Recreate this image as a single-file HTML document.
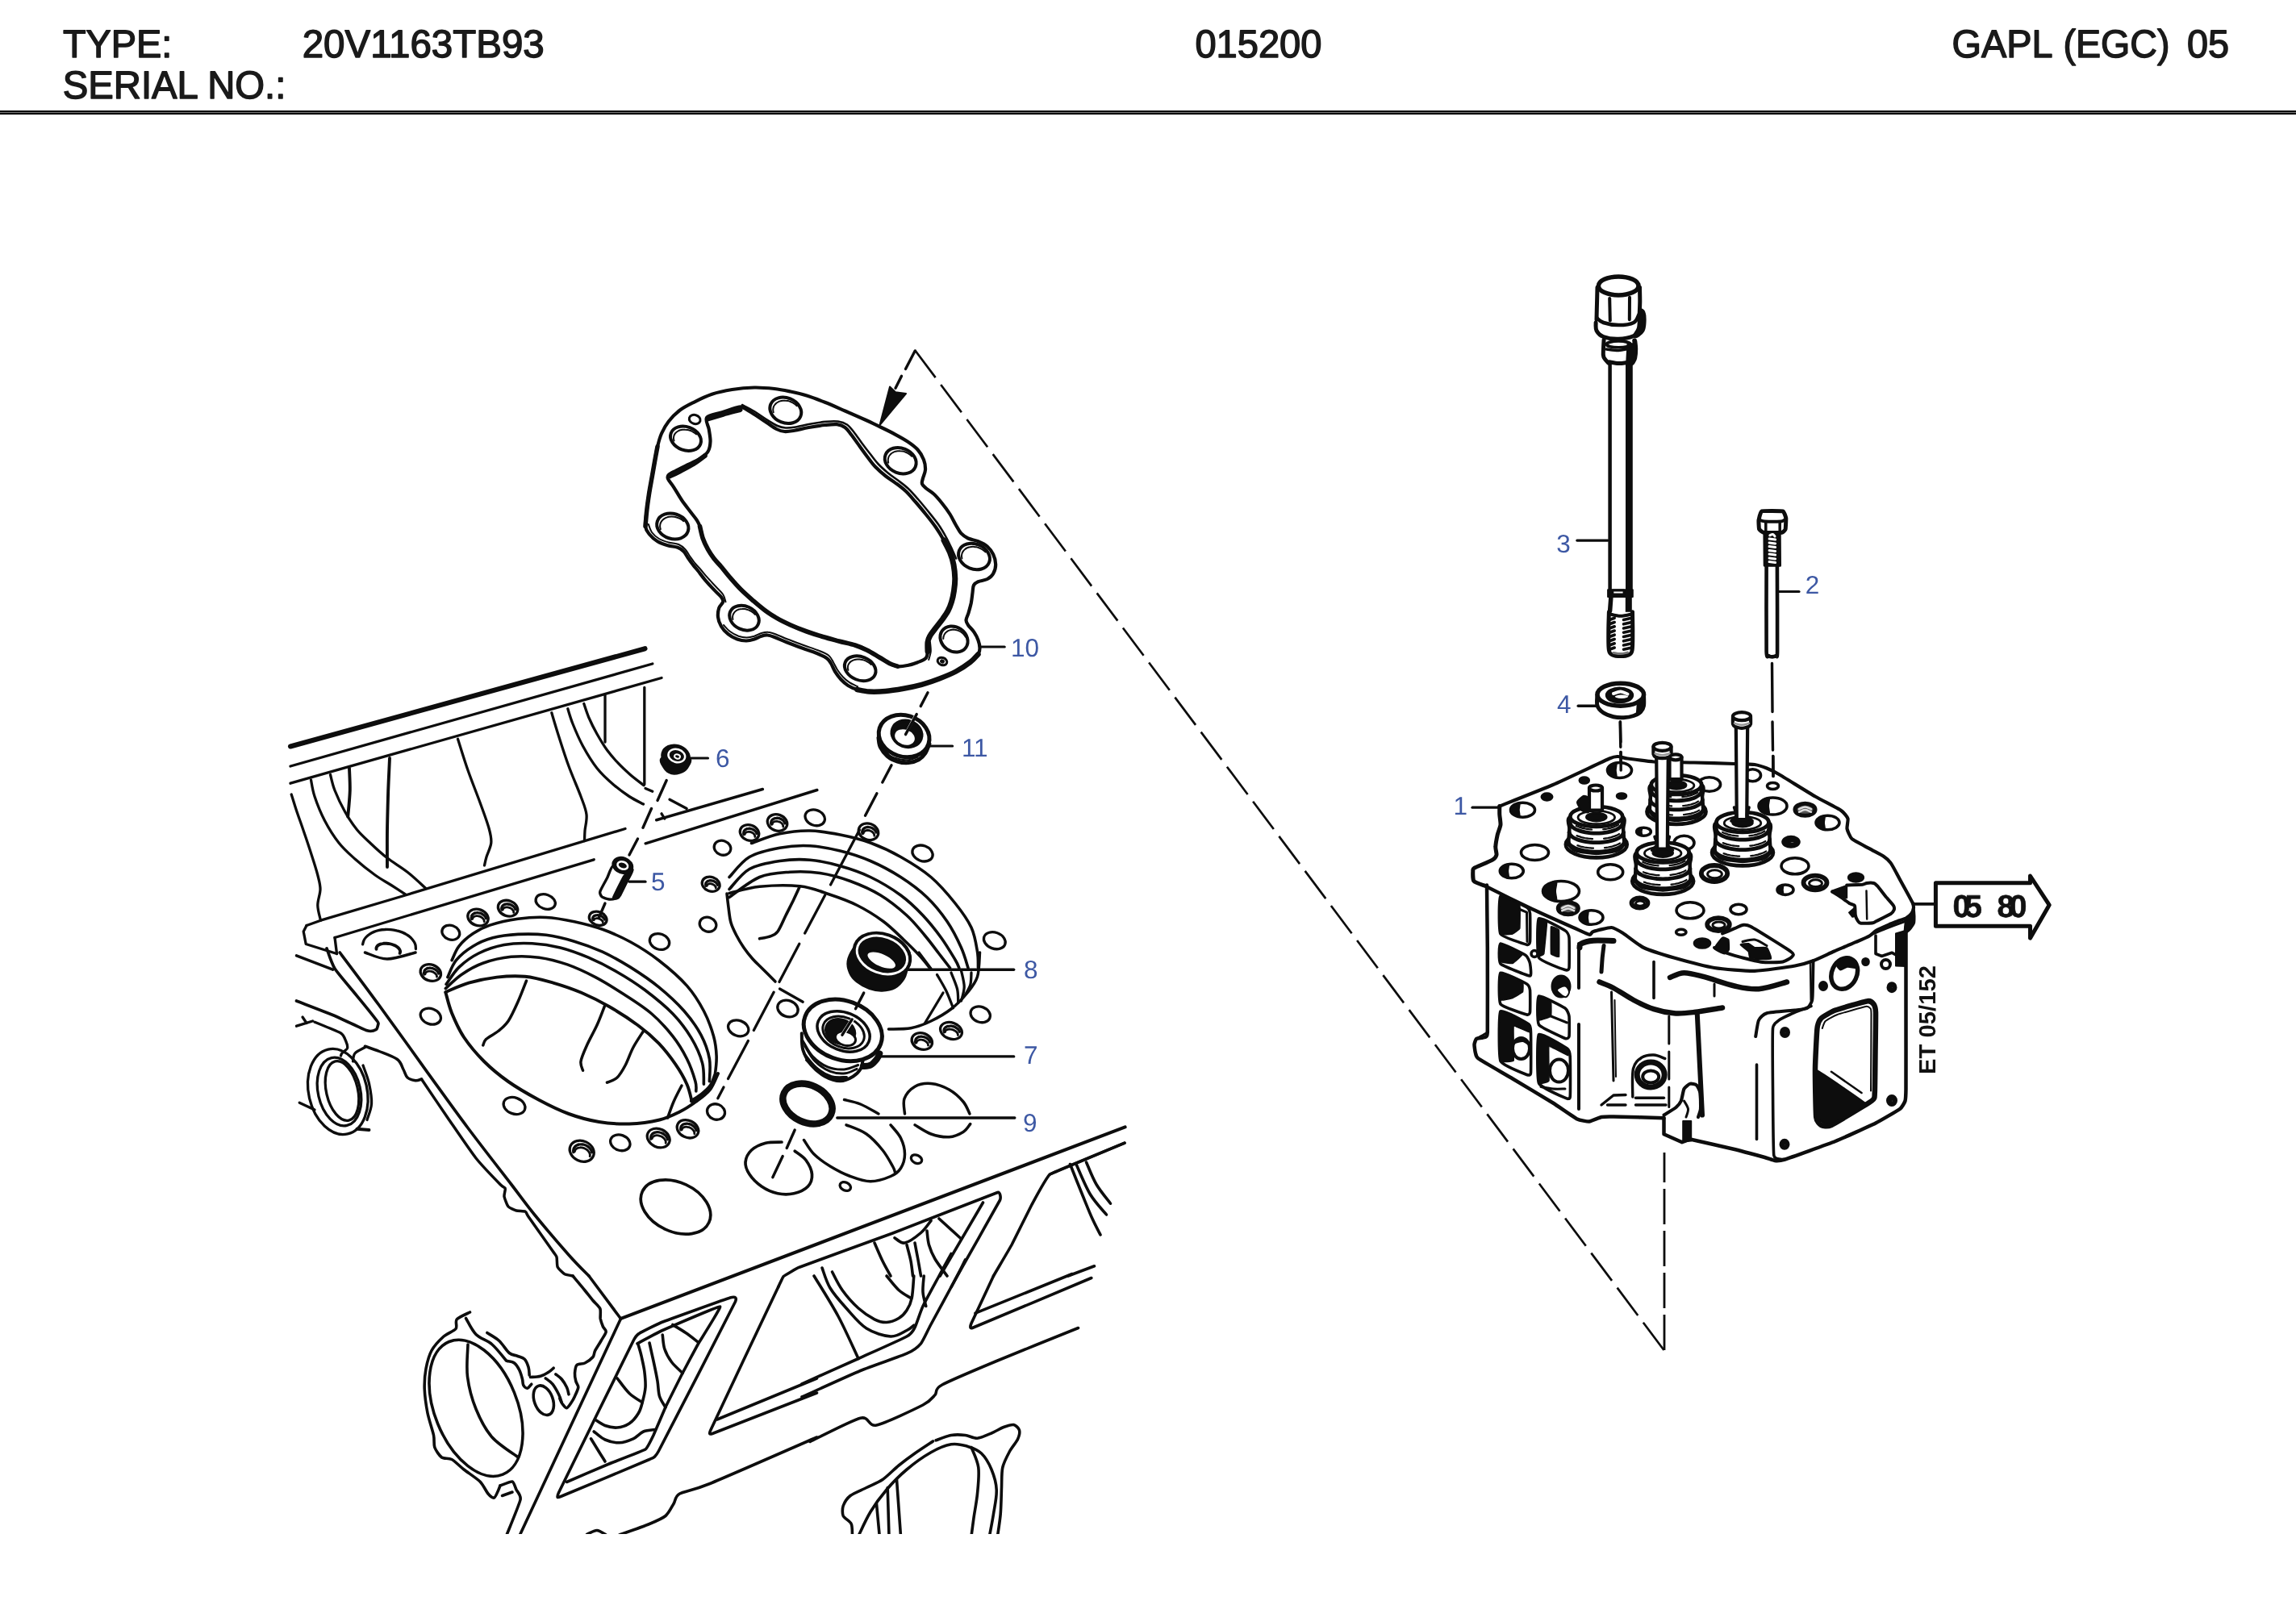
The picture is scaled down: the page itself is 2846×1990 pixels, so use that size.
<!DOCTYPE html>
<html lang="en"><head><meta charset="utf-8"><title>015200 - GAPL (EGC) 05</title>
<style>
html,body{margin:0;padding:0;background:#fff;}
body{width:2846px;height:1990px;overflow:hidden;font-family:"Liberation Sans",sans-serif;}
svg{display:block;}
svg text{font-family:"Liberation Sans",sans-serif;text-rendering:geometricPrecision;}
svg{will-change:transform;opacity:0.9999;}
</style></head><body>
<svg width="2846" height="1990" viewBox="0 0 2846 1990">
<rect width="2846" height="1990" fill="#fff"/>
<g fill="none" stroke="#0d0d0d" stroke-width="3" stroke-linecap="round" stroke-linejoin="round">
<rect x="0" y="137" width="2846" height="2" fill="#000" stroke="none"/>
<rect x="0" y="139" width="2846" height="1" fill="#7a7a7a" stroke="none"/>
<rect x="0" y="140" width="2846" height="2" fill="#000" stroke="none"/>
<text x="77.9" y="71.3" textLength="135.4" font-size="48.5" fill="#1a1a1a" stroke="#1a1a1a" stroke-width="1.5" stroke-linejoin="round" lengthAdjust="spacingAndGlyphs">TYPE:</text>
<text x="374.7" y="71.3" textLength="300.0" font-size="48.5" fill="#1a1a1a" stroke="#1a1a1a" stroke-width="1.5" stroke-linejoin="round" lengthAdjust="spacingAndGlyphs">20V1163TB93</text>
<text x="77.7" y="122.3" textLength="276.7" font-size="48.5" fill="#1a1a1a" stroke="#1a1a1a" stroke-width="1.5" stroke-linejoin="round" lengthAdjust="spacingAndGlyphs">SERIAL NO.:</text>
<text x="1481.4" y="71.3" textLength="157.1" font-size="48.5" fill="#1a1a1a" stroke="#1a1a1a" stroke-width="1.5" stroke-linejoin="round" lengthAdjust="spacingAndGlyphs">015200</text>
<text x="2419.6" y="71.3" textLength="125.1" font-size="48.5" fill="#1a1a1a" stroke="#1a1a1a" stroke-width="1.5" stroke-linejoin="round" lengthAdjust="spacingAndGlyphs">GAPL</text>
<text x="2557.4" y="71.3" textLength="132.1" font-size="48.5" fill="#1a1a1a" stroke="#1a1a1a" stroke-width="1.5" stroke-linejoin="round" lengthAdjust="spacingAndGlyphs">(EGC)</text>
<text x="2710.9" y="71.3" textLength="52.1" font-size="48.5" fill="#1a1a1a" stroke="#1a1a1a" stroke-width="1.5" stroke-linejoin="round" lengthAdjust="spacingAndGlyphs">05</text>
<path d="M800 652.5C799.5 647.5 801 639.2 801.8 632.5C802.5 625.8 803.5 619.2 804.5 612.5C805.5 605.8 806.8 599.2 808 592.5C809.2 585.8 810.3 579 811.5 572.5C812.7 566 813.6 559.6 815 553.8C816.4 547.9 817.7 542.7 820 537.5C822.3 532.3 825 527.3 828.8 522.5C832.5 517.7 837.3 512.7 842.5 508.8C847.7 504.8 853.3 502.1 860 498.8C866.7 495.4 874.6 491.4 882.5 488.8C890.4 486.1 898.8 484.4 907.5 483C916.2 481.6 926.2 480.7 935 480.5C943.8 480.3 952.5 481.2 960 482C967.5 482.8 973.3 484.1 980 485.5C986.7 486.9 992.9 488.3 1000 490.5C1007.1 492.7 1014.6 495.6 1022.5 498.8C1030.4 501.9 1039.2 505.9 1047.5 509.5C1055.8 513.1 1065 517.1 1072.5 520.5C1080 523.9 1086.2 527 1092.5 530C1098.8 533 1104.6 535.8 1110 538.8C1115.4 541.7 1120.4 544.4 1125 547.5C1129.6 550.6 1134.2 553.8 1137.5 557.5C1140.8 561.2 1143.4 565.8 1145 570C1146.6 574.2 1147.2 578.5 1147 582.5C1146.8 586.5 1144.4 590.8 1143.8 593.8C1143.1 596.7 1142.3 598 1143 600C1143.7 602 1145.6 603.4 1148 605.5C1150.4 607.6 1154.2 609.5 1157.5 612.5C1160.8 615.5 1164.2 619.6 1167.5 623.8C1170.8 627.9 1174.6 632.9 1177.5 637.5C1180.4 642.1 1182.7 647.3 1185 651.2C1187.3 655.2 1188.8 658.5 1191.2 661.2C1193.8 664 1196.5 665.8 1200 667.5C1203.5 669.2 1208.5 669.6 1212.5 671.2C1216.5 672.9 1220.6 674.8 1223.8 677.5C1226.9 680.2 1229.5 683.8 1231.2 687.5C1233 691.2 1234.2 696 1234.2 700C1234.2 704 1233 708.2 1231.2 711.2C1229.5 714.2 1226.9 716.3 1223.8 718C1220.6 719.7 1215.3 720 1212.5 721.2C1209.7 722.5 1208.2 723.2 1207 725.5C1205.8 727.8 1206 731.3 1205.5 735C1205 738.7 1204.6 743.3 1203.8 747.5C1202.9 751.7 1201.5 756.5 1200.5 760C1199.5 763.5 1197.6 766.2 1197.5 768.8C1197.4 771.2 1198.3 772.5 1200 775C1201.7 777.5 1205.4 780.6 1207.5 783.8C1209.6 786.9 1211.3 790.4 1212.5 793.8C1213.7 797.1 1214.5 800.8 1214.5 803.8C1214.5 806.7 1214.5 808.3 1212.5 811.2C1210.5 814.2 1207.1 817.7 1202.5 821.2C1197.9 824.8 1191.2 829.2 1185 832.5C1178.8 835.8 1172.1 838.5 1165 841.2C1157.9 844 1150 846.7 1142.5 848.8C1135 850.8 1127.5 852.4 1120 853.8C1112.5 855.1 1104.6 856.4 1097.5 857C1090.4 857.6 1083.3 857.8 1077.5 857.5C1071.7 857.2 1066.9 856.2 1062.5 855C1058.1 853.8 1054.6 852.1 1051.2 850C1047.9 847.9 1045.2 845.4 1042.5 842.5C1039.8 839.6 1037.1 835.8 1035 832.5C1032.9 829.2 1031.7 825.2 1030 822.5C1028.3 819.8 1027.9 818.3 1025 816.2C1022.1 814.2 1017.5 812.1 1012.5 810C1007.5 807.9 1001.2 806 995 803.8C988.8 801.5 980.8 798.5 975 796.2C969.2 794 964 791.5 960 790C956 788.5 954 787.7 951.2 787.5C948.5 787.3 946.5 787.9 943.8 788.8C941 789.6 938.1 791.5 935 792.5C931.9 793.5 928.5 794.5 925 794.5C921.5 794.5 917.5 793.9 913.8 792.5C910 791.1 905.8 789 902.5 786.2C899.2 783.5 895.8 779.8 893.8 776.2C891.7 772.7 890.4 768.8 890 765C889.6 761.2 890.2 756.9 891.2 753.8C892.3 750.6 895.8 748.5 896.2 746.2C896.7 744 895.6 742.5 893.8 740C891.9 737.5 888.3 734.8 885 731.2C881.7 727.7 877.1 722.7 873.8 718.8C870.4 714.8 867.5 710.6 865 707.5C862.5 704.4 860.8 702.7 858.8 700C856.7 697.3 854.4 694 852.5 691.2C850.6 688.5 849.6 685.8 847.5 683.8C845.4 681.7 843.3 680 840 678.8C836.7 677.5 831.7 677.5 827.5 676.2C823.3 675 818.8 673.5 815 671.2C811.2 669 807.5 665.6 805 662.5C802.5 659.4 800.5 657.5 800 652.5Z" stroke-width="4.2"/>
<path d="M876.2 517.5C879 514 888.3 513.4 895 511.2C901.7 509.1 911.7 505.3 916.2 504.5C920.8 503.7 919.4 504.7 922.5 506.2C925.6 507.8 930.4 510.8 935 513.8C939.6 516.7 945.4 520.7 950 523.8C954.6 526.8 958.8 530.1 962.5 532C966.2 533.9 968.8 534.7 972.5 535C976.2 535.3 980 534.6 985 533.8C990 532.9 996.2 531.1 1002.5 530C1008.8 528.9 1016.7 527.6 1022.5 527C1028.3 526.4 1033.3 525.8 1037.5 526.2C1041.7 526.8 1044.6 527.9 1047.5 530C1050.4 532.1 1052.1 535 1055 538.8C1057.9 542.5 1061.7 547.9 1065 552.5C1068.3 557.1 1071.7 561.9 1075 566.2C1078.3 570.6 1081.2 574.8 1085 578.8C1088.8 582.7 1093.3 586.7 1097.5 590C1101.7 593.3 1105.8 595.6 1110 598.8C1114.2 601.9 1118.3 604.8 1122.5 608.8C1126.7 612.7 1130.8 617.7 1135 622.5C1139.2 627.3 1143.3 632.3 1147.5 637.5C1151.7 642.7 1156.2 648.3 1160 653.8C1163.8 659.2 1167.1 664.8 1170 670C1172.9 675.2 1175.5 680 1177.5 685C1179.5 690 1181 694.6 1182 700C1183 705.4 1183.7 712.1 1183.8 717.5C1183.8 722.9 1183.2 727.7 1182.5 732.5C1181.8 737.3 1180.8 742.1 1179.5 746.2C1178.2 750.4 1177 753.8 1175 757.5C1173 761.2 1170.2 765 1167.5 768.8C1164.8 772.5 1161.2 776.7 1158.8 780C1156.2 783.3 1154 786 1152.5 788.8C1151 791.5 1150.4 793.1 1150 796.2C1149.6 799.4 1150.4 804.2 1150 807.5C1149.6 810.8 1149.6 814 1147.5 816.2C1145.4 818.5 1141.2 819.8 1137.5 821.2C1133.8 822.7 1129.2 824.2 1125 825C1120.8 825.8 1116.2 826.7 1112.5 826.2C1108.8 825.8 1106.2 824.4 1102.5 822.5C1098.8 820.6 1094.6 817.7 1090 815C1085.4 812.3 1080 808.8 1075 806.2C1070 803.8 1065.8 801.9 1060 800C1054.2 798.1 1046.7 796.8 1040 795C1033.3 793.2 1026.7 791.5 1020 789.5C1013.3 787.5 1006.7 785.4 1000 783C993.3 780.6 986.2 777.8 980 775C973.8 772.2 967.9 769.4 962.5 766.2C957.1 763.1 952.5 760 947.5 756.2C942.5 752.5 937.5 748.1 932.5 743.8C927.5 739.4 922.1 734.6 917.5 730C912.9 725.4 909 720.8 905 716.2C901 711.7 897.1 706.5 893.8 702.5C890.4 698.5 887.7 696 885 692.5C882.3 689 879.8 685.4 877.5 681.2C875.2 677.1 872.9 672.3 871.2 667.5C869.6 662.7 868.8 656.2 867.5 652.5C866.2 648.8 865.6 647.9 863.8 645C861.9 642.1 859.4 639.2 856.2 635C853.1 630.8 848.5 625.2 845 620C841.5 614.8 837.8 608.1 835 603.8C832.2 599.4 829 596.2 828 593.8C827 591.2 827.2 590.4 828.8 588.8C830.3 587.1 833.5 585.8 837.5 583.8C841.5 581.7 847.5 578.8 852.5 576.2C857.5 573.8 863.3 571.5 867.5 568.8C871.7 566 875.3 563.5 877.5 560C879.7 556.5 880.3 552.1 880.5 547.5C880.7 542.9 879.5 537.5 878.8 532.5C878 527.5 873.5 521 876.2 517.5Z" stroke-width="4.2"/>
<path d="M1170 670C1171.2 672.5 1175.5 680 1177.5 685C1179.5 690 1181 694.6 1182 700C1183 705.4 1183.7 712.1 1183.8 717.5C1183.8 722.9 1183.2 727.7 1182.5 732.5C1181.8 737.3 1180.8 742.1 1179.5 746.2C1178.2 750.4 1177 753.8 1175 757.5C1173 761.2 1170.2 765 1167.5 768.8C1164.8 772.5 1161.2 776.7 1158.8 780C1156.2 783.3 1154 786 1152.5 788.8C1151 791.5 1150.4 793.1 1150 796.2C1149.6 799.4 1150 805.6 1150 807.5" stroke-width="7"/>
<path d="M1112.5 826.2C1110.8 825.6 1106.2 824.4 1102.5 822.5C1098.8 820.6 1094.6 817.7 1090 815C1085.4 812.3 1080 808.8 1075 806.2C1070 803.8 1065.8 801.9 1060 800C1054.2 798.1 1046.7 796.8 1040 795C1033.3 793.2 1026.7 791.5 1020 789.5C1013.3 787.5 1006.7 785.4 1000 783C993.3 780.6 986.2 777.8 980 775C973.8 772.2 967.9 769.4 962.5 766.2C957.1 763.1 952.5 760 947.5 756.2C942.5 752.5 937.5 748.1 932.5 743.8C927.5 739.4 922.1 734.6 917.5 730C912.9 725.4 909 720.8 905 716.2C901 711.7 897.1 706.5 893.8 702.5C890.4 698.5 887.7 696 885 692.5C882.3 689 879.8 685.4 877.5 681.2C875.2 677.1 872.9 672.3 871.2 667.5C869.6 662.7 868.1 655 867.5 652.5" stroke-width="5.6"/>
<path d="M1212.5 811.2C1210.8 812.9 1207.1 817.7 1202.5 821.2C1197.9 824.8 1191.2 829.2 1185 832.5C1178.8 835.8 1172.1 838.5 1165 841.2C1157.9 844 1150 846.7 1142.5 848.8C1135 850.8 1127.5 852.4 1120 853.8C1112.5 855.1 1104.6 856.4 1097.5 857C1090.4 857.6 1083.3 857.8 1077.5 857.5C1071.7 857.2 1065 855.4 1062.5 855" stroke-width="6.5"/>
<path d="M800 652.5C800.3 649.2 801 639.2 801.8 632.5C802.5 625.8 803.5 619.2 804.5 612.5C805.5 605.8 806.8 599.2 808 592.5C809.2 585.8 810.3 579 811.5 572.5C812.7 566 814.4 556.9 815 553.8" stroke-width="5.5"/>
<path d="M877.5 519.5C880.6 518.5 889.6 515.7 896.2 513.8C902.9 511.8 914 509 917.5 508" stroke-width="6"/>
<path d="M830 590.5C832.1 589.5 837.5 587.1 842.5 584.5C847.5 581.9 854.8 578.2 860 575C865.2 571.8 871.5 566.7 873.8 565" stroke-width="6"/>
<path d="M920 502C922.5 503.3 930 507 935 510C940 513 945.2 517 950 520C954.8 523 959.8 526.2 963.8 528C967.7 529.8 970 530.2 973.8 530.5C977.5 530.8 981.2 530.3 986.2 529.5C991.2 528.7 997.5 526.9 1003.8 525.8C1010 524.6 1017.9 523.3 1023.8 522.8C1029.6 522.2 1034.4 521.9 1038.8 522.5C1043.1 523.1 1046.7 524.2 1050 526.5C1053.3 528.8 1055.6 532.3 1058.8 536.2C1061.9 540.2 1065.4 545.5 1068.8 550C1072.1 554.5 1075.4 558.8 1078.8 563C1082.1 567.2 1085.1 571.6 1088.8 575.5C1092.4 579.4 1096.5 582.9 1100.5 586.2C1104.5 589.6 1108.8 592.3 1113 595.5C1117.2 598.7 1121.3 601.6 1125.5 605.5C1129.7 609.4 1133.8 614.2 1138 619C1142.2 623.8 1146.3 628.8 1150.5 634C1154.7 639.2 1159.2 644.6 1163 650C1166.8 655.4 1170.1 661.2 1173 666.5C1175.9 671.8 1178.5 677.7 1180.5 682C1182.5 686.3 1184.2 690.8 1185 692.5" stroke-width="2.6"/>
<path d="M803.8 650C804.5 651.7 805.8 657 808 660C810.2 663 813.5 665.9 817 668C820.5 670.1 824.7 671.3 828.8 672.5C832.8 673.7 837.8 673.5 841.2 675C844.7 676.5 847.2 678.8 849.5 681.2C851.8 683.7 853 686.7 855 689.5C857 692.3 859.1 695.3 861.2 698C863.4 700.7 865.4 702.5 868 705.5C870.6 708.5 873.8 712.6 877 716.2C880.2 719.9 884.3 724 887.5 727.5C890.7 731 894.2 733.9 896.2 737C898.2 740.1 899 744.7 899.5 746.2" stroke-width="2"/>
<path d="M897 775C898.3 776.3 901.9 780.7 905 783C908.1 785.3 912.1 787.5 915.5 788.8C918.9 790 922.2 790.5 925.5 790.5C928.8 790.5 932 789.7 935 788.8C938 787.8 940.9 785.8 943.8 785C946.6 784.2 949.1 783.5 952 783.8C954.9 784 957.2 784.8 961.2 786.2C965.3 787.7 970.4 790.2 976.2 792.5C982.1 794.8 990 797.7 996.2 800C1002.5 802.3 1008.6 804.2 1013.8 806.2C1018.9 808.3 1023.8 810 1027 812.5C1030.2 815 1031.2 818.2 1033 821.2C1034.8 824.2 1036 827.5 1038 830.5C1040 833.5 1042.5 836.9 1045 839.5C1047.5 842.1 1050 844.3 1053 846.2C1056 848.2 1061.3 850.4 1063 851.2" stroke-width="2"/>
<path d="M1153 796.2C1153.1 798.1 1154 803.9 1153.8 807.5C1153.5 811.1 1151.7 816.2 1151.2 818" stroke-width="2"/>
<ellipse cx="850" cy="543.8" rx="19.5" ry="14.5" transform="rotate(20 850 543.8)" stroke-width="4"/>
<path d="M835.5 546.6C835.4 546.2 835.1 544.9 835 544.1C834.9 543.3 835 542.5 835.1 541.8C835.2 541 835.4 540.2 835.7 539.5C836 538.8 836.4 538.1 836.9 537.5C837.4 536.8 837.9 536.2 838.6 535.7C839.2 535.2 839.9 534.7 840.7 534.3C841.5 533.9 842.3 533.6 843.2 533.3C844.1 533.1 845.1 532.9 846 532.8C847 532.7 848 532.6 849 532.7C850 532.7 851.1 532.8 852.1 533C853.1 533.2 854.2 533.5 855.2 533.8C856.2 534.1 857.2 534.5 858.1 535C859 535.5 860 536 860.8 536.6C861.7 537.2 862.8 538.2 863.2 538.5" stroke-width="2"/>
<ellipse cx="973.8" cy="508.8" rx="20" ry="15.5" transform="rotate(22 973.8 508.8)" stroke-width="4"/>
<path d="M958.7 511.3C958.6 510.9 958.3 509.6 958.3 508.7C958.2 507.8 958.3 507 958.5 506.1C958.6 505.3 958.9 504.5 959.2 503.7C959.6 503 960 502.2 960.6 501.6C961.1 500.9 961.7 500.3 962.4 499.7C963.1 499.2 963.9 498.7 964.7 498.3C965.5 497.9 966.4 497.5 967.4 497.3C968.3 497 969.3 496.8 970.3 496.7C971.3 496.6 972.3 496.6 973.4 496.7C974.4 496.7 975.5 496.9 976.6 497.1C977.6 497.3 978.7 497.6 979.7 498C980.7 498.4 981.7 498.8 982.7 499.3C983.6 499.9 984.5 500.5 985.4 501.1C986.2 501.7 987.3 502.8 987.7 503.2" stroke-width="2"/>
<ellipse cx="1116.2" cy="571.2" rx="20" ry="15.5" transform="rotate(22 1116.2 571.2)" stroke-width="4"/>
<path d="M1101.2 573.8C1101.1 573.4 1100.8 572.1 1100.8 571.2C1100.7 570.3 1100.8 569.5 1101 568.6C1101.1 567.8 1101.4 567 1101.7 566.2C1102.1 565.5 1102.5 564.7 1103.1 564.1C1103.6 563.4 1104.2 562.8 1104.9 562.2C1105.6 561.7 1106.4 561.2 1107.2 560.8C1108 560.4 1108.9 560 1109.9 559.8C1110.8 559.5 1111.8 559.3 1112.8 559.2C1113.8 559.1 1114.8 559.1 1115.9 559.2C1116.9 559.2 1118 559.4 1119.1 559.6C1120.1 559.8 1121.2 560.1 1122.2 560.5C1123.2 560.9 1124.2 561.3 1125.2 561.8C1126.1 562.4 1127 563 1127.9 563.6C1128.7 564.2 1129.8 565.3 1130.2 565.7" stroke-width="2"/>
<ellipse cx="833.8" cy="652.5" rx="20" ry="15.5" transform="rotate(18 833.8 652.5)" stroke-width="4"/>
<path d="M818.8 656.2C818.7 655.8 818.3 654.5 818.2 653.6C818.1 652.8 818.1 651.9 818.2 651.1C818.3 650.2 818.5 649.4 818.8 648.6C819.1 647.8 819.5 647.1 820 646.4C820.4 645.7 821 645 821.7 644.4C822.3 643.8 823.1 643.3 823.8 642.8C824.6 642.3 825.5 641.9 826.4 641.6C827.3 641.3 828.3 641 829.3 640.8C830.3 640.7 831.4 640.6 832.4 640.6C833.5 640.6 834.6 640.6 835.6 640.8C836.7 640.9 837.8 641.2 838.8 641.5C839.8 641.8 840.9 642.2 841.9 642.6C842.8 643.1 843.8 643.6 844.7 644.2C845.6 644.7 846.8 645.8 847.2 646.1" stroke-width="2"/>
<ellipse cx="1207.5" cy="690" rx="20" ry="15.5" transform="rotate(22 1207.5 690)" stroke-width="4"/>
<path d="M1192.4 692.6C1192.4 692.1 1192.1 690.8 1192 689.9C1192 689.1 1192 688.2 1192.2 687.4C1192.4 686.6 1192.6 685.7 1193 685C1193.3 684.2 1193.8 683.5 1194.3 682.8C1194.8 682.2 1195.5 681.5 1196.2 681C1196.8 680.4 1197.6 679.9 1198.4 679.5C1199.3 679.1 1200.2 678.8 1201.1 678.5C1202 678.3 1203 678.1 1204 678C1205 677.9 1206.1 677.8 1207.1 677.9C1208.2 678 1209.3 678.1 1210.3 678.3C1211.4 678.6 1212.4 678.9 1213.4 679.2C1214.5 679.6 1215.5 680.1 1216.4 680.6C1217.4 681.1 1218.3 681.7 1219.1 682.4C1220 683 1221.1 684.1 1221.5 684.4" stroke-width="2"/>
<ellipse cx="922.5" cy="766.2" rx="19" ry="14.5" transform="rotate(25 922.5 766.2)" stroke-width="4"/>
<path d="M908.4 767.9C908.4 767.5 908.1 766.2 908.1 765.4C908.1 764.6 908.2 763.8 908.4 763C908.6 762.3 908.9 761.5 909.3 760.9C909.6 760.2 910.1 759.5 910.6 758.9C911.1 758.3 911.7 757.8 912.4 757.3C913.1 756.9 913.8 756.4 914.6 756.1C915.4 755.8 916.3 755.5 917.2 755.3C918 755.1 919 755 919.9 755C920.9 754.9 921.9 755 922.9 755.1C923.8 755.2 924.8 755.4 925.8 755.7C926.8 755.9 927.8 756.3 928.7 756.7C929.7 757.1 930.6 757.6 931.5 758.1C932.3 758.6 933.2 759.2 933.9 759.9C934.7 760.5 935.7 761.6 936.1 761.9" stroke-width="2"/>
<ellipse cx="1066.2" cy="828.8" rx="20" ry="14.5" transform="rotate(22 1066.2 828.8)" stroke-width="4"/>
<path d="M1051.4 830.9C1051.3 830.5 1050.9 829.2 1050.9 828.4C1050.8 827.6 1050.9 826.8 1051 826C1051.1 825.2 1051.4 824.5 1051.7 823.8C1052 823.1 1052.5 822.4 1053 821.8C1053.5 821.2 1054.1 820.6 1054.8 820.1C1055.4 819.6 1056.2 819.2 1057 818.8C1057.8 818.4 1058.7 818.1 1059.6 817.9C1060.5 817.7 1061.5 817.6 1062.5 817.5C1063.5 817.4 1064.5 817.4 1065.6 817.5C1066.6 817.6 1067.7 817.8 1068.7 818C1069.7 818.2 1070.8 818.5 1071.8 818.9C1072.8 819.3 1073.8 819.8 1074.8 820.3C1075.7 820.8 1076.7 821.4 1077.5 822C1078.4 822.6 1079.5 823.7 1079.9 824" stroke-width="2"/>
<ellipse cx="1182.5" cy="792.5" rx="18" ry="15" transform="rotate(35 1182.5 792.5)" stroke-width="4"/>
<path d="M1169.3 792.1C1169.3 791.7 1169.4 790.4 1169.6 789.6C1169.7 788.8 1170 788 1170.3 787.3C1170.7 786.6 1171.1 785.9 1171.6 785.2C1172.1 784.6 1172.7 784 1173.3 783.5C1173.9 782.9 1174.6 782.5 1175.3 782.1C1176.1 781.7 1176.9 781.4 1177.7 781.2C1178.5 780.9 1179.4 780.8 1180.3 780.7C1181.2 780.6 1182.1 780.6 1183 780.7C1183.9 780.8 1184.9 780.9 1185.8 781.2C1186.7 781.4 1187.6 781.7 1188.4 782.1C1189.3 782.5 1190.2 783 1191 783.5C1191.8 784.1 1192.6 784.7 1193.3 785.3C1194 785.9 1194.6 786.6 1195.2 787.4C1195.8 788.1 1196.5 789.3 1196.8 789.7" stroke-width="2"/>
<ellipse cx="861.2" cy="520" rx="7" ry="5.5" transform="rotate(15 861.2 520)"/>
<ellipse cx="1168" cy="820" rx="6" ry="4.5" transform="rotate(20 1168 820)"/>
<ellipse cx="1168" cy="820" rx="2" ry="1.5" transform="rotate(20 1168 820)" stroke-width="2" fill="#0d0d0d"/>
<path d="M360 925.5L799.5 804.2" stroke-width="6.1"/>
<path d="M360 950L808.8 823" stroke-width="3.3"/>
<path d="M360 971.2L820 840.5" stroke-width="3.3"/>
<path d="M385.5 967C386.2 970.4 387.2 979.1 390 987.5C392.8 995.9 397.5 1007.9 402.5 1017.5C407.5 1027.1 413.8 1037.1 420 1045C426.2 1052.9 432.5 1058.3 440 1065C447.5 1071.7 457.5 1079.6 465 1085C472.5 1090.4 478.8 1093.5 485 1097.5C491.2 1101.5 499.6 1106.9 502.5 1108.8" stroke-width="3.3"/>
<path d="M409.5 960.5C410.4 963.8 412 972.4 415 980C418 987.6 422.9 998.1 427.5 1006.2C432.1 1014.4 437.1 1022.1 442.5 1028.8C447.9 1035.4 453.8 1040.4 460 1046.2C466.2 1052.1 472.5 1057.9 480 1063.8C487.5 1069.6 497.1 1075 505 1081.2C512.9 1087.5 523.8 1097.9 527.5 1101.2" stroke-width="3.3"/>
<path d="M433 952.5C433.1 957.1 434 970 433.8 980C433.5 990 431.7 1007.1 431.2 1012.5" stroke-width="3.9"/>
<path d="M483 940C482.7 946.7 481.8 965 481.2 980C480.8 995 480.2 1014.2 480 1030C479.8 1045.8 480 1067.5 480 1075" stroke-width="3.9"/>
<path d="M361.2 985C362.3 988.3 365 997.5 367.5 1005C370 1012.5 373.1 1020.8 376.2 1030C379.4 1039.2 383.3 1050.8 386.2 1060C389.2 1069.2 392 1077.9 393.8 1085C395.5 1092.1 397 1096.2 397 1102.5C397 1108.8 393.7 1116 393.8 1122.5C393.8 1129 396.9 1138.1 397.5 1141.2" stroke-width="3.3"/>
<path d="M567.5 916.2C569.6 922.7 575.4 941.9 580 955C584.6 968.1 590.6 982.9 595 995C599.4 1007.1 604 1019.2 606.2 1027.5C608.5 1035.8 609.3 1039.2 608.8 1045C608.2 1050.8 604.4 1057.8 603 1062.5C601.6 1067.2 600.9 1071.2 600.5 1073" stroke-width="3.3"/>
<path d="M683.8 883.8C685.2 888.5 689 901.5 692.5 912.5C696 923.5 700.4 937.5 705 950C709.6 962.5 716.3 977.5 720 987.5C723.7 997.5 726.2 1002.9 727 1010C727.8 1017.1 725.4 1024.6 725 1030C724.6 1035.4 724.6 1040.4 724.5 1042.5" stroke-width="3.3"/>
<path d="M703.8 878.8C704.8 881.9 706.9 889.8 710 897.5C713.1 905.2 717.5 915.8 722.5 925C727.5 934.2 733.8 944.6 740 952.5C746.2 960.4 753.3 966.7 760 972.5C766.7 978.3 773.8 983.4 780 987.5C786.2 991.6 794.6 995.4 797.5 997" stroke-width="3.3"/>
<path d="M723.8 872.5C724.8 875.4 727.3 883.8 730 890C732.7 896.2 736.2 903.3 740 910C743.8 916.7 748.1 924 752.5 930C756.9 936 761.5 941.2 766.2 946.2C771 951.3 776 955.9 781.2 960.5C786.5 965.1 795.2 971.5 798 973.8" stroke-width="3.3"/>
<path d="M750 862.5L750 920" stroke-width="3.3"/>
<path d="M798.8 852.5L798.8 972.5" stroke-width="3.3"/>
<path d="M800 977.5L808.8 981.2" stroke-width="3.3"/>
<path d="M380 1147.5C380 1147.5 397.5 1141.2 397.5 1141.2C397.5 1141.2 502.5 1110 502.5 1110C502.5 1110 775 1027.5 775 1027.5" stroke-width="3.3"/>
<path d="M415 1162.5L736.2 1065.8" stroke-width="3.3"/>
<path d="M830 991.2L851.2 1002.5" stroke-width="3.3"/>
<path d="M820 1008.8L823.8 1015" stroke-width="3.3"/>
<path d="M380 1147.5L376.2 1155L379.2 1170.5L417.5 1182.5" stroke-width="3.3"/>
<path d="M415 1162.5L417.5 1182.5" stroke-width="3.3"/>
<ellipse cx="676.2" cy="1118" rx="12.5" ry="8.8" transform="rotate(20 676.2 1118)" stroke-width="3.3"/>
<ellipse cx="629.5" cy="1126.2" rx="12.5" ry="9.5" transform="rotate(20 629.5 1126.2)" stroke-width="3.3"/>
<path d="M622.1 1128.1C622 1127.9 621.8 1127.1 621.8 1126.6C621.7 1126.1 621.8 1125.6 621.9 1125.1C622 1124.7 622.2 1124.2 622.5 1123.8C622.7 1123.4 623.1 1123 623.4 1122.7C623.8 1122.3 624.3 1122 624.8 1121.8C625.3 1121.5 625.8 1121.3 626.4 1121.2C626.9 1121 627.6 1121 628.2 1120.9C628.8 1120.9 629.5 1120.9 630.1 1121C630.8 1121.1 631.4 1121.2 632.1 1121.4C632.7 1121.6 633.4 1121.9 634 1122.2C634.6 1122.5 635.1 1122.8 635.7 1123.2C636.2 1123.6 636.7 1124 637.1 1124.4C637.5 1124.9 637.9 1125.4 638.2 1125.9C638.5 1126.3 638.8 1127.1 638.9 1127.4" stroke-width="3.3"/>
<path d="M623.3 1128.1C623.3 1128 623.4 1127.5 623.5 1127.1C623.6 1126.8 623.8 1126.6 624.1 1126.3C624.3 1126 624.6 1125.8 625 1125.6C625.3 1125.4 625.7 1125.3 626.1 1125.2C626.5 1125 626.9 1125 627.4 1124.9C627.9 1124.9 628.4 1124.9 628.9 1124.9C629.4 1125 629.9 1125 630.4 1125.2C630.9 1125.3 631.4 1125.5 631.9 1125.6C632.3 1125.8 632.8 1126.1 633.3 1126.3C633.7 1126.6 634.1 1126.9 634.5 1127.2C634.9 1127.5 635.2 1127.8 635.5 1128.2C635.8 1128.5 636 1128.9 636.2 1129.2C636.4 1129.6 636.6 1130 636.7 1130.3C636.7 1130.7 636.7 1131.2 636.7 1131.4" stroke-width="2.8"/>
<ellipse cx="592.5" cy="1137.5" rx="13" ry="10" transform="rotate(20 592.5 1137.5)" stroke-width="3.3"/>
<path d="M584.6 1139.5C584.5 1139.2 584.3 1138.4 584.3 1137.8C584.2 1137.3 584.3 1136.8 584.4 1136.3C584.5 1135.7 584.8 1135.3 585 1134.8C585.3 1134.4 585.7 1133.9 586.1 1133.6C586.5 1133.2 587 1132.9 587.5 1132.6C588 1132.3 588.6 1132.1 589.2 1132C589.8 1131.8 590.4 1131.7 591.1 1131.7C591.8 1131.6 592.5 1131.7 593.2 1131.8C593.8 1131.8 594.5 1132 595.2 1132.2C595.9 1132.4 596.6 1132.7 597.2 1133C597.8 1133.3 598.4 1133.7 599 1134.1C599.5 1134.5 600.1 1134.9 600.5 1135.4C601 1135.9 601.4 1136.4 601.7 1136.9C602 1137.4 602.3 1138.3 602.4 1138.5" stroke-width="3.3"/>
<path d="M585.8 1139.3C585.8 1139.1 585.9 1138.5 586 1138.2C586.2 1137.9 586.4 1137.5 586.7 1137.3C586.9 1137 587.3 1136.7 587.6 1136.5C588 1136.3 588.4 1136.1 588.8 1136C589.3 1135.8 589.8 1135.7 590.3 1135.7C590.8 1135.6 591.3 1135.6 591.8 1135.7C592.4 1135.7 592.9 1135.8 593.5 1135.9C594 1136.1 594.5 1136.2 595.1 1136.4C595.6 1136.6 596.1 1136.9 596.6 1137.2C597 1137.4 597.5 1137.8 597.9 1138.1C598.3 1138.4 598.6 1138.8 598.9 1139.2C599.3 1139.5 599.5 1139.9 599.7 1140.3C599.9 1140.7 600.1 1141.1 600.2 1141.5C600.2 1141.9 600.2 1142.5 600.2 1142.7" stroke-width="2.8"/>
<ellipse cx="558.8" cy="1156.2" rx="11.2" ry="8.8" transform="rotate(20 558.8 1156.2)" stroke-width="3.3"/>
<ellipse cx="741.2" cy="1138.8" rx="11.2" ry="8.2" transform="rotate(20 741.2 1138.8)" stroke-width="3.3"/>
<path d="M735 1140.4C735 1140.2 734.8 1139.6 734.8 1139.2C734.7 1138.8 734.8 1138.4 734.9 1138C734.9 1137.6 735.1 1137.2 735.3 1136.9C735.5 1136.6 735.8 1136.2 736.1 1136C736.4 1135.7 736.8 1135.5 737.2 1135.3C737.7 1135.1 738.1 1134.9 738.6 1134.8C739.1 1134.7 739.6 1134.7 740.2 1134.7C740.7 1134.6 741.3 1134.7 741.8 1134.8C742.4 1134.8 742.9 1135 743.5 1135.1C744 1135.3 744.6 1135.5 745.1 1135.8C745.6 1136 746.1 1136.3 746.6 1136.6C747 1136.9 747.5 1137.3 747.8 1137.7C748.2 1138 748.5 1138.4 748.8 1138.8C749.1 1139.2 749.3 1139.9 749.5 1140.1" stroke-width="3.3"/>
<path d="M736.2 1140.8C736.3 1140.7 736.3 1140.4 736.4 1140.1C736.5 1139.9 736.7 1139.7 736.8 1139.5C737 1139.4 737.3 1139.2 737.5 1139.1C737.8 1138.9 738.1 1138.8 738.4 1138.8C738.8 1138.7 739.1 1138.6 739.5 1138.6C739.9 1138.6 740.3 1138.6 740.7 1138.7C741.1 1138.7 741.5 1138.8 741.9 1138.9C742.3 1139 742.7 1139.1 743.1 1139.3C743.5 1139.5 743.9 1139.6 744.3 1139.8C744.6 1140 745 1140.3 745.3 1140.5C745.6 1140.7 745.9 1141 746.2 1141.3C746.4 1141.5 746.6 1141.8 746.8 1142.1C747 1142.3 747.1 1142.6 747.2 1142.9C747.2 1143.1 747.2 1143.5 747.3 1143.7" stroke-width="2.8"/>
<ellipse cx="881.2" cy="1096.2" rx="11.2" ry="8.8" transform="rotate(20 881.2 1096.2)" stroke-width="3.3"/>
<path d="M875 1098.2C874.9 1097.9 874.7 1097.3 874.7 1096.8C874.7 1096.4 874.7 1095.9 874.8 1095.5C874.9 1095.1 875.1 1094.7 875.3 1094.3C875.6 1094 875.9 1093.6 876.2 1093.3C876.5 1093 876.9 1092.7 877.3 1092.5C877.8 1092.3 878.2 1092.1 878.7 1092C879.2 1091.9 879.8 1091.8 880.3 1091.7C880.9 1091.7 881.4 1091.7 882 1091.8C882.5 1091.9 883.1 1092 883.7 1092.2C884.2 1092.3 884.8 1092.5 885.3 1092.8C885.8 1093.1 886.3 1093.4 886.7 1093.7C887.2 1094 887.6 1094.4 888 1094.8C888.3 1095.2 888.7 1095.6 888.9 1096C889.2 1096.4 889.4 1097.1 889.5 1097.3" stroke-width="3.3"/>
<path d="M876.2 1098.4C876.2 1098.3 876.3 1097.9 876.4 1097.6C876.5 1097.4 876.7 1097.1 876.9 1096.9C877.1 1096.7 877.3 1096.5 877.6 1096.3C877.9 1096.2 878.2 1096 878.5 1095.9C878.9 1095.8 879.3 1095.8 879.6 1095.7C880 1095.7 880.4 1095.7 880.8 1095.7C881.2 1095.8 881.7 1095.8 882.1 1095.9C882.5 1096 882.9 1096.2 883.3 1096.3C883.7 1096.5 884.1 1096.7 884.4 1096.9C884.8 1097.1 885.2 1097.3 885.5 1097.6C885.8 1097.8 886 1098.1 886.3 1098.4C886.5 1098.7 886.7 1099 886.9 1099.3C887 1099.6 887.2 1099.9 887.2 1100.2C887.3 1100.5 887.3 1100.9 887.3 1101.1" stroke-width="2.8"/>
<ellipse cx="877.5" cy="1146.2" rx="10.5" ry="8.8" transform="rotate(20 877.5 1146.2)" stroke-width="3.3"/>
<ellipse cx="895.5" cy="1051.2" rx="10.5" ry="8.8" transform="rotate(20 895.5 1051.2)" stroke-width="3.3"/>
<ellipse cx="817.5" cy="1167.5" rx="12.5" ry="9.5" transform="rotate(20 817.5 1167.5)" stroke-width="3.3"/>
<path d="M449.6 1170.9C449.8 1170.1 450.2 1167.7 450.9 1166.2C451.5 1164.8 452.5 1163.3 453.7 1162C454.9 1160.7 456.3 1159.4 458 1158.3C459.6 1157.2 461.5 1156.2 463.5 1155.4C465.4 1154.6 467.6 1153.9 469.9 1153.4C472.2 1152.9 474.6 1152.6 477 1152.5C479.4 1152.3 481.9 1152.4 484.4 1152.6C486.8 1152.8 489.3 1153.2 491.6 1153.8C494 1154.3 496.3 1155.1 498.4 1155.9C500.6 1156.8 502.6 1157.8 504.4 1159C506.3 1160.1 507.9 1161.4 509.4 1162.8C510.8 1164.2 512 1165.6 512.9 1167.2C513.9 1168.7 514.6 1170.3 515 1171.8C515.4 1173.4 515.3 1175.8 515.4 1176.6" stroke-width="3.3"/>
<path d="M466.5 1176.8C466.5 1176.5 466.4 1175.4 466.6 1174.8C466.8 1174.2 467.2 1173.6 467.7 1173C468.2 1172.5 468.8 1172 469.6 1171.5C470.3 1171.1 471.3 1170.7 472.2 1170.5C473.2 1170.2 474.3 1170 475.4 1169.8C476.5 1169.7 477.7 1169.7 479 1169.7C480.2 1169.8 481.4 1169.9 482.6 1170.1C483.9 1170.3 485.1 1170.6 486.2 1171C487.4 1171.4 488.5 1171.8 489.5 1172.3C490.5 1172.8 491.5 1173.4 492.3 1174C493.1 1174.6 493.8 1175.3 494.4 1175.9C495 1176.6 495.4 1177.3 495.7 1178C496 1178.6 496.1 1179.3 496.1 1180C496.1 1180.7 495.6 1181.6 495.6 1181.9" stroke-width="3.9"/>
<path d="M813.7 1016.7L945.3 978.5" stroke-width="3.5"/>
<path d="M800.2 1045.8L1012.8 979.5" stroke-width="3.5"/>
<ellipse cx="929" cy="1032.5" rx="12" ry="9.5" transform="rotate(20 929 1032.5)" stroke-width="3.3"/>
<path d="M922 1034.5C921.9 1034.3 921.7 1033.5 921.7 1033C921.7 1032.5 921.7 1032 921.9 1031.6C922 1031.1 922.2 1030.6 922.4 1030.2C922.7 1029.8 923 1029.4 923.4 1029.1C923.7 1028.7 924.2 1028.4 924.7 1028.2C925.1 1027.9 925.7 1027.7 926.2 1027.5C926.7 1027.4 927.3 1027.3 927.9 1027.3C928.5 1027.2 929.2 1027.2 929.8 1027.3C930.4 1027.4 931 1027.5 931.6 1027.7C932.2 1027.9 932.8 1028.1 933.4 1028.4C934 1028.7 934.5 1029 935 1029.4C935.5 1029.7 935.9 1030.2 936.3 1030.6C936.7 1031 937.1 1031.5 937.4 1032C937.6 1032.5 937.9 1033.2 938 1033.5" stroke-width="3.3"/>
<path d="M923.2 1034.5C923.3 1034.4 923.3 1033.9 923.5 1033.6C923.6 1033.3 923.8 1033 924 1032.7C924.3 1032.5 924.6 1032.2 924.9 1032C925.2 1031.8 925.6 1031.7 925.9 1031.5C926.3 1031.4 926.7 1031.3 927.2 1031.3C927.6 1031.2 928.1 1031.2 928.5 1031.2C929 1031.3 929.5 1031.3 930 1031.4C930.4 1031.6 930.9 1031.7 931.3 1031.9C931.8 1032.1 932.2 1032.3 932.6 1032.5C933 1032.8 933.4 1033.1 933.8 1033.3C934.1 1033.6 934.4 1034 934.7 1034.3C935 1034.6 935.2 1035 935.4 1035.3C935.5 1035.7 935.7 1036.1 935.7 1036.4C935.8 1036.8 935.8 1037.3 935.8 1037.5" stroke-width="2.8"/>
<ellipse cx="963.5" cy="1020" rx="12.5" ry="10" transform="rotate(20 963.5 1020)" stroke-width="3.3"/>
<path d="M956 1022.1C955.9 1021.9 955.7 1021 955.7 1020.5C955.7 1020 955.8 1019.4 955.9 1018.9C956 1018.4 956.2 1017.9 956.5 1017.5C956.8 1017 957.1 1016.6 957.5 1016.2C957.9 1015.9 958.4 1015.5 958.9 1015.3C959.4 1015 959.9 1014.7 960.5 1014.6C961.1 1014.4 961.7 1014.3 962.3 1014.3C963 1014.2 963.6 1014.2 964.3 1014.3C964.9 1014.4 965.6 1014.5 966.3 1014.7C966.9 1014.9 967.5 1015.2 968.1 1015.5C968.7 1015.8 969.3 1016.1 969.8 1016.5C970.3 1016.9 970.8 1017.3 971.2 1017.8C971.7 1018.3 972 1018.8 972.3 1019.3C972.6 1019.8 972.9 1020.6 973 1020.9" stroke-width="3.3"/>
<path d="M957.2 1022C957.3 1021.8 957.4 1021.2 957.5 1020.9C957.7 1020.5 957.9 1020.2 958.1 1019.9C958.4 1019.6 958.7 1019.4 959 1019.2C959.4 1018.9 959.8 1018.7 960.2 1018.6C960.6 1018.5 961.1 1018.3 961.5 1018.3C962 1018.2 962.5 1018.2 963 1018.2C963.5 1018.3 964 1018.3 964.5 1018.5C965 1018.6 965.6 1018.7 966 1018.9C966.5 1019.1 967 1019.4 967.4 1019.6C967.9 1019.9 968.3 1020.2 968.6 1020.5C969 1020.8 969.4 1021.2 969.6 1021.6C969.9 1021.9 970.2 1022.3 970.3 1022.7C970.5 1023.1 970.7 1023.5 970.7 1023.9C970.8 1024.3 970.8 1024.8 970.8 1025" stroke-width="2.8"/>
<ellipse cx="1010.2" cy="1013.8" rx="12.5" ry="9.5" transform="rotate(20 1010.2 1013.8)" stroke-width="3.3"/>
<ellipse cx="1076.5" cy="1031.2" rx="12.5" ry="10" transform="rotate(20 1076.5 1031.2)" stroke-width="3.3"/>
<path d="M1069 1033.4C1068.9 1033.1 1068.7 1032.3 1068.7 1031.7C1068.7 1031.2 1068.8 1030.7 1068.9 1030.2C1069 1029.7 1069.2 1029.2 1069.5 1028.7C1069.8 1028.3 1070.1 1027.9 1070.5 1027.5C1070.9 1027.1 1071.4 1026.8 1071.9 1026.5C1072.4 1026.2 1072.9 1026 1073.5 1025.8C1074.1 1025.7 1074.7 1025.6 1075.3 1025.5C1076 1025.5 1076.6 1025.5 1077.3 1025.6C1077.9 1025.6 1078.6 1025.8 1079.3 1026C1079.9 1026.2 1080.5 1026.4 1081.1 1026.7C1081.7 1027 1082.3 1027.4 1082.8 1027.8C1083.3 1028.1 1083.8 1028.6 1084.2 1029C1084.7 1029.5 1085 1030 1085.3 1030.5C1085.6 1031 1085.9 1031.9 1086 1032.1" stroke-width="3.3"/>
<path d="M1070.2 1033.2C1070.3 1033 1070.4 1032.5 1070.5 1032.1C1070.7 1031.8 1070.9 1031.5 1071.1 1031.2C1071.4 1030.9 1071.7 1030.6 1072 1030.4C1072.4 1030.2 1072.8 1030 1073.2 1029.8C1073.6 1029.7 1074.1 1029.6 1074.5 1029.5C1075 1029.5 1075.5 1029.5 1076 1029.5C1076.5 1029.5 1077 1029.6 1077.5 1029.7C1078 1029.8 1078.6 1030 1079 1030.2C1079.5 1030.4 1080 1030.6 1080.4 1030.9C1080.9 1031.1 1081.3 1031.4 1081.6 1031.8C1082 1032.1 1082.4 1032.4 1082.6 1032.8C1082.9 1033.2 1083.2 1033.6 1083.3 1034C1083.5 1034.3 1083.7 1034.7 1083.7 1035.1C1083.8 1035.5 1083.8 1036.1 1083.8 1036.3" stroke-width="2.8"/>
<ellipse cx="1143.5" cy="1058" rx="13" ry="9.5" transform="rotate(20 1143.5 1058)" stroke-width="3.3"/>
<ellipse cx="1232.8" cy="1166.2" rx="13.8" ry="10" transform="rotate(20 1232.8 1166.2)" stroke-width="3.3"/>
<path d="M421.2 1181C429.4 1191.9 451.9 1221.7 470 1246.5C488.1 1271.3 511.7 1304.4 530 1329.8C548.3 1355.1 562.7 1375.4 580 1398.5C597.3 1421.6 620 1450.6 633.8 1468.5C647.5 1486.4 650.6 1491.4 662.5 1506C674.4 1520.6 693.8 1543.3 705 1556C716.2 1568.7 725.8 1577.7 730 1582" stroke-width="3.7"/>
<path d="M405 1176C406 1178.5 411.2 1195.1 415 1201C418.8 1206.9 437.2 1228.2 442.5 1234.8C447.8 1241.2 464.9 1262.5 467.5 1266C470.1 1269.5 468.9 1268.7 468.8 1269.8C468.6 1270.8 467.6 1275.7 466.2 1276.5C464.9 1277.3 460.4 1279.5 455 1277.8C449.6 1276 421.2 1262.2 412.5 1258.5C403.8 1254.8 372 1242.8 367.5 1241" stroke-width="3.7"/>
<path d="M367.5 1184.8L412.5 1202.2" stroke-width="3.5"/>
<path d="M367.5 1272.2L387.5 1266" stroke-width="3.3"/>
<path d="M375 1261L380 1268.5" stroke-width="3.3"/>
<path d="M390 1267.2C393.2 1268.6 418.6 1278.6 422.5 1281C426.4 1283.4 427.9 1289.1 428.8 1291C429.6 1292.9 431 1298.2 430.5 1299.8C430 1301.2 424.6 1305.1 423.8 1306C422.9 1306.9 422.6 1308.7 422.5 1309" stroke-width="3.3"/>
<path d="M452.5 1297.2C455.4 1298.3 463.3 1300.8 470 1303.5C476.7 1306.2 487.5 1309.8 492.5 1313.5C497.5 1317.2 497.9 1322.2 500 1326C502.1 1329.8 502.5 1333.7 505 1336C507.5 1338.3 512.1 1339.4 515 1339.8C517.9 1340.1 521.2 1338.3 522.5 1338" stroke-width="3.5"/>
<path d="M522.5 1338C525.8 1342.8 548.2 1376.2 555 1386C561.8 1395.8 583.5 1427.8 590 1436C596.5 1444.2 616.4 1464.8 620 1468.5C623.6 1472.2 625.8 1472 626.2 1473.5C626.8 1475 624.6 1481.2 625 1483.5C625.4 1485.8 628.5 1494.2 630 1496C631.5 1497.8 637.9 1500.4 640 1501C642.1 1501.6 649.8 1501.5 651.2 1502.2C652.8 1503 651.6 1503.6 655 1508.5C658.4 1513.4 681.5 1546 685 1551C688.5 1556 689.4 1556.5 690 1558.5C690.6 1560.5 690.2 1568.9 691.2 1571C692.2 1573.1 698.1 1578.7 700 1579.8C701.9 1580.8 709 1581.8 710 1582" stroke-width="3.5"/>
<ellipse cx="418.8" cy="1353.5" rx="36.2" ry="53.8" transform="rotate(-13 418.8 1353.5)" stroke-width="3.3"/>
<ellipse cx="420.5" cy="1353.5" rx="26.2" ry="43" transform="rotate(-13 420.5 1353.5)" stroke-width="3.3"/>
<ellipse cx="424" cy="1352.5" rx="19.5" ry="37.5" transform="rotate(-13 424 1352.5)" stroke-width="3.3"/>
<path d="M450 1321C451.2 1324.8 455.8 1335.6 457.5 1343.5C459.2 1351.4 460.9 1361 460.5 1368.5C460.1 1376 455.9 1385.2 455 1388.5" stroke-width="3.3"/>
<path d="M437.5 1316C437.9 1314.3 437.5 1308.9 440 1306C442.5 1303.1 450.4 1299.8 452.5 1298.5" stroke-width="3.3"/>
<path d="M371.2 1367.2L390 1376" stroke-width="3.3"/>
<path d="M442.5 1399.8L457.5 1401" stroke-width="3.9"/>
<path d="M452.5 1181C457.1 1182.3 469.6 1189 480 1189C490.4 1189 509.2 1182.3 515 1181" stroke-width="3.5"/>
<path d="M560.1 1190.7C561.6 1187.8 564.5 1178.8 568.8 1173.3C573.2 1167.7 579.9 1161.9 586.3 1157.6C592.7 1153.2 597.9 1150.2 607.2 1147.1C616.5 1144 630.5 1140.8 642.1 1139.2C653.7 1137.7 665.4 1136.9 677 1137.5C688.6 1138.1 700.3 1140.3 711.9 1142.7C723.5 1145.2 735.1 1148.1 746.8 1152.3C758.4 1156.5 770 1161.6 781.7 1168C793.3 1174.4 804.9 1181.7 816.6 1190.7C828.2 1199.7 842.1 1211.6 851.4 1222.1C860.7 1232.6 866.9 1243 872.4 1253.5C877.9 1264 882 1275.6 884.6 1284.9C887.2 1294.2 887.8 1301.5 888.1 1309.3C888.4 1317.2 887.2 1326.2 886.3 1332C885.5 1337.8 883.4 1342.2 882.8 1344.2" stroke-width="3.6"/>
<path d="M554.9 1211.6C556.6 1208.2 560.1 1197.1 565.4 1190.7C570.6 1184.3 578.7 1177.9 586.3 1173.3C593.8 1168.6 601.4 1165.3 610.7 1162.8C620 1160.3 631.1 1159 642.1 1158.4C653.2 1157.9 665.4 1157.9 677 1159.3C688.6 1160.8 700.3 1163.7 711.9 1167.2C723.5 1170.6 735.1 1174.9 746.8 1180.2C758.4 1185.6 770 1192.2 781.7 1199.4C793.3 1206.7 805.5 1214.8 816.6 1223.9C827.6 1232.9 839.2 1243.6 848 1253.5C856.7 1263.4 863.7 1273.3 868.9 1283.2C874.1 1293.1 877.6 1303.2 879.4 1312.8C881.1 1322.4 879.4 1336.1 879.4 1340.7" stroke-width="3.6"/>
<path d="M553.1 1220.4C555.8 1216.9 562.2 1205.8 568.8 1199.4C575.5 1193 584 1186.6 593.3 1182C602.6 1177.3 613.6 1173.6 624.7 1171.5C635.7 1169.5 647.9 1169.2 659.6 1169.8C671.2 1170.4 682.8 1172.1 694.4 1175C706.1 1177.9 717.7 1182.3 729.3 1187.2C741 1192.2 752.6 1198 764.2 1204.7C775.9 1211.4 787.5 1218.6 799.1 1227.3C810.7 1236.1 824.4 1247.1 834 1257C843.6 1266.9 850.6 1276.5 856.7 1286.7C862.8 1296.8 868 1308.5 870.6 1318.1C873.2 1327.6 872.1 1339.9 872.4 1344.2" stroke-width="3.6"/>
<path d="M552.3 1225.6C555.6 1222.7 564.6 1213.4 572.3 1208.2C580 1202.9 588.3 1197.8 598.5 1194.2C608.7 1190.6 621.8 1187.5 633.4 1186.3C645 1185.2 656.6 1185.6 668.3 1187.2C679.9 1188.8 691.5 1191.9 703.2 1195.9C714.8 1200 726.4 1205.5 738.1 1211.6C749.7 1217.7 761.3 1225 772.9 1232.6C784.6 1240.1 797.7 1248.3 807.8 1257C818 1265.7 826.7 1275.6 834 1284.9C841.3 1294.2 846.8 1303.5 851.4 1312.8C856.1 1322.1 860 1334 861.9 1340.7C863.8 1347.4 862.6 1350.9 862.8 1352.9" stroke-width="3.6"/>
<path d="M552.3 1230C557.1 1228.1 570.4 1221.7 581.1 1218.6C591.7 1215.6 604.3 1213 615.9 1211.6C627.6 1210.3 639.2 1209.6 650.8 1210.8C662.5 1211.9 674.1 1215.3 685.7 1218.6C697.4 1222 709 1225.9 720.6 1230.8C732.2 1235.8 743.9 1241.6 755.5 1248.3C767.1 1255 780.2 1263.4 790.4 1271C800.6 1278.5 808.7 1285.5 816.6 1293.6C824.4 1301.8 831.7 1311.4 837.5 1319.8C843.3 1328.2 848.1 1336.7 851.4 1344.2C854.8 1351.8 856.5 1361.7 857.5 1365.2" stroke-width="3.9"/>
<path d="M857.5 1365.2C859.7 1363.7 866.7 1359.6 870.6 1356.4C874.6 1353.2 878.5 1349.7 881.1 1346C883.7 1342.2 885.5 1335.8 886.3 1333.8" stroke-width="5"/>
<path d="M552.5 1231C553.8 1235.2 556.2 1246.8 560 1256C563.8 1265.2 568.3 1276 575 1286C581.7 1296 590.8 1306.8 600 1316C609.2 1325.2 618.8 1333.1 630 1341C641.2 1348.9 655 1356.8 667.5 1363.5C680 1370.2 692.5 1376.4 705 1381C717.5 1385.6 730 1388.9 742.5 1391C755 1393.1 767.5 1393.9 780 1393.5C792.5 1393.1 807.1 1391 817.5 1388.5C827.9 1386 835 1382.2 842.5 1378.5C850 1374.8 856.2 1370.6 862.5 1366C868.8 1361.4 875.4 1356.8 880 1351C884.6 1345.2 888.3 1334.3 890 1331" stroke-width="4"/>
<path d="M652.5 1216C650.8 1220.2 646.2 1232.7 642.5 1241C638.8 1249.3 634.2 1259.8 630 1266C625.8 1272.2 622.1 1274.8 617.5 1278.5C612.9 1282.2 605.6 1285.6 602.5 1288.5C599.4 1291.4 599.4 1294.8 598.8 1296" stroke-width="3.5"/>
<path d="M750 1246C748.3 1250.2 743.8 1262.7 740 1271C736.2 1279.3 730.8 1288.5 727.5 1296C724.2 1303.5 720.8 1310.8 720 1316C719.2 1321.2 722.1 1325.4 722.5 1327.2" stroke-width="3.5"/>
<path d="M797.5 1278.5C795.4 1281.8 788.8 1291.4 785 1298.5C781.2 1305.6 778.3 1314.8 775 1321C771.7 1327.2 768.8 1332.5 765 1336C761.2 1339.5 754.6 1341.2 752.5 1342.2" stroke-width="3.5"/>
<path d="M845 1346C843.3 1349.3 837.9 1359.3 835 1366C832.1 1372.7 828.8 1382.7 827.5 1386" stroke-width="3.5"/>
<ellipse cx="533.8" cy="1206" rx="13" ry="10" transform="rotate(20 533.8 1206)" stroke-width="3.3"/>
<path d="M525.8 1208C525.8 1207.7 525.5 1206.9 525.5 1206.3C525.5 1205.8 525.5 1205.3 525.7 1204.8C525.8 1204.2 526 1203.8 526.3 1203.3C526.6 1202.9 526.9 1202.4 527.3 1202.1C527.7 1201.7 528.2 1201.4 528.7 1201.1C529.2 1200.8 529.8 1200.6 530.4 1200.5C531 1200.3 531.7 1200.2 532.4 1200.2C533 1200.1 533.7 1200.2 534.4 1200.3C535.1 1200.3 535.8 1200.5 536.5 1200.7C537.1 1200.9 537.8 1201.2 538.4 1201.5C539.1 1201.8 539.7 1202.2 540.2 1202.6C540.8 1203 541.3 1203.4 541.8 1203.9C542.2 1204.4 542.6 1204.9 542.9 1205.4C543.2 1205.9 543.6 1206.8 543.7 1207" stroke-width="3.3"/>
<path d="M527 1207.8C527.1 1207.6 527.1 1207 527.3 1206.7C527.4 1206.4 527.7 1206 527.9 1205.8C528.2 1205.5 528.5 1205.2 528.9 1205C529.2 1204.8 529.7 1204.6 530.1 1204.5C530.5 1204.3 531 1204.2 531.5 1204.2C532 1204.1 532.6 1204.1 533.1 1204.2C533.6 1204.2 534.2 1204.3 534.7 1204.4C535.2 1204.6 535.8 1204.7 536.3 1204.9C536.8 1205.1 537.3 1205.4 537.8 1205.7C538.3 1205.9 538.7 1206.3 539.1 1206.6C539.5 1206.9 539.9 1207.3 540.2 1207.7C540.5 1208 540.8 1208.4 541 1208.8C541.2 1209.2 541.3 1209.6 541.4 1210C541.5 1210.4 541.5 1211 541.5 1211.2" stroke-width="2.8"/>
<ellipse cx="533.8" cy="1260.2" rx="13" ry="9.5" transform="rotate(20 533.8 1260.2)" stroke-width="3.3"/>
<ellipse cx="637.5" cy="1371" rx="13.8" ry="10" transform="rotate(20 637.5 1371)" stroke-width="3.3"/>
<ellipse cx="721.2" cy="1427.2" rx="15.5" ry="12.5" transform="rotate(25 721.2 1427.2)" stroke-width="3.3"/>
<path d="M710.8 1428.7C710.8 1428.3 710.6 1427.2 710.7 1426.4C710.7 1425.7 710.9 1425 711.1 1424.3C711.3 1423.7 711.7 1423 712.1 1422.5C712.5 1421.9 713 1421.3 713.6 1420.9C714.2 1420.4 714.8 1420 715.5 1419.7C716.2 1419.4 717 1419.1 717.8 1419C718.6 1418.8 719.4 1418.8 720.3 1418.8C721.1 1418.8 722 1418.9 722.9 1419C723.7 1419.2 724.6 1419.5 725.4 1419.8C726.3 1420.1 727.1 1420.5 727.8 1421C728.6 1421.5 729.3 1422 730 1422.6C730.6 1423.2 731.2 1423.8 731.7 1424.5C732.2 1425.2 732.6 1425.9 733 1426.6C733.3 1427.3 733.6 1428.5 733.7 1428.8" stroke-width="3.3"/>
<path d="M712.3 1427.8C712.4 1427.5 712.6 1426.7 712.9 1426.2C713.1 1425.7 713.5 1425.2 713.9 1424.8C714.3 1424.4 714.8 1424.1 715.3 1423.8C715.8 1423.5 716.4 1423.3 717.1 1423.1C717.7 1422.9 718.3 1422.8 719 1422.8C719.7 1422.7 720.4 1422.8 721.2 1422.8C721.9 1422.9 722.6 1423.1 723.3 1423.3C724 1423.5 724.7 1423.8 725.4 1424.2C726 1424.5 726.7 1424.9 727.3 1425.4C727.8 1425.8 728.4 1426.3 728.9 1426.8C729.3 1427.3 729.8 1427.9 730.1 1428.4C730.5 1429 730.8 1429.6 731 1430.2C731.2 1430.8 731.3 1431.4 731.3 1432C731.4 1432.6 731.2 1433.4 731.2 1433.7" stroke-width="2.8"/>
<ellipse cx="768.8" cy="1416.8" rx="12.5" ry="9.5" transform="rotate(20 768.8 1416.8)" stroke-width="3.3"/>
<ellipse cx="816.2" cy="1411" rx="14.5" ry="11.2" transform="rotate(25 816.2 1411)" stroke-width="3.3"/>
<path d="M806.9 1412.2C806.8 1411.9 806.7 1410.9 806.7 1410.3C806.7 1409.6 806.8 1409 807 1408.4C807.3 1407.8 807.5 1407.3 807.9 1406.8C808.3 1406.3 808.7 1405.8 809.2 1405.4C809.8 1405.1 810.3 1404.7 811 1404.4C811.6 1404.2 812.3 1404 813 1403.9C813.7 1403.7 814.5 1403.7 815.3 1403.7C816.1 1403.7 816.9 1403.8 817.6 1404C818.4 1404.2 819.2 1404.4 820 1404.7C820.7 1405 821.5 1405.4 822.2 1405.8C822.9 1406.2 823.5 1406.7 824.1 1407.2C824.7 1407.8 825.3 1408.3 825.7 1408.9C826.2 1409.5 826.6 1410.2 826.9 1410.8C827.2 1411.5 827.5 1412.5 827.6 1412.8" stroke-width="3.3"/>
<path d="M808.3 1411.7C808.3 1411.5 808.5 1410.8 808.7 1410.4C809 1410 809.3 1409.6 809.6 1409.3C810 1409 810.4 1408.7 810.8 1408.5C811.3 1408.2 811.8 1408 812.4 1407.9C812.9 1407.8 813.5 1407.7 814.1 1407.7C814.7 1407.7 815.4 1407.7 816 1407.8C816.6 1407.9 817.3 1408.1 817.9 1408.3C818.6 1408.5 819.2 1408.7 819.8 1409C820.4 1409.3 821 1409.7 821.5 1410.1C822 1410.5 822.5 1410.9 823 1411.3C823.4 1411.8 823.8 1412.3 824.1 1412.8C824.5 1413.3 824.7 1413.8 824.9 1414.3C825.1 1414.8 825.2 1415.3 825.3 1415.8C825.3 1416.3 825.2 1417 825.2 1417.3" stroke-width="2.8"/>
<ellipse cx="852.5" cy="1399.8" rx="13.8" ry="10.5" transform="rotate(25 852.5 1399.8)" stroke-width="3.3"/>
<path d="M843.9 1400.9C843.8 1400.6 843.7 1399.7 843.7 1399.1C843.7 1398.5 843.8 1398 844 1397.4C844.2 1396.9 844.5 1396.4 844.8 1396C845.1 1395.5 845.5 1395.1 846 1394.7C846.5 1394.4 847 1394.1 847.6 1393.8C848.2 1393.6 848.8 1393.4 849.5 1393.3C850.2 1393.2 850.9 1393.2 851.6 1393.2C852.3 1393.2 853.1 1393.3 853.8 1393.5C854.5 1393.6 855.3 1393.9 856 1394.1C856.7 1394.4 857.4 1394.8 858 1395.2C858.7 1395.6 859.3 1396 859.8 1396.5C860.4 1397 860.9 1397.5 861.4 1398.1C861.8 1398.6 862.2 1399.2 862.5 1399.8C862.8 1400.4 863 1401.3 863.1 1401.6" stroke-width="3.3"/>
<path d="M845.2 1400.7C845.3 1400.5 845.4 1399.9 845.6 1399.5C845.8 1399.2 846.1 1398.8 846.4 1398.5C846.7 1398.3 847.1 1398 847.5 1397.8C848 1397.6 848.4 1397.4 848.9 1397.3C849.4 1397.2 850 1397.2 850.5 1397.2C851.1 1397.2 851.7 1397.2 852.2 1397.3C852.8 1397.4 853.4 1397.5 854 1397.7C854.6 1397.9 855.1 1398.2 855.7 1398.4C856.2 1398.7 856.8 1399 857.3 1399.4C857.7 1399.7 858.2 1400.1 858.6 1400.5C859 1400.9 859.4 1401.4 859.7 1401.8C860 1402.3 860.2 1402.7 860.4 1403.2C860.6 1403.6 860.7 1404.1 860.8 1404.5C860.8 1405 860.8 1405.6 860.8 1405.8" stroke-width="2.8"/>
<ellipse cx="887.5" cy="1378.5" rx="11.2" ry="9.5" transform="rotate(20 887.5 1378.5)" stroke-width="3.3"/>
<ellipse cx="837.5" cy="1496.5" rx="45.5" ry="30.5" transform="rotate(25 837.5 1496.5)" stroke-width="3.7"/>
<ellipse cx="976.5" cy="1250.5" rx="13" ry="10" transform="rotate(20 976.5 1250.5)" stroke-width="3.3"/>
<ellipse cx="915.2" cy="1274.8" rx="13" ry="9.5" transform="rotate(20 915.2 1274.8)" stroke-width="3.3"/>
<path d="M966.5 1226L995.2 1242.2" stroke-width="3.3"/>
<ellipse cx="1215.2" cy="1257.8" rx="12.5" ry="9.5" transform="rotate(20 1215.2 1257.8)" stroke-width="3.3"/>
<ellipse cx="1179" cy="1278" rx="13.8" ry="10" transform="rotate(20 1179 1278)" stroke-width="3.3"/>
<path d="M1170.5 1279.8C1170.4 1279.5 1170.1 1278.6 1170.1 1278.1C1170 1277.5 1170.1 1277 1170.2 1276.5C1170.3 1276 1170.6 1275.5 1170.8 1275.1C1171.1 1274.6 1171.5 1274.2 1171.9 1273.8C1172.3 1273.5 1172.8 1273.2 1173.4 1272.9C1173.9 1272.6 1174.6 1272.4 1175.2 1272.3C1175.8 1272.2 1176.5 1272.1 1177.3 1272.1C1178 1272 1178.7 1272.1 1179.4 1272.2C1180.2 1272.3 1180.9 1272.5 1181.7 1272.7C1182.4 1272.9 1183.1 1273.2 1183.8 1273.5C1184.5 1273.8 1185.1 1274.2 1185.7 1274.7C1186.3 1275.1 1186.9 1275.6 1187.4 1276C1187.9 1276.5 1188.3 1277.1 1188.7 1277.6C1189 1278.1 1189.4 1279 1189.5 1279.2" stroke-width="3.3"/>
<path d="M1171.6 1279.5C1171.6 1279.4 1171.7 1278.8 1171.8 1278.4C1172 1278.1 1172.2 1277.8 1172.5 1277.5C1172.8 1277.2 1173.1 1277 1173.5 1276.8C1173.9 1276.6 1174.3 1276.4 1174.8 1276.3C1175.3 1276.2 1175.8 1276.1 1176.4 1276C1176.9 1276 1177.5 1276 1178.1 1276.1C1178.6 1276.1 1179.2 1276.2 1179.8 1276.4C1180.4 1276.5 1181 1276.7 1181.6 1276.9C1182.2 1277.2 1182.7 1277.4 1183.2 1277.7C1183.8 1278 1184.3 1278.4 1184.7 1278.7C1185.2 1279.1 1185.6 1279.5 1185.9 1279.8C1186.3 1280.2 1186.6 1280.6 1186.8 1281C1187 1281.5 1187.2 1281.9 1187.3 1282.3C1187.4 1282.7 1187.4 1283.3 1187.4 1283.5" stroke-width="2.8"/>
<ellipse cx="1142.8" cy="1291" rx="13" ry="10" transform="rotate(20 1142.8 1291)" stroke-width="3.3"/>
<path d="M1134.8 1293C1134.8 1292.7 1134.5 1291.9 1134.5 1291.3C1134.5 1290.8 1134.5 1290.3 1134.7 1289.8C1134.8 1289.2 1135 1288.8 1135.3 1288.3C1135.6 1287.9 1135.9 1287.4 1136.3 1287.1C1136.7 1286.7 1137.2 1286.4 1137.7 1286.1C1138.2 1285.8 1138.8 1285.6 1139.4 1285.5C1140 1285.3 1140.7 1285.2 1141.4 1285.2C1142 1285.1 1142.7 1285.2 1143.4 1285.3C1144.1 1285.3 1144.8 1285.5 1145.5 1285.7C1146.1 1285.9 1146.8 1286.2 1147.4 1286.5C1148.1 1286.8 1148.7 1287.2 1149.2 1287.6C1149.8 1288 1150.3 1288.4 1150.8 1288.9C1151.2 1289.4 1151.6 1289.9 1151.9 1290.4C1152.2 1290.9 1152.6 1291.8 1152.7 1292" stroke-width="3.3"/>
<path d="M1136 1292.8C1136.1 1292.6 1136.1 1292 1136.3 1291.7C1136.4 1291.4 1136.7 1291 1136.9 1290.8C1137.2 1290.5 1137.5 1290.2 1137.9 1290C1138.2 1289.8 1138.7 1289.6 1139.1 1289.5C1139.5 1289.3 1140 1289.2 1140.5 1289.2C1141 1289.1 1141.6 1289.1 1142.1 1289.2C1142.6 1289.2 1143.2 1289.3 1143.7 1289.4C1144.2 1289.6 1144.8 1289.7 1145.3 1289.9C1145.8 1290.1 1146.3 1290.4 1146.8 1290.7C1147.3 1290.9 1147.7 1291.3 1148.1 1291.6C1148.5 1291.9 1148.9 1292.3 1149.2 1292.7C1149.5 1293 1149.8 1293.4 1150 1293.8C1150.2 1294.2 1150.3 1294.6 1150.4 1295C1150.5 1295.4 1150.5 1296 1150.5 1296.2" stroke-width="2.8"/>
<path d="M1101.5 1276C1106.1 1275.8 1120.2 1276.4 1129 1274.8C1137.8 1273.1 1145.7 1270 1154 1266C1162.3 1262 1171.5 1256.8 1179 1251C1186.5 1245.2 1193.6 1237.7 1199 1231C1204.4 1224.3 1208.9 1219.3 1211.5 1211C1214.1 1202.7 1214 1186 1214.5 1181" stroke-width="3.5"/>
<path d="M1169 1231L1146.5 1268.5" stroke-width="3.3"/>
<path d="M1139 1181L1154 1201" stroke-width="3.3"/>
<path d="M1161.5 1208.5C1163.4 1211.8 1169.4 1221.6 1172.8 1228.5C1176.1 1235.4 1180 1246.2 1181.5 1249.8" stroke-width="3.3"/>
<path d="M1179 1206C1180.2 1209.3 1185 1219.8 1186.5 1226C1188 1232.2 1187.5 1240.6 1187.8 1243.5" stroke-width="3.3"/>
<path d="M1191.5 1203.5C1192.1 1206.8 1195.2 1217.2 1195.2 1223.5C1195.2 1229.8 1192.1 1238.1 1191.5 1241" stroke-width="3.3"/>
<path d="M1204 1206C1203.8 1208.5 1204 1216.4 1202.8 1221C1201.5 1225.6 1197.5 1231.4 1196.5 1233.5" stroke-width="3.3"/>
<path d="M1121.5 1381C1121.4 1377.9 1118.9 1367.9 1121 1362.2C1123.1 1356.6 1128.5 1350.4 1134 1347.2C1139.5 1344.1 1146.9 1342.9 1154 1343.5C1161.1 1344.1 1169.8 1347.2 1176.5 1351C1183.2 1354.8 1189.8 1361 1194 1366C1198.2 1371 1200.7 1378.5 1202 1381" stroke-width="3.5"/>
<path d="M1134 1394.8C1137.3 1396.6 1146.9 1403.5 1154 1406C1161.1 1408.5 1169.8 1410.2 1176.5 1409.8C1183.2 1409.3 1189.6 1406.2 1194 1403.5C1198.4 1400.8 1201.3 1395.2 1202.8 1393.5" stroke-width="3.5"/>
<path d="M1046.5 1363.5C1049.8 1364.4 1059.4 1366.1 1066.5 1369C1073.6 1371.9 1085.2 1379 1089 1381" stroke-width="3.5"/>
<path d="M1049 1394.8C1053.2 1396.6 1066.5 1400.8 1074 1406C1081.5 1411.2 1088.6 1419.3 1094 1426C1099.4 1432.7 1103.9 1441.4 1106.5 1446C1109.1 1450.6 1109 1452.2 1109.5 1453.5" stroke-width="3.5"/>
<path d="M1104 1394.8C1106.1 1397.5 1113.6 1405 1116.5 1411C1119.4 1417 1121.5 1424.8 1121.5 1431C1121.5 1437.2 1119.4 1443.9 1116.5 1448.5C1113.6 1453.1 1110.2 1455.8 1104 1458.5C1097.8 1461.2 1087.3 1464.8 1079 1464.8C1070.7 1464.8 1062.3 1461.6 1054 1458.5C1045.7 1455.4 1036.5 1450.6 1029 1446C1021.5 1441.4 1014.4 1436.4 1009 1431C1003.6 1425.6 998.6 1416.4 996.5 1413.5" stroke-width="3.5"/>
<path d="M969 1416C965.7 1416.2 955.2 1415.6 949 1417.2C942.8 1418.9 935.7 1422 931.5 1426C927.3 1430 924.4 1436 924 1441C923.6 1446 925.7 1451 929 1456C932.3 1461 938.2 1467 944 1471C949.8 1475 957.3 1478.3 964 1479.8C970.7 1481.2 977.8 1481.2 984 1479.8C990.2 1478.3 997.8 1475 1001.5 1471C1005.2 1467 1006.9 1461.4 1006.5 1456C1006.1 1450.6 1002.5 1443.3 999 1438.5C995.5 1433.7 987.5 1429.1 985.2 1427.2" stroke-width="3.7"/>
<ellipse cx="1136" cy="1437.2" rx="7" ry="5" transform="rotate(25 1136 1437.2)" stroke-width="3.3"/>
<ellipse cx="1047.8" cy="1471" rx="7" ry="5" transform="rotate(25 1047.8 1471)" stroke-width="3.3"/>
<path d="M1301.5 1456L1394 1417.2" stroke-width="3.5"/>
<clipPath id="blk"><rect x="0" y="0" width="2846" height="1902"/></clipPath><g clip-path="url(#blk)">
<path d="M730 1582L769.5 1635" stroke-width="3.6"/>
<path d="M710 1582C712 1584.4 721.7 1595.9 725 1600C728.3 1604.1 732.5 1609.5 735 1612.5C737.5 1615.5 742.5 1619.5 743.8 1622.5C745 1625.5 743.8 1632 744.2 1635C744.8 1638 746.6 1642.8 747.5 1645C748.4 1647.2 751.6 1648.9 751.2 1651.2C750.9 1653.6 746.8 1659.3 745 1662.5C743.2 1665.7 738.8 1672.3 737.5 1675C736.2 1677.7 736.7 1680.5 735 1682.5C733.3 1684.5 727.7 1688.7 725 1690C722.3 1691.3 716.7 1690.8 715 1692.5C713.3 1694.2 712.7 1699.8 712.5 1702.5C712.3 1705.2 713.2 1710.2 713.8 1712.5C714.3 1714.8 716.9 1717.5 716.8 1720C716.6 1722.5 713.7 1728.6 712.5 1731.2C711.3 1733.9 708.8 1738.1 707.5 1740C706.2 1741.9 703.8 1745.6 702.5 1745.8C701.2 1745.9 698.7 1742.8 697.5 1741.2C696.3 1739.7 694.2 1734.8 693.8 1733.8" stroke-width="3.6"/>
<path d="M769.6 1634.8L1394.6 1397.4" stroke-width="4.1"/>
<path d="M769.5 1635L643.8 1904.5" stroke-width="3.6"/>
<path d="M620 1842C621.5 1841.5 633 1836.5 635 1837C637 1837.5 639 1844.8 640 1847C641 1849.2 646.2 1853.8 645 1859.5C643.8 1865.2 629.2 1900 627.5 1904.5" stroke-width="3.6"/>
<path d="M622.5 1854.5L635 1850" stroke-width="3.6"/>
<path d="M785 1662.5C781 1670.4 696 1843 692.5 1850.8C689 1858.5 691.8 1856.7 696.2 1855C700.8 1853.3 800.2 1811.7 805 1809.5C809.8 1807.3 812 1807.3 816.2 1799.5C820.5 1791.7 907.7 1622.1 911.2 1614.5C914.8 1606.9 908.6 1608 905 1609C901.4 1610 824.5 1637.7 820 1639.5C815.5 1641.3 793.9 1652.3 792.5 1653.2C791.1 1654.2 789 1654.6 785 1662.5Z" stroke-width="3.6"/>
<path d="M790 1665.8C791.2 1665.1 815.9 1651.8 820 1650C824.1 1648.2 890.7 1619.3 892.5 1620C894.3 1620.7 866.9 1663.6 865 1667C863.1 1670.4 846.6 1701.4 845 1704.5C843.4 1707.6 826.4 1741.5 825 1744.5C823.6 1747.5 811 1777.4 810 1779.5C809 1781.6 802.2 1795.6 800 1797C797.8 1798.4 758.9 1813.4 755 1815C751.1 1816.6 704.6 1836.6 702.5 1837.5" stroke-width="3.6"/>
<path d="M737.5 1760C739.6 1761.2 745.4 1765.8 750 1767.5C754.6 1769.2 760 1770.4 765 1770C770 1769.6 775.6 1767.9 780 1765C784.4 1762.1 788.5 1756.9 791.2 1752.5C794 1748.1 794.8 1744.2 796.2 1738.8C797.7 1733.3 799.6 1726.5 800 1720C800.4 1713.5 799.6 1706.5 798.8 1700C797.9 1693.5 796.2 1686.7 795 1681.2C793.8 1675.8 791.9 1669.8 791.2 1667.5" stroke-width="3.6"/>
<path d="M736.2 1775C738.5 1776.7 744.8 1782.7 750 1785C755.2 1787.3 761.7 1789 767.5 1788.8C773.3 1788.5 780 1786 785 1783.8C790 1781.5 792.9 1776.9 797.5 1775C802.1 1773.1 810 1772.9 812.5 1772.5" stroke-width="3.6"/>
<path d="M765 1708.8C767.5 1711.9 774.8 1722.5 780 1727.5C785.2 1732.5 793.5 1736.9 796.2 1738.8" stroke-width="3.6"/>
<path d="M805 1665C805.8 1668.8 808.3 1679.6 810 1687.5C811.7 1695.4 813.8 1705.2 815 1712.5C816.2 1719.8 815.8 1725.8 817.5 1731.2C819.2 1736.7 823.8 1742.7 825 1745" stroke-width="3.6"/>
<path d="M821.2 1655C821.7 1657.9 821.9 1666.9 823.8 1672.5C825.6 1678.1 828.8 1683.8 832.5 1688.8C836.2 1693.8 844 1700.2 846.2 1702.5" stroke-width="3.6"/>
<path d="M833.8 1642.5C836.5 1644.2 844.8 1649 850 1652.5C855.2 1656 862.5 1661.9 865 1663.8" stroke-width="3.6"/>
<path d="M732.5 1783.8C734.2 1786.5 739.6 1795.3 742.5 1800C745.4 1804.7 748.8 1810 750 1812" stroke-width="3.6"/>
<path d="M582.5 1627C580.3 1628.2 568.6 1633 566.2 1635.8C563.9 1638.5 567.2 1644.7 565 1647.5C562.8 1650.3 554 1653.4 550 1657C546 1660.6 537.9 1669.2 535 1674.5C532.1 1679.8 529.2 1690.7 528 1697C526.8 1703.3 526 1714.7 526.2 1722C526.5 1729.3 528.5 1744.3 530 1752C531.5 1759.7 536.3 1773.8 537.5 1779.5C538.7 1785.2 537.4 1790.8 538.8 1794.5C540.1 1798.2 544.7 1805 547.5 1807C550.3 1809 556.3 1807.5 560 1809.5C563.7 1811.5 570.3 1818.3 575 1822C579.7 1825.7 591 1833 595 1837C599 1841 602.7 1849.3 605 1852C607.3 1854.7 610.8 1857.5 612.5 1857C614.2 1856.5 616.5 1850.2 617.5 1848.2C618.5 1846.2 619.7 1842.8 620 1842" stroke-width="3.6"/>
<ellipse cx="590" cy="1745.8" rx="51.2" ry="88.8" transform="rotate(-22 590 1745.8)" stroke-width="3.6"/>
<path d="M580 1667C579.9 1673.7 577.8 1693.7 579.5 1707C581.2 1720.3 584.9 1734.5 590 1747C595.1 1759.5 601.2 1772 610 1782C618.8 1792 637.1 1802.8 642.5 1807" stroke-width="3.6"/>
<path d="M577.5 1634.5C579.6 1637.8 584.6 1649.1 590 1654.5C595.4 1659.9 603.8 1661.6 610 1667C616.2 1672.4 624.6 1683.7 627.5 1687" stroke-width="3.6"/>
<path d="M603.8 1652.5C606.2 1654.2 614.2 1658.3 618.8 1662.5C623.3 1666.7 627.5 1674.4 631.2 1677.5C635 1680.6 638.1 1680 641.2 1681.2C644.4 1682.5 647.7 1682.7 650 1685C652.3 1687.3 654 1691.7 655 1695C656 1698.3 656 1703.3 656.2 1705" stroke-width="3.6"/>
<path d="M628.8 1687.5C630.2 1687.9 635 1688.1 637.5 1690C640 1691.9 642.1 1695.4 643.8 1698.8C645.4 1702.1 646.7 1706.9 647.5 1710C648.3 1713.1 647.7 1715.6 648.8 1717.5C649.8 1719.4 652.1 1721.5 653.8 1721.2C655.4 1721 657.9 1717.1 658.8 1716.2" stroke-width="3.6"/>
<path d="M657.5 1707.5C659.6 1707.3 666.2 1707.3 670 1706.2C673.8 1705.2 677.3 1702.9 680 1701.2C682.7 1699.6 685.2 1697.1 686.2 1696.2" stroke-width="3.6"/>
<ellipse cx="673.8" cy="1736.2" rx="11.5" ry="19" transform="rotate(-20 673.8 1736.2)" stroke-width="3.6"/>
<path d="M676.2 1708.8C677.7 1710 682.3 1712.9 685 1716.2C687.7 1719.6 690.6 1725 692.5 1728.8C694.4 1732.5 695.6 1737.1 696.2 1738.8" stroke-width="3.6"/>
<path d="M688.8 1703.8C690 1704.8 694 1707.3 696.2 1710C698.5 1712.7 701 1716.9 702.5 1720C704 1723.1 704.6 1727.3 705 1728.8" stroke-width="3.6"/>
<path d="M964.8 1595.5C962.5 1600.2 882.9 1768.4 880.8 1773.2C878.6 1778.1 879.5 1778.7 883 1777.5C886.5 1776.3 1009 1728.3 1012.5 1727" stroke-width="3.6"/>
<path d="M888.8 1760L1012.5 1709" stroke-width="3.6"/>
<path d="M1012.5 1782C994.8 1789.7 902.7 1830.2 880 1839.5C857.3 1848.8 848.5 1848.7 842.5 1852C836.5 1855.3 837.3 1860.8 835 1864.5C832.7 1868.2 829 1876.2 825 1879.5C821 1882.8 812.7 1886.3 805 1889.5C797.3 1892.7 772.5 1901.4 767.5 1903.2" stroke-width="3.6"/>
<path d="M727.5 1902.5C729.6 1901.7 736 1897.4 740 1897.5C744 1897.6 749.4 1902.3 751.2 1903.2" stroke-width="3.6"/>
<path d="M994 1715.8C1001 1712.6 1051 1690.4 1064 1684.5C1077 1678.6 1117 1660.9 1124 1657C1131 1653.1 1132 1649.5 1134 1645.8C1136 1642 1141 1625.9 1144 1619.5C1147 1613.1 1160.5 1588.5 1164 1582C1167.5 1575.5 1177.5 1557.2 1179 1554.5" stroke-width="3.6"/>
<path d="M994 1732C1001.2 1728.8 1053.5 1704.9 1066.5 1699.5C1079.5 1694.1 1116.5 1681.6 1124 1678.2C1131.5 1674.9 1138.5 1669.4 1141.5 1665.8C1144.5 1662.1 1149.5 1650.4 1154 1642C1158.5 1633.6 1182.2 1590 1186.5 1582C1190.8 1574 1195.5 1564 1196.5 1562" stroke-width="3.6"/>
<path d="M1064 1684.5C1059.8 1675.8 1048.2 1649.1 1039 1632C1029.8 1614.9 1014 1590.3 1009 1582" stroke-width="3.6"/>
<path d="M1019 1572C1020.7 1576.2 1024 1588.7 1029 1597C1034 1605.3 1041.5 1613.7 1049 1622C1056.5 1630.3 1064.8 1641.2 1074 1647C1083.2 1652.8 1095.7 1656.6 1104 1657C1112.3 1657.4 1119.2 1651.8 1124 1649.5C1128.8 1647.2 1131.3 1644.3 1132.8 1643.2" stroke-width="3.6"/>
<path d="M1031.5 1577C1033.6 1580.8 1038.6 1592 1044 1599.5C1049.4 1607 1057.3 1616 1064 1622C1070.7 1628 1078.2 1632.8 1084 1635.8C1089.8 1638.7 1094 1639.7 1099 1639.5C1104 1639.3 1109.8 1637 1114 1634.5C1118.2 1632 1121.3 1628.7 1124 1624.5C1126.7 1620.3 1128.8 1616.6 1130.2 1609.5C1131.7 1602.4 1132.3 1586.6 1132.8 1582" stroke-width="3.6"/>
<path d="M1099 1582C1101.5 1584.9 1109 1594.9 1114 1599.5C1119 1604.1 1126.5 1607.8 1129 1609.5" stroke-width="3.6"/>
<path d="M1145.2 1582C1145 1585.3 1143.6 1595.8 1144 1602C1144.4 1608.2 1147.1 1616.6 1147.8 1619.5" stroke-width="3.6"/>
<path d="M1231.5 1582C1230.8 1583.6 1204.7 1639 1204 1640.8C1203.3 1642.5 1201.3 1648 1205.2 1646.5C1209.2 1645 1348.8 1586.2 1352.8 1584.5" stroke-width="3.6"/>
<path d="M1209 1628.2L1329 1579.5" stroke-width="3.6"/>
<path d="M1004 1787.5C1012.3 1783.6 1055.5 1761 1066.5 1758.2C1077.5 1755.5 1076.2 1769.2 1086.5 1767C1096.8 1764.8 1134.3 1747 1144 1742C1153.7 1737 1155.8 1732.8 1159 1729.5C1162.2 1726.2 1157.4 1722.7 1167.8 1717C1178.1 1711.3 1214 1696.4 1236.5 1687C1259 1677.6 1323.2 1651.9 1336.5 1646.5" stroke-width="3.6"/>
<path d="M1056.5 1904.5C1056.3 1902.5 1056.8 1892.8 1055.2 1889.5C1053.8 1886.2 1046.6 1882.5 1045.2 1879.5C1043.9 1876.5 1044.1 1870.3 1045.2 1867C1046.4 1863.7 1050.2 1857.5 1054 1854.5C1057.8 1851.5 1068.7 1847.2 1074 1844.5C1079.3 1841.8 1088.7 1838.2 1094 1834.5C1099.3 1830.8 1108.7 1821.3 1114 1817C1119.3 1812.7 1128.3 1806 1134 1802C1139.7 1798 1153.5 1789 1156.5 1787" stroke-width="3.6"/>
<path d="M1160.2 1785.8C1162.8 1784.9 1174.2 1780.3 1179 1779.5C1183.8 1778.7 1192.2 1779 1196.5 1779.5C1200.8 1780 1207.2 1783.6 1211.5 1783.2C1215.8 1782.9 1224.7 1778.8 1229 1777C1233.3 1775.2 1240.3 1770.9 1244 1769.5C1247.7 1768.1 1253.9 1766 1256.5 1766.5C1259.1 1767 1262.8 1770.8 1263.5 1773.2C1264.2 1775.7 1263.1 1781 1261.5 1784.5C1259.9 1788 1254 1794.8 1251.5 1799.5C1249 1804.2 1244.1 1813.5 1242.8 1819.5C1241.4 1825.5 1241.8 1836.8 1241.5 1844.5C1241.2 1852.2 1240.9 1869 1240.2 1877C1239.6 1885 1237 1900.8 1236.5 1904.5" stroke-width="3.6"/>
<path d="M1064 1904.5C1066.5 1899.5 1073.2 1884.1 1079 1874.5C1084.8 1864.9 1091.5 1855.8 1099 1847C1106.5 1838.2 1114.8 1829.7 1124 1822C1133.2 1814.3 1144.8 1806 1154 1800.8C1163.2 1795.5 1171.5 1792 1179 1790.8C1186.5 1789.5 1192.8 1791.4 1199 1793.2C1205.2 1795.1 1211.5 1797.2 1216.5 1802C1221.5 1806.8 1225.9 1814.5 1229 1822C1232.1 1829.5 1234.8 1837.8 1235.2 1847C1235.7 1856.2 1233 1867.4 1231.5 1877C1230 1886.6 1227.3 1899.9 1226.5 1904.5" stroke-width="3.6"/>
<path d="M1204 1794.5C1205.5 1798.7 1211.5 1809.9 1212.8 1819.5C1214 1829.1 1212.5 1841.6 1211.5 1852C1210.5 1862.4 1208.2 1873.2 1207 1882C1205.8 1890.8 1204.5 1900.8 1204 1904.5" stroke-width="3.6"/>
<path d="M1086.5 1864.5L1090.2 1904.5" stroke-width="3.6"/>
<path d="M1100.2 1844.5L1102 1904.5" stroke-width="3.6"/>
<path d="M1111.5 1834.5L1116.5 1904.5" stroke-width="3.6"/>
</g>
<path d="M964.8 1595.5C964.9 1595.2 970.6 1583.1 971.2 1582.5C971.9 1581.9 987.1 1572.7 990.8 1571.2C994.4 1569.8 1099.9 1531.5 1106.5 1529C1113.1 1526.5 1233 1479.6 1236.5 1478.5C1240 1477.4 1240.8 1485.2 1239.5 1488C1238.2 1490.8 1188.1 1579.1 1186.5 1582C1184.9 1584.9 1179.2 1595.6 1179 1596" stroke-width="3.6"/>
<path d="M1218.5 1491L1165.2 1582" stroke-width="3.6"/>
<path d="M1084 1541C1085.7 1544.8 1090.7 1556.7 1094 1563.5C1097.3 1570.3 1102.3 1578.9 1104 1582" stroke-width="3.6"/>
<path d="M1124 1543.5C1124.8 1546.8 1127.8 1557.1 1129 1563.5C1130.2 1569.9 1131.1 1578.9 1131.5 1582" stroke-width="3.6"/>
<path d="M1134 1541C1134.6 1544.3 1136.5 1554.2 1137.8 1561C1139 1567.8 1140.9 1578.5 1141.5 1582" stroke-width="3.6"/>
<path d="M1149 1526C1149.4 1528.9 1149.8 1537.7 1151.5 1543.5C1153.2 1549.3 1155.2 1554.6 1159 1561C1162.8 1567.4 1171.5 1578.5 1174 1582" stroke-width="3.6"/>
<path d="M1164 1511L1191.5 1536" stroke-width="3.6"/>
<path d="M1109 1534.8C1111.1 1535.8 1116.1 1542 1121.5 1541C1126.9 1540 1136.1 1533.1 1141.5 1528.5C1146.9 1523.9 1151.9 1516 1154 1513.5" stroke-width="3.6"/>
<path d="M1394 1417.2C1390.9 1418.5 1305.3 1453.5 1301.5 1456C1297.7 1458.5 1280.6 1490.6 1279 1493.5C1277.4 1496.4 1255.6 1540.5 1254 1543.5C1252.4 1546.5 1232.2 1580.7 1231.5 1582" stroke-width="3.6"/>
<path d="M1326.5 1443.5C1329 1449.8 1336.9 1469.8 1341.5 1481C1346.1 1492.2 1350.2 1502.7 1354 1511C1357.8 1519.3 1362.3 1527.7 1364 1531" stroke-width="3.6"/>
<path d="M1334 1443.5C1336.9 1449.8 1345.2 1470.6 1351.5 1481C1357.8 1491.4 1368.2 1501.8 1371.5 1506" stroke-width="3.6"/>
<path d="M1346.5 1441C1348.6 1445.6 1354 1460 1359 1468.5C1364 1477 1373.6 1488.3 1376.5 1492.2" stroke-width="3.6"/>
<path d="M1324 1582L1356.5 1569.8" stroke-width="3.6"/>
<path d="M931.5 1045.5C937.3 1043.5 954.4 1036.3 966.5 1033.8C978.6 1031.2 991.5 1029.8 1004 1030C1016.5 1030.2 1029 1032.5 1041.5 1035C1054 1037.5 1066.5 1040.4 1079 1045C1091.5 1049.6 1104 1055.4 1116.5 1062.5C1129 1069.6 1142.8 1077.9 1154 1087.5C1165.2 1097.1 1175.7 1109.6 1184 1120C1192.3 1130.4 1199.4 1140 1204 1150C1208.6 1160 1210.1 1171.7 1211.5 1180C1212.9 1188.3 1212.3 1196.7 1212.5 1200" stroke-width="3.6"/>
<path d="M904 1087.5C908.2 1083.3 918.6 1068.5 929 1062.5C939.4 1056.5 954 1053.5 966.5 1051.2C979 1049 991.5 1048.1 1004 1048.8C1016.5 1049.4 1029 1051.9 1041.5 1055C1054 1058.1 1066.5 1062.1 1079 1067.5C1091.5 1072.9 1104.8 1080 1116.5 1087.5C1128.2 1095 1139.4 1103.3 1149 1112.5C1158.6 1121.7 1166.9 1132.1 1174 1142.5C1181.1 1152.9 1187.2 1165.4 1191.5 1175C1195.8 1184.6 1198.6 1195.8 1200 1200" stroke-width="3.6"/>
<path d="M904 1102.5C908.2 1098.3 918.6 1083.3 929 1077.5C939.4 1071.7 954 1069.4 966.5 1067.5C979 1065.6 991.5 1065.2 1004 1066.2C1016.5 1067.3 1029 1070.2 1041.5 1073.8C1054 1077.3 1066.5 1081.5 1079 1087.5C1091.5 1093.5 1105.7 1102.1 1116.5 1110C1127.3 1117.9 1135.7 1126.2 1144 1135C1152.3 1143.8 1159.8 1153.3 1166.5 1162.5C1173.2 1171.7 1180.3 1183.8 1184 1190C1187.7 1196.2 1188 1198.3 1188.8 1200" stroke-width="3.6"/>
<path d="M904 1112.5C910.2 1108.3 929 1092.7 941.5 1087.5C954 1082.3 966.5 1082.1 979 1081.2C991.5 1080.4 1004 1080.6 1016.5 1082.5C1029 1084.4 1041.5 1087.9 1054 1092.5C1066.5 1097.1 1079.8 1102.9 1091.5 1110C1103.2 1117.1 1114.8 1126.7 1124 1135C1133.2 1143.3 1139.8 1152.1 1146.5 1160C1153.2 1167.9 1158.8 1175.8 1164 1182.5C1169.2 1189.2 1175.2 1197.1 1177.5 1200" stroke-width="3.6"/>
<path d="M904 1107.5C910.2 1106.1 926.9 1100.7 941.5 1099.2C956.1 1097.8 977.2 1097.2 991.5 1098.8C1005.8 1100.3 1015.7 1104.8 1027.5 1108.8C1039.3 1112.7 1051.2 1116.9 1062.5 1122.5C1073.8 1128.1 1085.4 1135.4 1095 1142.5C1104.6 1149.6 1112.5 1157.9 1120 1165C1127.5 1172.1 1134.6 1179.2 1140 1185C1145.4 1190.8 1150.4 1197.5 1152.5 1200" stroke-width="3.6"/>
<path d="M901 1108C901.3 1110.8 902.2 1119 903 1125C903.8 1131 904.3 1138.2 906 1144C907.7 1149.8 910.3 1154.8 913 1160C915.7 1165.2 918.7 1170.2 922 1175C925.3 1179.8 929.2 1184.7 933 1189C936.8 1193.3 940.3 1196.3 945 1201C949.7 1205.7 958.3 1214.3 961 1217" stroke-width="3.6"/>
<path d="M991.5 1098.8C990.2 1101.5 986.9 1109 984 1115C981.1 1121 977.3 1128.3 974 1135C970.7 1141.7 967.3 1150.6 964 1155C960.7 1159.4 957.8 1159.8 954 1161.2C950.2 1162.7 943.6 1163.3 941.5 1163.8" stroke-width="3.6"/>
<path d="M1150 858.8L1141.2 875.6" stroke-width="3.4"/>
<ellipse cx="1120.6" cy="912.5" rx="31.9" ry="25.6" transform="rotate(18 1120.6 912.5)" stroke-width="5" fill="#fff"/>
<path d="M1089 915C1089.4 916.9 1089.4 922.5 1091.2 926.2C1093.1 930 1096.5 934.5 1100 937.5C1103.5 940.5 1108.1 942.6 1112.5 944C1116.9 945.4 1121.9 946 1126.2 945.6C1130.6 945.3 1135.3 943.9 1138.8 941.9C1142.2 939.9 1144.7 937 1146.9 933.8C1149.1 930.5 1151 924.4 1151.9 922.5" stroke-width="5"/>
<path d="M1093.1 925C1094.7 926.9 1098.9 933.5 1102.5 936.2C1106.1 939 1110.8 940.3 1115 941.2C1119.2 942.2 1123.8 942.3 1127.5 941.9C1131.2 941.5 1135.8 939.3 1137.5 938.8" stroke-width="2"/>
<ellipse cx="1124" cy="909.8" rx="18.8" ry="16" transform="rotate(20 1124 909.8)" stroke-width="4" fill="#0d0d0d"/>
<ellipse cx="1121.5" cy="914" rx="14.2" ry="10.8" transform="rotate(20 1121.5 914)" fill="#fff"/>
<path d="M1135.6 885.6L1122.5 910" stroke-width="3.4" stroke="#fff"/>
<path d="M1136.2 885.6L1122.5 910.6" stroke-width="3.4"/>
<path d="M1152.5 925L1180.6 925" stroke-width="3.2"/>
<text x="1191.9" y="938.2" font-size="31.5" fill="#3d58a4" stroke="none" text-anchor="start" font-weight="normal">11</text>
<path d="M1105 948.8L1093.8 970" stroke-width="3.4"/>
<path d="M1086.9 983.8L1072.5 1011.2" stroke-width="3.4"/>
<path d="M1065.4 1028.9L1029.5 1096.9" stroke-width="3.3"/>
<path d="M1022.6 1110L997.7 1157.1" stroke-width="3.3"/>
<path d="M990.8 1170.2L965.9 1217.4" stroke-width="3.3"/>
<path d="M959.1 1230.3L934.3 1277.4" stroke-width="3.3"/>
<path d="M927.4 1290.5L902.5 1337.6" stroke-width="3.3"/>
<path d="M897 1348L889.8 1361.7" stroke-width="3.3"/>
<path d="M1216.5 802L1245.2 802" stroke-width="3.2"/>
<text x="1253" y="813.5" font-size="31.5" fill="#3d58a4" stroke="none" text-anchor="start" font-weight="normal">10</text>
<path d="M821.2 940C816.2 942.1 821.9 949.4 823.8 952.5C825.6 955.6 829.4 957.8 832.5 958.8C835.6 959.7 839.4 959 842.5 958C845.6 957 849.4 955.5 851.2 952.5C853.1 949.5 858.8 942.1 853.8 940C848.8 937.9 826.2 937.9 821.2 940Z" fill="#0d0d0d"/>
<ellipse cx="837.5" cy="938" rx="17" ry="13.8" transform="rotate(15 837.5 938)" fill="#0d0d0d"/>
<ellipse cx="838.8" cy="937" rx="10.5" ry="8" transform="rotate(15 838.8 937)" stroke-width="2.5" fill="#0d0d0d" stroke="#fff"/>
<ellipse cx="839.5" cy="938" rx="3.5" ry="2.5" transform="rotate(15 839.5 938)" stroke-width="2" fill="#0d0d0d" stroke="#fff"/>
<path d="M855 940L877.5 940" stroke-width="3.2"/>
<text x="887" y="950.5" font-size="31.5" fill="#3d58a4" stroke="none" text-anchor="start" font-weight="normal">6</text>
<path d="M826.2 967.5L815 992.5" stroke-width="3.4"/>
<path d="M807.5 1002.5L797 1026.2" stroke-width="3.4"/>
<path d="M790.5 1040L780 1060" stroke-width="3.4"/>
<path d="M750 1120L742.5 1137.5" stroke-width="3.4"/>
<path d="M760.5 1073C757.4 1074.1 754.2 1085.5 752.5 1088.8C750.8 1092 744.4 1103.2 743.8 1105.5C743.1 1107.8 745.1 1111 746.2 1112C747.4 1113 753.2 1114.8 755 1115C756.8 1115.2 762.5 1114.2 763.8 1113.8C765 1113.3 766.2 1112.5 767.5 1110.5C768.8 1108.5 774.6 1097 776.2 1093.8C777.9 1090.5 785.3 1080.1 783.8 1078C782.2 1075.9 763.6 1071.9 760.5 1073Z" stroke-width="3.4" fill="#fff"/>
<path d="M773.8 1086.2C772.2 1088.5 761.1 1110.7 760.5 1112.5C759.9 1114.3 764.5 1113.9 765 1113.8C765.5 1113.6 767.5 1112.3 768.8 1110C770 1107.7 783.4 1080.3 783.8 1078.8C784.1 1077.2 775.3 1084 773.8 1086.2Z" fill="#0d0d0d"/>
<ellipse cx="771.8" cy="1073" rx="12" ry="9" transform="rotate(20 771.8 1073)" stroke-width="3.5" fill="#0d0d0d"/>
<ellipse cx="771.8" cy="1073" rx="6.5" ry="4.5" transform="rotate(20 771.8 1073)" stroke-width="2.5" fill="#0d0d0d" stroke="#fff"/>
<path d="M780 1093.2L800 1093.2" stroke-width="3.2"/>
<text x="807" y="1104.2" font-size="31.5" fill="#3d58a4" stroke="none" text-anchor="start" font-weight="normal">5</text>
<path d="M1058.1 1176.1C1054.5 1181.5 1051.8 1186.8 1051.1 1191.8C1050.3 1196.8 1051.6 1201.8 1053.4 1205.9C1055.2 1210.1 1058 1213.7 1062 1216.9C1066.1 1220.2 1072.5 1223.7 1077.7 1225.6C1083 1227.4 1088.2 1228.4 1093.4 1228.2C1098.7 1228.1 1104.7 1227.2 1109.1 1224.8C1113.6 1222.4 1117.7 1217.5 1120.1 1213.8C1122.6 1210.1 1122.8 1206.5 1124.1 1202.8C1125.4 1199.1 1127.6 1195.7 1128 1191.8C1128.4 1187.9 1128.8 1183.7 1126.4 1179.2C1124.1 1174.8 1119.4 1168.7 1113.9 1165.1C1108.4 1161.6 1100.3 1159 1093.4 1158.1C1086.6 1157.1 1078.9 1156.6 1073 1159.6C1067.2 1162.6 1061.8 1170.7 1058.1 1176.1Z" fill="#0d0d0d"/>
<ellipse cx="1093.4" cy="1184" rx="35.8" ry="25.9" transform="rotate(20 1093.4 1184)" stroke-width="4" fill="#0d0d0d"/>
<ellipse cx="1093.4" cy="1184" rx="32.2" ry="22.5" transform="rotate(20 1093.4 1184)" fill="#0d0d0d" stroke="#fff"/>
<ellipse cx="1092.7" cy="1190.6" rx="20.1" ry="9.1" transform="rotate(24 1092.7 1190.6)" fill="#fff"/>
<path d="M1125.6 1202.3L1256.7 1202.3" stroke-width="3.4"/>
<text x="1269" y="1212.5" font-size="31.5" fill="#3d58a4" stroke="none" text-anchor="start" font-weight="normal">8</text>
<path d="M993.8 1281.3C994 1284.7 993.4 1295.2 995.3 1301.7C997.3 1308.3 1001 1315.1 1005.5 1320.5C1010.1 1326 1016.8 1331.4 1022.8 1334.7C1028.8 1338 1035.9 1340.2 1041.6 1340.2C1047.4 1340.2 1053.2 1337.2 1057.3 1334.7C1061.5 1332.2 1064.7 1328.9 1066.8 1325.3C1068.9 1321.6 1069.4 1314.8 1069.9 1312.7" stroke-width="4" fill="#fff"/>
<path d="M997.7 1297C999.8 1300.1 1005 1310.6 1010.2 1315.8C1015.5 1321.1 1022.8 1325.9 1029.1 1328.4C1035.4 1330.9 1042.4 1331.3 1047.9 1330.8C1053.4 1330.2 1059.7 1326.2 1062 1325.3"/>
<path d="M996.9 1306.4C999.4 1309.3 1006.2 1319 1011.8 1323.7C1017.4 1328.4 1024.4 1332.7 1030.6 1334.7C1036.9 1336.6 1046.3 1335.3 1049.5 1335.5"/>
<path d="M995.3 1290.7C997.3 1293.9 1002 1304.2 1007.1 1309.6C1012.2 1314.9 1019.4 1320.2 1025.9 1322.9C1032.5 1325.7 1040.1 1326.4 1046.3 1326C1052.6 1325.7 1060.7 1321.5 1063.6 1320.5"/>
<path d="M999.2 1314.3C1001.9 1316.8 1009.2 1325.3 1014.9 1329.2C1020.7 1333.1 1027.8 1336 1033.8 1337.5C1039.8 1339 1048.2 1338 1051.1 1338.1" stroke-width="2.5"/>
<path d="M1069.9 1322.1C1071.5 1321.9 1076.4 1322.1 1079.3 1320.5C1082.2 1319 1085.3 1315.1 1087.2 1312.7C1089 1310.3 1089.8 1307.5 1090.3 1306.4" stroke-width="8"/>
<ellipse cx="1044.8" cy="1277.4" rx="49.9" ry="36.4" transform="rotate(20 1044.8 1277.4)" stroke-width="5" fill="#fff"/>
<ellipse cx="1045.6" cy="1278.9" rx="33.8" ry="23.5" transform="rotate(22 1045.6 1278.9)" stroke-width="3.5"/>
<ellipse cx="1045.6" cy="1280" rx="26.7" ry="18.5" transform="rotate(22 1045.6 1280)"/>
<ellipse cx="1041.6" cy="1278.9" rx="18.5" ry="14.9" transform="rotate(20 1041.6 1278.9)" fill="#0d0d0d"/>
<ellipse cx="1047.9" cy="1287.6" rx="12.9" ry="8.6" transform="rotate(15 1047.9 1287.6)" fill="#fff"/>
<path d="M1056.6 1264L1044 1283.7" stroke-width="5" stroke="#fff"/>
<path d="M1056.1 1264L1044 1283.2" stroke-width="3.4"/>
<path d="M1070.7 1231.1L1060.5 1250.7" stroke-width="3.4"/>
<path d="M1091.9 1309.9L1256.7 1309.9" stroke-width="3.4"/>
<text x="1269" y="1319" font-size="31.5" fill="#3d58a4" stroke="none" text-anchor="start" font-weight="normal">7</text>
<ellipse cx="1001" cy="1368.5" rx="32" ry="23" transform="rotate(25 1001 1368.5)" stroke-width="8.5"/>
<path d="M1037.8 1386L1257.8 1386" stroke-width="3.4"/>
<text x="1268" y="1402.8" font-size="31.5" fill="#3d58a4" stroke="none" text-anchor="start" font-weight="normal">9</text>
<path d="M985.2 1401L975.2 1423.5" stroke-width="3.4"/>
<path d="M970.2 1433.5L957.8 1459.8" stroke-width="3.4"/>
<path d="M1995.6 450L1995.6 733.8" stroke-width="4.5"/>
<path d="M2019.4 450L2019.4 733.8" stroke-width="8.8" stroke-linecap="butt"/>
<path d="M2032.8 385C2033.5 383.9 2036.4 385.6 2037.2 388.1C2038.1 390.6 2038.2 396.4 2038 400C2037.8 403.6 2037.3 407.4 2036 410C2034.7 412.6 2031.6 414.6 2030 415.6C2028.4 416.7 2026 417.6 2026.2 416.2C2026.5 414.9 2030.2 411 2031.2 407.5C2032.3 404 2032.2 398.8 2032.5 395C2032.8 391.2 2032 386.1 2032.8 385Z" stroke-width="5" fill="#0d0d0d"/>
<path d="M1978.1 400C1978.3 401.7 1977.4 407.1 1979 410C1980.6 412.9 1983 415.8 1987.5 417.5C1992 419.2 2000 420.4 2006.2 420.2C2012.5 420.1 2020.1 418.6 2025 416.5C2029.9 414.4 2033.9 409 2035.6 407.5" stroke-width="5"/>
<path d="M1980 356.2C1979.9 359.6 1979.7 369.6 1979.5 376.2C1979.3 382.9 1979.1 392.9 1979 396.2" stroke-width="5"/>
<path d="M2032.5 356.2C2032.5 359.2 2032.8 368.1 2032.8 373.8C2032.7 379.4 2032.3 387.3 2032.2 390" stroke-width="5"/>
<ellipse cx="2006.2" cy="354.4" rx="24.8" ry="11.5" stroke-width="5.5" fill="#fff"/>
<path d="M1995.2 370L1995.8 397.5" stroke-width="4"/>
<path d="M2020 368.8L2019.8 396.2" stroke-width="4"/>
<path d="M1979.5 394.4C1980.8 395.3 1983 398.5 1987.5 400C1992 401.5 2000 403.1 2006.2 403.1C2012.5 403.1 2020.8 402.2 2025 400C2029.2 397.8 2030.4 391.7 2031.5 390" stroke-width="4.5"/>
<path d="M1988.1 421.2C1988 423.1 1987.6 429 1987.5 432.5C1987.4 436 1986.7 439.5 1987.8 442.5C1988.8 445.5 1992.8 449 1993.8 450.2" stroke-width="5"/>
<path d="M2026.2 422.5C2026.4 424.2 2027.2 429 2027.2 432.5C2027.2 436 2026.9 440.8 2026.2 443.8C2025.6 446.7 2023.6 449 2023.1 450" stroke-width="6"/>
<path d="M2017.5 426.2L2026.9 426.2L2026.2 445L2023.1 450L2016.2 450Z" stroke-width="2" fill="#0d0d0d"/>
<ellipse cx="2006.2" cy="426.9" rx="14.8" ry="3.8" stroke-width="3.5"/>
<path d="M1991.2 433.1C1993.8 433.3 2001.9 434.5 2006.2 434.4C2010.6 434.3 2015.6 432.8 2017.5 432.5" stroke-width="3.5"/>
<path d="M1995 448.8C1996.9 449.1 2002.5 450.5 2006.2 450.6C2010 450.7 2015.6 449.6 2017.5 449.4" stroke-width="5"/>
<path d="M1993.1 731.2L2023.8 731.2L2023.8 740L1993.1 740Z" stroke-width="2" fill="#0d0d0d"/>
<path d="M1998.8 731.9L2013.1 731.9L2013.1 736.9L1998.8 736.9Z" fill="#fff"/>
<path d="M1996.9 740L1995.6 757.5" stroke-width="5.5"/>
<path d="M2018.8 740L2018.8 758.8" stroke-width="8" stroke-linecap="butt"/>
<path d="M1994.4 758.8C1994.3 762.7 1993.8 774.6 1993.8 782.5C1993.8 790.4 1993.5 801.4 1994.4 806.2C1995.2 811.1 1996.4 810.7 1998.8 811.9C2001.1 813.1 2005.4 813.5 2008.8 813.5C2012.1 813.5 2016.4 813.1 2018.8 811.9C2021.1 810.7 2022.3 811.1 2023.1 806.2C2024 801.4 2023.7 790.4 2023.8 782.5C2023.8 774.6 2023.5 762.7 2023.5 758.8" stroke-width="5"/>
<path d="M1995 761.2C1997.3 761.7 2004.1 763.8 2008.8 763.8C2013.4 763.8 2020.7 761.7 2023.1 761.2" stroke-width="4"/>
<path d="M1995 768.5L2001.2 766.2" stroke-width="3.6"/>
<path d="M2012.5 768.5L2022.5 766.2" stroke-width="3.6"/>
<path d="M1995 773.8L2001.2 771.5" stroke-width="3.6"/>
<path d="M2012.5 773.8L2022.5 771.5" stroke-width="3.6"/>
<path d="M1995 779L2001.2 776.8" stroke-width="3.6"/>
<path d="M2012.5 779L2022.5 776.8" stroke-width="3.6"/>
<path d="M1995 784.2L2001.2 782" stroke-width="3.6"/>
<path d="M2012.5 784.2L2022.5 782" stroke-width="3.6"/>
<path d="M1995 789.5L2001.2 787.2" stroke-width="3.6"/>
<path d="M2012.5 789.5L2022.5 787.2" stroke-width="3.6"/>
<path d="M1995 794.8L2001.2 792.5" stroke-width="3.6"/>
<path d="M2012.5 794.8L2022.5 792.5" stroke-width="3.6"/>
<path d="M1995 800L2001.2 797.8" stroke-width="3.6"/>
<path d="M2012.5 800L2022.5 797.8" stroke-width="3.6"/>
<path d="M1995 805.2L2001.2 803" stroke-width="3.6"/>
<path d="M2012.5 805.2L2022.5 803" stroke-width="3.6"/>
<path d="M2000 809.4C2001.5 809.6 2005.8 810.7 2008.8 810.6C2011.7 810.6 2016 809.3 2017.5 809" stroke="#777"/>
<path d="M1954.8 670.1L1993 670.1" stroke-width="3.2"/>
<text x="1929.3" y="685.4" font-size="31.5" fill="#3d58a4" stroke="none" text-anchor="start" font-weight="normal">3</text>
<path d="M1980 861.2C1980 863.5 1978.8 871.2 1980 875C1981.2 878.8 1984.2 881.5 1987.5 883.8C1990.8 886 1995.8 887.8 2000 888.8C2004.2 889.8 2008.3 890 2012.5 889.8C2016.7 889.5 2021.5 888.7 2025 887.5C2028.5 886.3 2031.7 884.6 2033.8 882.5C2035.8 880.4 2036.9 878.5 2037.5 875C2038.1 871.5 2037.5 863.5 2037.5 861.2" stroke-width="5" fill="#fff"/>
<path d="M2030 870L2037.5 863.8L2037.5 875L2033.8 882.5L2028.8 885.2Z" stroke-width="2" fill="#0d0d0d"/>
<ellipse cx="2008.8" cy="861.2" rx="28.8" ry="14" stroke-width="5.5" fill="#fff"/>
<ellipse cx="2007.5" cy="861.9" rx="15.2" ry="7.8" stroke-width="5" fill="#0d0d0d"/>
<ellipse cx="2010" cy="863.8" rx="9.8" ry="3.8" fill="#fff"/>
<path d="M2000 860C2001.5 859.6 2005.8 857.4 2008.8 857.5C2011.7 857.6 2016 860.1 2017.5 860.6" stroke-width="4" stroke="#fff"/>
<path d="M1956.2 875.2L1978.8 875.2" stroke-width="3.4"/>
<text x="1930" y="883.5" font-size="31.5" fill="#3d58a4" stroke="none" text-anchor="start" font-weight="normal">4</text>
<path d="M2008.5 895L2009 920" stroke-width="3.4"/>
<path d="M2008.2 895L2008.8 926.2" stroke-width="3.4"/>
<path d="M2009 932.5L2009.2 955" stroke-width="3.4"/>
<path d="M2183.8 633.8C2185.2 633.2 2208.5 633.3 2210 633.8C2211.5 634.2 2213.6 641.4 2213.8 642.5C2213.9 643.6 2213.4 655.4 2213.1 656.2C2212.9 657.1 2210.1 660 2208.8 660.2C2207.4 660.5 2187.7 660.5 2186.2 660.2C2184.8 660 2180.9 657 2180.6 656.2C2180.3 655.5 2179.8 646.1 2180 645C2180.2 643.9 2182.2 634.3 2183.8 633.8Z" stroke-width="5" fill="#fff"/>
<path d="M2181.9 645C2182.2 645.1 2185.8 646.4 2187.5 646.5C2189.2 646.6 2205.8 646.6 2207.5 646.5C2209.2 646.4 2212.2 644.5 2212.5 644.4" stroke-width="4"/>
<path d="M2188.8 646.9L2188.8 659" stroke-width="3.5"/>
<path d="M2206.2 646.9L2206.2 659" stroke-width="3.5"/>
<path d="M2186.9 661.2L2206.2 661.2L2206.5 701.2L2187.2 701.2Z" fill="#0d0d0d"/>
<path d="M2193.1 668.1L2200.6 669.1" stroke="#fff"/>
<path d="M2193.1 672.9L2200.6 673.9" stroke="#fff"/>
<path d="M2193.1 677.6L2200.6 678.6" stroke="#fff"/>
<path d="M2193.1 682.4L2200.6 683.4" stroke="#fff"/>
<path d="M2193.1 687.1L2200.6 688.1" stroke="#fff"/>
<path d="M2193.1 691.9L2200.6 692.9" stroke="#fff"/>
<path d="M2193.1 696.6L2200.6 697.6" stroke="#fff"/>
<path d="M2193.8 663.8C2194.4 663.5 2196.5 662.3 2197.5 662.5C2198.5 662.7 2199.6 664.6 2200 665" stroke="#fff"/>
<path d="M2189.6 701.2C2189.6 711.9 2189.3 796.3 2189.6 807.5C2189.9 818.7 2191.8 812.4 2192.5 813.1C2193.2 813.8 2196 814.4 2196.9 814.4C2197.8 814.4 2200.6 813.8 2201.2 813.1C2201.9 812.4 2203 818.7 2203.1 807.5C2203.3 796.3 2202.9 711.9 2202.9 701.2" stroke-width="4.6"/>
<path d="M2205 733.5L2230 733.5" stroke-width="3.2"/>
<text x="2237.8" y="735.5" font-size="31.5" fill="#3d58a4" stroke="none" text-anchor="start" font-weight="normal">2</text>
<path d="M2196.5 822.5L2197 882.5" stroke-width="3.4"/>
<path d="M2197 895L2197.5 930" stroke-width="3.4"/>
<path d="M2197.8 937.5L2198 962.5" stroke-width="3.4"/>
<path d="M1858.8 999.5C1864.3 997.3 1913.6 977.9 1925 973C1936.4 968.1 1988.3 943.4 1995 940.5C2001.7 937.6 2003.6 938 2005.5 938C2007.4 938 2013.8 940 2017.5 940.5C2021.2 941 2043.1 944.1 2050 944.5C2056.9 944.9 2091.7 945.3 2100 945.5C2108.3 945.7 2143.8 946.8 2150 947C2156.2 947.2 2171.7 947.5 2175 948C2178.3 948.5 2187.5 951.5 2190 952.5C2192.5 953.5 2200 957.1 2205 960C2210 962.9 2243.6 983.8 2250 987.5C2256.4 991.2 2278.9 1002.7 2282.2 1005C2285.6 1007.3 2289.9 1013.1 2290.5 1015C2291.1 1016.9 2289.1 1025.4 2289.5 1027.5C2289.9 1029.6 2293.2 1037.9 2295.5 1040C2297.8 1042.1 2314 1050.4 2317.2 1052.2C2320.5 1054.1 2332.6 1060.3 2334.8 1061.8C2336.9 1063.2 2342.2 1068.1 2343.5 1069.8C2344.8 1071.4 2349.1 1079.4 2350.5 1082C2351.9 1084.6 2359 1097.8 2360.8 1101C2362.5 1104.2 2370.4 1118.6 2371.2 1120.2" stroke-width="4.2"/>
<path d="M1858.8 999.5C1858.8 1000.5 1858.6 1007.7 1858.8 1010C1858.9 1012.3 1860.2 1020 1860 1022.5C1859.8 1025 1856.9 1032.2 1856.2 1035C1855.6 1037.8 1853.9 1047.5 1853.8 1050C1853.6 1052.5 1855.4 1058.4 1855 1060C1854.6 1061.6 1852.8 1064.6 1850 1066.2C1847.2 1067.9 1829.9 1074.9 1827.5 1076.2C1825.1 1077.6 1825.8 1078.4 1825.8 1080C1825.7 1081.6 1825.6 1090.7 1827 1092.5C1828.4 1094.3 1838.7 1097.5 1840 1098" stroke-width="5"/>
<path d="M1840 1098C1846 1101 1889 1122.3 1900 1127.5C1911 1132.7 1943 1146.9 1950 1150C1957 1153.1 1967.5 1158.2 1970 1158.8C1972.5 1159.2 1972.2 1155.9 1975 1155C1977.8 1154.1 1993.8 1149.8 1997.5 1150C2001.2 1150.2 2008.5 1155 2012.5 1157.5C2016.5 1160 2031.2 1172 2037.5 1175C2043.8 1178 2066.2 1185 2075 1187.5C2083.8 1190 2115 1198.4 2125 1200C2135 1201.6 2165 1204 2175 1203.8C2185 1203.5 2217.8 1198.8 2225 1197.5C2232.2 1196.2 2242.7 1193 2247.5 1191.2C2252.3 1189.5 2268.2 1181.8 2273.5 1179.5C2278.8 1177.2 2295.6 1170.2 2300 1168.2C2304.4 1166.3 2314.7 1162 2317.2 1160.5C2319.8 1159 2323.4 1155 2326 1153.5C2328.6 1152 2340.8 1146.7 2343.5 1145.5C2346.2 1144.3 2350.6 1142.7 2352.5 1142C2354.4 1141.3 2360.8 1139.5 2362.5 1138.5C2364.2 1137.5 2368.6 1133.8 2369.5 1132.5C2370.4 1131.2 2371.8 1126.7 2372 1125.5C2372.2 1124.3 2371.3 1120.8 2371.2 1120.2" stroke-width="4.2"/>
<path d="M1825 1001.2L1857.5 1001.2" stroke-width="3.2"/>
<text x="1801.5" y="1010" font-size="31.5" fill="#3d58a4" stroke="none" text-anchor="start" font-weight="normal">1</text>
<ellipse cx="2007.5" cy="955" rx="15" ry="9.5" stroke-width="3.6" fill="#fff"/>
<path d="M1993.2 955C1993.2 952.5 1996.8 948.9 1998.5 947.4C2000.2 945.9 2003 944.7 2003.8 946C2004.5 947.2 2003 952 2003 955C2003 958 2004.5 962.8 2003.8 964C2003 965.3 2000.2 964.1 1998.5 962.6C1996.8 961.1 1993.2 957.5 1993.2 955Z" stroke-width="1.5" fill="#0d0d0d"/>
<ellipse cx="1963.8" cy="967.5" rx="5.5" ry="3.5" stroke-width="3.6" fill="#0d0d0d"/>
<ellipse cx="1964.6" cy="967.9" rx="1.9" ry="1.1" fill="#888"/>
<ellipse cx="1917.5" cy="988" rx="6.2" ry="4" stroke-width="3.6" fill="#0d0d0d"/>
<ellipse cx="1918.4" cy="988.4" rx="2.2" ry="1.2" fill="#888"/>
<ellipse cx="2010" cy="987" rx="5.5" ry="3" stroke-width="3.6" fill="#0d0d0d"/>
<ellipse cx="2010.8" cy="987.3" rx="1.9" ry="0.9" fill="#888"/>
<ellipse cx="1887.5" cy="1004.2" rx="15" ry="9" stroke-width="3.6" fill="#fff"/>
<path d="M1873.2 1004.2C1873.2 1001.9 1876.8 998.5 1878.5 997C1880.2 995.6 1883 994.5 1883.8 995.7C1884.5 996.9 1883 1001.4 1883 1004.2C1883 1007.1 1884.5 1011.6 1883.8 1012.8C1883 1014 1880.2 1012.9 1878.5 1011.5C1876.8 1010 1873.2 1006.6 1873.2 1004.2Z" stroke-width="1.5" fill="#0d0d0d"/>
<ellipse cx="1902.5" cy="1057" rx="17" ry="9.5" stroke-width="3.6" fill="#fff"/>
<ellipse cx="1873.8" cy="1080" rx="14.5" ry="8.8" stroke-width="3.6" fill="#fff"/>
<path d="M1860 1080C1860 1077.7 1863.4 1074.4 1865 1073C1866.7 1071.6 1869.4 1070.5 1870.1 1071.7C1870.8 1072.9 1869.4 1077.2 1869.4 1080C1869.4 1082.8 1870.8 1087.1 1870.1 1088.3C1869.4 1089.5 1866.7 1088.4 1865 1087C1863.4 1085.6 1860 1082.3 1860 1080Z" stroke-width="1.5" fill="#0d0d0d"/>
<ellipse cx="1996.2" cy="1081.2" rx="15.5" ry="9.5" stroke-width="3.6" fill="#fff"/>
<ellipse cx="1935" cy="1105" rx="22.5" ry="12.5" stroke-width="3.6" fill="#fff"/>
<path d="M1913.6 1105C1913.6 1101.7 1918.9 1097 1921.5 1095C1924.1 1093 1928.2 1091.5 1929.4 1093.1C1930.5 1094.8 1928.2 1101 1928.2 1105C1928.2 1109 1930.5 1115.2 1929.4 1116.9C1928.2 1118.5 1924.1 1117 1921.5 1115C1918.9 1113 1913.6 1108.3 1913.6 1105Z" stroke-width="1.5" fill="#0d0d0d"/>
<ellipse cx="1943.8" cy="1126.2" rx="12.5" ry="7.5" stroke-width="3.6" fill="#fff"/>
<ellipse cx="1943.8" cy="1126.2" rx="12.5" ry="7.5" stroke-width="5.1" fill="#555"/>
<path d="M1936.2 1125.8C1937.5 1125.3 1941.2 1122.9 1943.8 1122.9C1946.2 1122.9 1950 1125.3 1951.2 1125.8" stroke-width="2.5" stroke="#ddd"/>
<path d="M1936.2 1129.2C1937.5 1128.8 1941.2 1126.6 1943.8 1126.6C1946.2 1126.6 1950 1128.8 1951.2 1129.2" stroke-width="2.5" stroke="#ddd"/>
<ellipse cx="1972.5" cy="1137.5" rx="14.5" ry="8.8" stroke-width="3.6" fill="#fff"/>
<path d="M1958.7 1137.5C1958.7 1135.2 1962.1 1131.9 1963.8 1130.5C1965.5 1129.1 1968.2 1128 1968.9 1129.2C1969.6 1130.4 1968.2 1134.7 1968.2 1137.5C1968.2 1140.3 1969.6 1144.6 1968.9 1145.8C1968.2 1147 1965.5 1145.9 1963.8 1144.5C1962.1 1143.1 1958.7 1139.8 1958.7 1137.5Z" stroke-width="1.5" fill="#0d0d0d"/>
<ellipse cx="2037.5" cy="1031.2" rx="8.8" ry="5" stroke-width="3.6" fill="#fff"/>
<path d="M2029.2 1031.2C2029.2 1029.9 2031.2 1028 2032.2 1027.2C2033.3 1026.5 2034.9 1025.8 2035.3 1026.5C2035.8 1027.2 2034.9 1029.7 2034.9 1031.2C2034.9 1032.8 2035.8 1035.3 2035.3 1036C2034.9 1036.7 2033.3 1036 2032.2 1035.2C2031.2 1034.5 2029.2 1032.6 2029.2 1031.2Z" stroke-width="1.5" fill="#0d0d0d"/>
<ellipse cx="2032.5" cy="1119.5" rx="10" ry="6.2" stroke-width="3.6" fill="#fff"/>
<ellipse cx="2032.5" cy="1119.5" rx="10" ry="6.2" stroke-width="5.8"/>
<ellipse cx="2033" cy="1120.2" rx="5.5" ry="3.1"/>
<ellipse cx="2095" cy="1128.8" rx="17" ry="10" stroke-width="3.6" fill="#fff"/>
<ellipse cx="2155" cy="1127.5" rx="10" ry="6.2" stroke-width="3.6" fill="#fff"/>
<ellipse cx="2130" cy="1146.2" rx="13.8" ry="8" stroke-width="3.6" fill="#fff"/>
<ellipse cx="2130" cy="1146.2" rx="13.8" ry="8" stroke-width="5.8"/>
<ellipse cx="2130.5" cy="1147" rx="7.6" ry="4"/>
<ellipse cx="2083.8" cy="1155.8" rx="6.2" ry="3.5" stroke-width="3.6" fill="#fff"/>
<ellipse cx="2110" cy="1169.5" rx="9.5" ry="5.5" stroke-width="3.6" fill="#0d0d0d"/>
<ellipse cx="2111.4" cy="1170" rx="3.3" ry="1.6" fill="#888"/>
<ellipse cx="2125" cy="1083" rx="16.2" ry="10" stroke-width="3.6" fill="#fff"/>
<ellipse cx="2125" cy="1083" rx="16.2" ry="10" stroke-width="5.8"/>
<ellipse cx="2125.5" cy="1083.8" rx="8.9" ry="5"/>
<ellipse cx="2118.8" cy="972.5" rx="13.8" ry="8.8" stroke-width="3.6" fill="#fff"/>
<ellipse cx="2172.5" cy="961.2" rx="10" ry="7.5" stroke-width="3.6" fill="#fff"/>
<ellipse cx="2197.5" cy="974.5" rx="7" ry="4" stroke-width="3.6" fill="#fff"/>
<ellipse cx="2197.5" cy="999.5" rx="17.5" ry="10.5" stroke-width="3.6" fill="#fff"/>
<path d="M2180.9 999.5C2180.9 996.7 2185 992.8 2187 991.1C2189 989.4 2192.2 988.1 2193.1 989.5C2194 990.9 2192.2 996.2 2192.2 999.5C2192.2 1002.8 2194 1008.1 2193.1 1009.5C2192.2 1010.9 2189 1009.6 2187 1007.9C2185 1006.2 2180.9 1002.3 2180.9 999.5Z" stroke-width="1.5" fill="#0d0d0d"/>
<ellipse cx="2237.5" cy="1003.8" rx="12.5" ry="7.5" stroke-width="3.6" fill="#fff"/>
<ellipse cx="2237.5" cy="1003.8" rx="12.5" ry="7.5" stroke-width="5.1" fill="#555"/>
<path d="M2230 1003.2C2231.2 1002.8 2235 1000.4 2237.5 1000.4C2240 1000.4 2243.8 1002.8 2245 1003.2" stroke-width="2.5" stroke="#ddd"/>
<path d="M2230 1006.8C2231.2 1006.3 2235 1004.1 2237.5 1004.1C2240 1004.1 2243.8 1006.3 2245 1006.8" stroke-width="2.5" stroke="#ddd"/>
<ellipse cx="2265.5" cy="1020" rx="14.5" ry="8.8" stroke-width="3.6" fill="#fff"/>
<path d="M2251.7 1020C2251.7 1017.7 2255.1 1014.4 2256.8 1013C2258.5 1011.6 2261.2 1010.5 2261.9 1011.7C2262.6 1012.9 2261.2 1017.2 2261.2 1020C2261.2 1022.8 2262.6 1027.1 2261.9 1028.3C2261.2 1029.5 2258.5 1028.4 2256.8 1027C2255.1 1025.6 2251.7 1022.3 2251.7 1020Z" stroke-width="1.5" fill="#0d0d0d"/>
<ellipse cx="2220" cy="1043.8" rx="10" ry="6.2" stroke-width="3.6" fill="#0d0d0d"/>
<ellipse cx="2221.5" cy="1044.4" rx="3.5" ry="1.9" fill="#888"/>
<ellipse cx="2225" cy="1073.8" rx="17" ry="10" stroke-width="3.6" fill="#fff"/>
<ellipse cx="2250" cy="1094.5" rx="14.5" ry="8.8" stroke-width="3.6" fill="#fff"/>
<ellipse cx="2250" cy="1094.5" rx="14.5" ry="8.8" stroke-width="5.8"/>
<ellipse cx="2250.5" cy="1095.2" rx="8" ry="4.4"/>
<ellipse cx="2213" cy="1103.2" rx="10" ry="6.2" stroke-width="3.6" fill="#fff"/>
<path d="M2203.5 1103.2C2203.5 1101.6 2205.8 1099.2 2207 1098.2C2208.2 1097.3 2210 1096.5 2210.5 1097.3C2211 1098.1 2210 1101.3 2210 1103.2C2210 1105.2 2211 1108.4 2210.5 1109.2C2210 1110 2208.2 1109.2 2207 1108.2C2205.8 1107.3 2203.5 1104.9 2203.5 1103.2Z" stroke-width="1.5" fill="#0d0d0d"/>
<ellipse cx="2300.5" cy="1088" rx="8.8" ry="5" stroke-width="3.6" fill="#0d0d0d"/>
<ellipse cx="2301.8" cy="1088.5" rx="3.1" ry="1.5" fill="#888"/>
<ellipse cx="2087.5" cy="1045" rx="12.5" ry="8.8" stroke-width="3.6" fill="#fff"/>
<path d="M2009 932.5L2009.2 955" stroke-width="3.4"/>
<path d="M2197.8 937.5L2198 962.5" stroke-width="3.4"/>
<path d="M2289.2 1097.5C2291.2 1097.4 2306.1 1097 2308.5 1096.8C2310.9 1096.5 2312.3 1095.2 2313.8 1095C2315.2 1094.8 2321.1 1094.6 2322.5 1095C2323.9 1095.4 2326.2 1097.5 2327.8 1099.2C2329.3 1101 2336.3 1110.2 2338.2 1112.5C2340.2 1114.8 2346.1 1121.2 2347 1122.8C2347.9 1124.3 2348.1 1127 2347.8 1128C2347.4 1129 2345.7 1131.8 2343.5 1133.2C2341.3 1134.7 2328.2 1140.9 2326 1142C2323.8 1143.1 2323.4 1144 2321.5 1144.2C2319.6 1144.5 2308.7 1145 2306.8 1144.8C2304.8 1144.5 2303.2 1142.3 2302.5 1141.2C2301.8 1140.2 2300.1 1136.1 2299.8 1134.2C2299.4 1132.4 2299.7 1124.2 2299 1122.8C2298.3 1121.3 2294.4 1121.3 2292.8 1120.2C2291.1 1119.2 2284.4 1114 2282.2 1112.5C2280.1 1111 2272.1 1106.2 2271 1105.5" stroke-width="4" fill="#fff"/>
<path d="M2271 1104.5L2289.2 1098L2289.2 1113.2L2282.2 1112.5Z" stroke-width="2" fill="#0d0d0d"/>
<path d="M2292 1131.5L2299 1125.5L2299.8 1136L2296.2 1136.8Z" stroke-width="2" fill="#0d0d0d"/>
<path d="M2313.5 1104.5L2314.2 1139.5" stroke-width="2.5"/>
<path d="M2135 1157.5C2136.5 1156.9 2147.5 1152.3 2150 1151.2C2152.5 1150.2 2158 1147.2 2160 1147C2162 1146.8 2164 1145.5 2170 1148.8C2176 1152 2214.9 1176.2 2220 1180C2225.1 1183.8 2222.2 1185 2221.2 1186.2C2220.2 1187.5 2213.6 1191.8 2210 1192.5C2206.4 1193.2 2190.5 1193.6 2185 1193C2179.5 1192.4 2160.2 1187.7 2155 1186.2C2149.8 1184.8 2135.5 1179.9 2132.5 1178.8C2129.5 1177.6 2125.8 1175.4 2125 1175" stroke-width="4" fill="#fff"/>
<path d="M2125 1176.2C2124.8 1174.9 2133.8 1163.2 2135 1162.5C2136.2 1161.8 2142 1164 2142.5 1165C2143 1166 2143.3 1176.3 2143 1177.5C2142.7 1178.7 2138.7 1182.6 2137.5 1182.5C2136.3 1182.4 2125.2 1177.6 2125 1176.2Z" stroke-width="2" fill="#0d0d0d"/>
<path d="M2157.5 1171.2C2157.5 1170.6 2166.3 1169.8 2167.5 1170C2168.7 1170.2 2173.5 1174.7 2175 1175C2176.5 1175.3 2188.7 1174.1 2190 1175C2191.3 1175.9 2196.3 1187.8 2195 1188.8C2193.7 1189.7 2171.8 1189.3 2170 1188.8C2168.2 1188.2 2168.3 1181.2 2167.5 1180C2166.7 1178.8 2157.5 1171.9 2157.5 1171.2Z" stroke-width="2" fill="#0d0d0d"/>
<path d="M2160 1167.5C2162.5 1167.1 2170 1164.2 2175 1165C2180 1165.8 2187.5 1171.2 2190 1172.5"/>
<ellipse cx="2078" cy="1006.2" rx="36.6" ry="15.7" stroke-width="4.6" fill="#fff"/>
<path d="M2046.8 973C2040.4 974.7 2046 986.3 2045.8 989.6C2045.6 993 2044.2 1003.8 2044.9 1006.2C2045.6 1008.7 2049.7 1012.9 2053 1014.1C2056.3 1015.2 2073 1017.5 2078 1017.5C2083 1017.5 2099.7 1015.2 2103 1014.1C2106.3 1012.9 2110.4 1008.7 2111.1 1006.2C2111.8 1003.8 2110.4 993 2110.2 989.6C2110 986.3 2115.6 974.7 2109.2 973C2102.9 971.3 2053.1 971.3 2046.8 973Z" fill="#fff"/>
<path d="M2046.8 973C2046.6 975.8 2046.2 984.1 2045.8 989.6C2045.4 995.2 2044.8 1003.5 2044.6 1006.2" stroke-width="4.5"/>
<path d="M2109.2 973C2109.4 975.8 2109.8 984.1 2110.2 989.6C2110.6 995.2 2111.2 1003.5 2111.4 1006.2" stroke-width="4.5"/>
<path d="M2109.2 980.8C2109.1 981.2 2108.8 982.6 2108.2 983.5C2107.7 984.4 2106.8 985.2 2105.8 986C2104.8 986.8 2103.5 987.6 2102 988.3C2100.6 989 2098.9 989.7 2097.1 990.2C2095.3 990.8 2093.3 991.3 2091.3 991.6C2089.2 992 2087 992.3 2084.8 992.5C2082.6 992.7 2080.3 992.8 2078 992.8C2075.7 992.8 2073.4 992.7 2071.2 992.5C2069 992.3 2066.8 992 2064.7 991.6C2062.7 991.3 2060.7 990.8 2058.9 990.2C2057.1 989.7 2055.4 989 2054 988.3C2052.5 987.6 2051.2 986.8 2050.2 986C2049.2 985.2 2048.3 984.4 2047.8 983.5C2047.2 982.6 2046.9 981.2 2046.8 980.8" stroke-width="4.8"/>
<path d="M2104.3 982.5C2103.8 982.8 2102.6 983.5 2101.7 984C2100.8 984.4 2099.7 984.9 2098.6 985.3C2097.5 985.7 2096.3 986.1 2095.1 986.4C2093.8 986.7 2092.5 987 2091.2 987.3C2089.8 987.5 2088.4 987.8 2086.9 987.9C2085.5 988.1 2084 988.2 2082.5 988.3C2081 988.4 2079.5 988.5 2078 988.5C2076.5 988.5 2075 988.4 2073.5 988.3C2072 988.2 2070.5 988.1 2069.1 987.9C2067.6 987.8 2066.2 987.5 2064.8 987.3C2063.5 987 2062.2 986.7 2060.9 986.4C2059.7 986.1 2058.5 985.7 2057.4 985.3C2056.3 984.9 2055.2 984.4 2054.3 984C2053.4 983.5 2052.2 982.8 2051.7 982.5" stroke-width="2.2" stroke-dasharray="20 14"/>
<path d="M2110.3 991.9C2110.2 992.3 2109.9 993.7 2109.3 994.6C2108.7 995.4 2107.9 996.3 2106.8 997.1C2105.7 997.9 2104.4 998.7 2102.9 999.4C2101.4 1000.1 2099.6 1000.8 2097.8 1001.3C2095.9 1001.9 2093.9 1002.3 2091.7 1002.7C2089.6 1003.1 2087.3 1003.4 2085 1003.6C2082.7 1003.8 2080.3 1003.9 2078 1003.9C2075.7 1003.9 2073.3 1003.8 2071 1003.6C2068.7 1003.4 2066.4 1003.1 2064.3 1002.7C2062.1 1002.3 2060.1 1001.9 2058.2 1001.3C2056.4 1000.8 2054.6 1000.1 2053.1 999.4C2051.6 998.7 2050.3 997.9 2049.2 997.1C2048.1 996.3 2047.3 995.4 2046.7 994.6C2046.1 993.7 2045.8 992.3 2045.7 991.9" stroke-width="4.8"/>
<path d="M2105.2 993.6C2104.7 993.8 2103.5 994.6 2102.5 995.1C2101.6 995.5 2100.5 996 2099.3 996.4C2098.2 996.8 2097 997.1 2095.7 997.5C2094.4 997.8 2093 998.1 2091.6 998.4C2090.2 998.6 2088.7 998.8 2087.2 999C2085.8 999.2 2084.2 999.3 2082.7 999.4C2081.1 999.5 2079.6 999.5 2078 999.5C2076.4 999.5 2074.9 999.5 2073.3 999.4C2071.8 999.3 2070.2 999.2 2068.8 999C2067.3 998.8 2065.8 998.6 2064.4 998.4C2063 998.1 2061.6 997.8 2060.3 997.5C2059 997.1 2057.8 996.8 2056.7 996.4C2055.5 996 2054.4 995.5 2053.5 995.1C2052.5 994.6 2051.3 993.8 2050.8 993.6" stroke-width="2.2" stroke-dasharray="20 14"/>
<path d="M2111.4 1002.9C2111.2 1003.4 2111 1004.8 2110.4 1005.6C2109.8 1006.5 2108.9 1007.4 2107.8 1008.2C2106.6 1009 2105.3 1009.8 2103.7 1010.5C2102.2 1011.2 2100.4 1011.8 2098.5 1012.4C2096.5 1012.9 2094.4 1013.4 2092.2 1013.8C2090 1014.2 2087.6 1014.5 2085.3 1014.7C2082.9 1014.9 2080.4 1015 2078 1015C2075.6 1015 2073.1 1014.9 2070.7 1014.7C2068.4 1014.5 2066 1014.2 2063.8 1013.8C2061.6 1013.4 2059.5 1012.9 2057.5 1012.4C2055.6 1011.8 2053.8 1011.2 2052.3 1010.5C2050.7 1009.8 2049.4 1009 2048.2 1008.2C2047.1 1007.4 2046.2 1006.5 2045.6 1005.6C2045 1004.8 2044.8 1003.4 2044.6 1002.9" stroke-width="4.8"/>
<path d="M2106.1 1004.7C2105.6 1004.9 2104.4 1005.7 2103.4 1006.2C2102.4 1006.6 2101.2 1007.1 2100.1 1007.5C2098.9 1007.9 2097.6 1008.2 2096.3 1008.6C2094.9 1008.9 2093.5 1009.2 2092.1 1009.4C2090.6 1009.7 2089.1 1009.9 2087.6 1010.1C2086 1010.3 2084.4 1010.4 2082.8 1010.5C2081.2 1010.6 2079.6 1010.6 2078 1010.6C2076.4 1010.6 2074.8 1010.6 2073.2 1010.5C2071.6 1010.4 2070 1010.3 2068.4 1010.1C2066.9 1009.9 2065.4 1009.7 2063.9 1009.4C2062.5 1009.2 2061.1 1008.9 2059.7 1008.6C2058.4 1008.2 2057.1 1007.9 2055.9 1007.5C2054.8 1007.1 2053.6 1006.6 2052.6 1006.2C2051.6 1005.7 2050.4 1004.9 2049.9 1004.7" stroke-width="2.2" stroke-dasharray="20 14"/>
<ellipse cx="2078" cy="973" rx="31.2" ry="11.9" stroke-width="4.8" fill="#fff"/>
<ellipse cx="2078" cy="974" rx="21.9" ry="7.8" stroke-width="2.8"/>
<ellipse cx="2078" cy="973.5" rx="11.9" ry="4.7" fill="#0d0d0d"/>
<path d="M2069.5 938.8L2069.5 966.2L2084.5 966.2L2084.5 938.8Z" stroke-width="4.2" fill="#fff"/>
<ellipse cx="2077" cy="938.8" rx="7.5" ry="3.5" stroke-width="4.2" fill="#fff"/>
<path d="M2054.5 956.2C2054.8 954.5 2060.6 949.2 2062 948.8C2063.4 948.2 2067.8 949.2 2068.5 951.2C2069.2 953.2 2069.4 967.2 2068.5 968.8C2067.6 970.2 2060.9 967.5 2059.5 966.2C2058.1 965 2054.2 958 2054.5 956.2Z" stroke-width="2" fill="#0d0d0d"/>
<ellipse cx="1978.8" cy="1047" rx="38" ry="16.4" stroke-width="4.6" fill="#fff"/>
<path d="M1946.2 1012.5C1939.7 1014.2 1945.5 1026.3 1945.3 1029.8C1945.1 1033.2 1943.6 1044.5 1944.3 1047C1945 1049.5 1949.3 1054 1952.8 1055.1C1956.2 1056.3 1973.5 1058.7 1978.8 1058.7C1984 1058.7 2001.3 1056.3 2004.8 1055.1C2008.2 1054 2012.5 1049.5 2013.2 1047C2013.9 1044.5 2012.4 1033.2 2012.2 1029.8C2012 1026.3 2017.8 1014.2 2011.2 1012.5C2004.7 1010.8 1952.8 1010.8 1946.2 1012.5Z" fill="#fff"/>
<path d="M1946.2 1012.5C1946.1 1015.4 1945.7 1024 1945.3 1029.8C1944.9 1035.5 1944.2 1044.1 1944 1047" stroke-width="4.5"/>
<path d="M2011.2 1012.5C2011.4 1015.4 2011.8 1024 2012.2 1029.8C2012.6 1035.5 2013.3 1044.1 2013.5 1047" stroke-width="4.5"/>
<path d="M2011.2 1020.6C2011.1 1021 2010.8 1022.5 2010.2 1023.4C2009.6 1024.3 2008.7 1025.2 2007.7 1026C2006.6 1026.9 2005.3 1027.7 2003.8 1028.4C2002.2 1029.1 2000.5 1029.8 1998.6 1030.4C1996.8 1031 1994.7 1031.5 1992.6 1031.9C1990.4 1032.3 1988.1 1032.6 1985.8 1032.8C1983.5 1033 1981.1 1033.1 1978.8 1033.1C1976.4 1033.1 1974 1033 1971.7 1032.8C1969.4 1032.6 1967.1 1032.3 1964.9 1031.9C1962.8 1031.5 1960.7 1031 1958.9 1030.4C1957 1029.8 1955.3 1029.1 1953.7 1028.4C1952.2 1027.7 1950.9 1026.9 1949.8 1026C1948.8 1025.2 1947.9 1024.3 1947.3 1023.4C1946.7 1022.5 1946.4 1021 1946.3 1020.6" stroke-width="4.8"/>
<path d="M2006.1 1022.5C2005.6 1022.8 2004.4 1023.6 2003.4 1024.1C2002.4 1024.5 2001.3 1025 2000.2 1025.4C1999 1025.8 1997.8 1026.2 1996.5 1026.6C1995.2 1026.9 1993.8 1027.2 1992.4 1027.5C1991 1027.7 1989.5 1028 1988 1028.2C1986.5 1028.3 1985 1028.5 1983.4 1028.6C1981.9 1028.7 1980.3 1028.7 1978.8 1028.7C1977.2 1028.7 1975.6 1028.7 1974.1 1028.6C1972.5 1028.5 1971 1028.3 1969.5 1028.2C1968 1028 1966.5 1027.7 1965.1 1027.5C1963.7 1027.2 1962.3 1026.9 1961 1026.6C1959.7 1026.2 1958.5 1025.8 1957.3 1025.4C1956.2 1025 1955.1 1024.5 1954.1 1024.1C1953.1 1023.6 1951.9 1022.8 1951.4 1022.5" stroke-width="2.2" stroke-dasharray="20 14"/>
<path d="M2012.4 1032.1C2012.2 1032.5 2011.9 1034 2011.3 1034.9C2010.7 1035.8 2009.8 1036.7 2008.7 1037.5C2007.6 1038.4 2006.2 1039.2 2004.6 1039.9C2003.1 1040.6 2001.3 1041.3 1999.3 1041.9C1997.4 1042.5 1995.3 1043 1993 1043.4C1990.8 1043.8 1988.5 1044.1 1986.1 1044.3C1983.7 1044.5 1981.2 1044.6 1978.8 1044.6C1976.3 1044.6 1973.8 1044.5 1971.4 1044.3C1969 1044.1 1966.7 1043.8 1964.5 1043.4C1962.2 1043 1960.1 1042.5 1958.2 1041.9C1956.2 1041.3 1954.4 1040.6 1952.9 1039.9C1951.3 1039.2 1949.9 1038.4 1948.8 1037.5C1947.7 1036.7 1946.8 1035.8 1946.2 1034.9C1945.6 1034 1945.3 1032.5 1945.1 1032.1" stroke-width="4.8"/>
<path d="M2007 1034C2006.5 1034.3 2005.3 1035.1 2004.3 1035.6C2003.2 1036 2002.1 1036.5 2000.9 1036.9C1999.8 1037.3 1998.5 1037.7 1997.1 1038.1C1995.8 1038.4 1994.4 1038.7 1992.9 1039C1991.4 1039.2 1989.9 1039.5 1988.4 1039.7C1986.8 1039.8 1985.2 1040 1983.6 1040.1C1982 1040.2 1980.4 1040.2 1978.8 1040.2C1977.1 1040.2 1975.5 1040.2 1973.9 1040.1C1972.3 1040 1970.7 1039.8 1969.1 1039.7C1967.6 1039.5 1966.1 1039.2 1964.6 1039C1963.1 1038.7 1961.7 1038.4 1960.4 1038.1C1959 1037.7 1957.7 1037.3 1956.6 1036.9C1955.4 1036.5 1954.3 1036 1953.2 1035.6C1952.2 1035.1 1951 1034.3 1950.5 1034" stroke-width="2.2" stroke-dasharray="20 14"/>
<path d="M2013.5 1043.6C2013.3 1044 2013 1045.5 2012.4 1046.4C2011.8 1047.3 2010.8 1048.2 2009.7 1049C2008.5 1049.9 2007.1 1050.7 2005.5 1051.4C2003.9 1052.1 2002 1052.8 2000 1053.4C1998 1054 1995.8 1054.5 1993.5 1054.9C1991.2 1055.3 1988.8 1055.6 1986.3 1055.8C1983.9 1056 1981.3 1056.1 1978.8 1056.1C1976.2 1056.1 1973.6 1056 1971.2 1055.8C1968.7 1055.6 1966.3 1055.3 1964 1054.9C1961.7 1054.5 1959.5 1054 1957.5 1053.4C1955.5 1052.8 1953.6 1052.1 1952 1051.4C1950.4 1050.7 1949 1049.9 1947.8 1049C1946.7 1048.2 1945.7 1047.3 1945.1 1046.4C1944.5 1045.5 1944.2 1044 1944 1043.6" stroke-width="4.8"/>
<path d="M2008 1045.5C2007.5 1045.8 2006.2 1046.6 2005.1 1047.1C2004.1 1047.5 2002.9 1048 2001.7 1048.4C2000.5 1048.8 1999.1 1049.2 1997.8 1049.6C1996.4 1049.9 1994.9 1050.2 1993.4 1050.5C1991.9 1050.7 1990.3 1051 1988.7 1051.2C1987.1 1051.3 1985.4 1051.5 1983.8 1051.6C1982.1 1051.7 1980.4 1051.7 1978.8 1051.7C1977.1 1051.7 1975.4 1051.7 1973.7 1051.6C1972.1 1051.5 1970.4 1051.3 1968.8 1051.2C1967.2 1051 1965.6 1050.7 1964.1 1050.5C1962.6 1050.2 1961.1 1049.9 1959.7 1049.6C1958.4 1049.2 1957 1048.8 1955.8 1048.4C1954.6 1048 1953.4 1047.5 1952.4 1047.1C1951.3 1046.6 1950 1045.8 1949.5 1045.5" stroke-width="2.2" stroke-dasharray="20 14"/>
<ellipse cx="1978.8" cy="1012.5" rx="32.5" ry="12.3" stroke-width="4.8" fill="#fff"/>
<ellipse cx="1978.8" cy="1013.5" rx="22.8" ry="8.1" stroke-width="2.8"/>
<ellipse cx="1978.8" cy="1013" rx="12.3" ry="4.9" fill="#0d0d0d"/>
<path d="M1970 977L1970 1004.5L1986 1004.5L1986 977Z" stroke-width="4.2" fill="#fff"/>
<ellipse cx="1978" cy="977" rx="8" ry="3.5" stroke-width="4.2" fill="#fff"/>
<path d="M1955 994.5C1955.2 992.8 1961.1 987.5 1962.5 987C1963.9 986.5 1968.3 987.5 1969 989.5C1969.7 991.5 1969.9 1005.5 1969 1007C1968.1 1008.5 1961.4 1005.8 1960 1004.5C1958.6 1003.2 1954.8 996.2 1955 994.5Z" stroke-width="2" fill="#0d0d0d"/>
<ellipse cx="2160" cy="1057" rx="38" ry="16.4" stroke-width="4.6" fill="#fff"/>
<path d="M2127.5 1019.5C2120.9 1021.4 2126.7 1034.5 2126.5 1038.2C2126.3 1042 2124.8 1054.3 2125.6 1057C2126.3 1059.7 2130.6 1064 2134 1065.1C2137.4 1066.3 2154.8 1068.7 2160 1068.7C2165.2 1068.7 2182.6 1066.3 2186 1065.1C2189.4 1064 2193.7 1059.7 2194.4 1057C2195.2 1054.3 2193.7 1042 2193.5 1038.2C2193.3 1034.5 2199.1 1021.4 2192.5 1019.5C2185.9 1017.6 2134.1 1017.6 2127.5 1019.5Z" fill="#fff"/>
<path d="M2127.5 1019.5C2127.3 1022.6 2126.9 1032 2126.5 1038.2C2126.1 1044.5 2125.4 1053.9 2125.2 1057" stroke-width="4.5"/>
<path d="M2192.5 1019.5C2192.7 1022.6 2193.1 1032 2193.5 1038.2C2193.9 1044.5 2194.6 1053.9 2194.8 1057" stroke-width="4.5"/>
<path d="M2192.5 1028.6C2192.3 1029 2192 1030.5 2191.5 1031.4C2190.9 1032.3 2190 1033.2 2188.9 1034C2187.8 1034.9 2186.5 1035.7 2185 1036.4C2183.5 1037.1 2181.7 1037.8 2179.9 1038.4C2178 1039 2175.9 1039.5 2173.8 1039.9C2171.7 1040.3 2169.4 1040.6 2167.1 1040.8C2164.8 1041 2162.4 1041.1 2160 1041.1C2157.6 1041.1 2155.2 1041 2152.9 1040.8C2150.6 1040.6 2148.3 1040.3 2146.2 1039.9C2144.1 1039.5 2142 1039 2140.1 1038.4C2138.3 1037.8 2136.5 1037.1 2135 1036.4C2133.5 1035.7 2132.2 1034.9 2131.1 1034C2130 1033.2 2129.1 1032.3 2128.5 1031.4C2128 1030.5 2127.7 1029 2127.5 1028.6" stroke-width="4.8"/>
<path d="M2187.3 1030.5C2186.9 1030.8 2185.6 1031.6 2184.6 1032.1C2183.7 1032.5 2182.6 1033 2181.4 1033.4C2180.3 1033.8 2179.1 1034.2 2177.8 1034.6C2176.5 1034.9 2175.1 1035.2 2173.7 1035.5C2172.3 1035.7 2170.8 1036 2169.3 1036.2C2167.8 1036.3 2166.2 1036.5 2164.7 1036.6C2163.1 1036.7 2161.6 1036.7 2160 1036.7C2158.4 1036.7 2156.9 1036.7 2155.3 1036.6C2153.8 1036.5 2152.2 1036.3 2150.7 1036.2C2149.2 1036 2147.7 1035.7 2146.3 1035.5C2144.9 1035.2 2143.5 1034.9 2142.2 1034.6C2140.9 1034.2 2139.7 1033.8 2138.6 1033.4C2137.4 1033 2136.3 1032.5 2135.4 1032.1C2134.4 1031.6 2133.1 1030.8 2132.7 1030.5" stroke-width="2.2" stroke-dasharray="20 14"/>
<path d="M2193.6 1041.1C2193.4 1041.5 2193.2 1043 2192.6 1043.9C2191.9 1044.8 2191 1045.7 2189.9 1046.5C2188.8 1047.4 2187.4 1048.2 2185.9 1048.9C2184.3 1049.6 2182.5 1050.3 2180.6 1050.9C2178.6 1051.5 2176.5 1052 2174.3 1052.4C2172.1 1052.8 2169.7 1053.1 2167.3 1053.3C2164.9 1053.5 2162.4 1053.6 2160 1053.6C2157.6 1053.6 2155.1 1053.5 2152.7 1053.3C2150.3 1053.1 2147.9 1052.8 2145.7 1052.4C2143.5 1052 2141.4 1051.5 2139.4 1050.9C2137.5 1050.3 2135.7 1049.6 2134.1 1048.9C2132.6 1048.2 2131.2 1047.4 2130.1 1046.5C2129 1045.7 2128.1 1044.8 2127.4 1043.9C2126.8 1043 2126.6 1041.5 2126.4 1041.1" stroke-width="4.8"/>
<path d="M2188.3 1043C2187.8 1043.3 2186.5 1044.1 2185.5 1044.6C2184.5 1045 2183.4 1045.5 2182.2 1045.9C2181 1046.3 2179.7 1046.7 2178.4 1047.1C2177 1047.4 2175.6 1047.7 2174.2 1048C2172.7 1048.2 2171.2 1048.5 2169.6 1048.7C2168.1 1048.8 2166.5 1049 2164.9 1049.1C2163.3 1049.2 2161.6 1049.2 2160 1049.2C2158.4 1049.2 2156.7 1049.2 2155.1 1049.1C2153.5 1049 2151.9 1048.8 2150.4 1048.7C2148.8 1048.5 2147.3 1048.2 2145.8 1048C2144.4 1047.7 2143 1047.4 2141.6 1047.1C2140.3 1046.7 2139 1046.3 2137.8 1045.9C2136.6 1045.5 2135.5 1045 2134.5 1044.6C2133.5 1044.1 2132.2 1043.3 2131.7 1043" stroke-width="2.2" stroke-dasharray="20 14"/>
<path d="M2194.8 1053.6C2194.6 1054 2194.3 1055.5 2193.7 1056.4C2193 1057.3 2192.1 1058.2 2190.9 1059C2189.8 1059.9 2188.4 1060.7 2186.8 1061.4C2185.1 1062.1 2183.3 1062.8 2181.3 1063.4C2179.3 1064 2177.1 1064.5 2174.8 1064.9C2172.5 1065.3 2170 1065.6 2167.6 1065.8C2165.1 1066 2162.5 1066.1 2160 1066.1C2157.5 1066.1 2154.9 1066 2152.4 1065.8C2150 1065.6 2147.5 1065.3 2145.2 1064.9C2142.9 1064.5 2140.7 1064 2138.7 1063.4C2136.7 1062.8 2134.9 1062.1 2133.2 1061.4C2131.6 1060.7 2130.2 1059.9 2129.1 1059C2127.9 1058.2 2127 1057.3 2126.3 1056.4C2125.7 1055.5 2125.4 1054 2125.2 1053.6" stroke-width="4.8"/>
<path d="M2189.2 1055.5C2188.7 1055.8 2187.4 1056.6 2186.4 1057.1C2185.3 1057.5 2184.2 1058 2182.9 1058.4C2181.7 1058.8 2180.4 1059.2 2179 1059.6C2177.6 1059.9 2176.1 1060.2 2174.6 1060.5C2173.1 1060.7 2171.5 1061 2169.9 1061.2C2168.3 1061.3 2166.7 1061.5 2165 1061.6C2163.4 1061.7 2161.7 1061.7 2160 1061.7C2158.3 1061.7 2156.6 1061.7 2155 1061.6C2153.3 1061.5 2151.7 1061.3 2150.1 1061.2C2148.5 1061 2146.9 1060.7 2145.4 1060.5C2143.9 1060.2 2142.4 1059.9 2141 1059.6C2139.6 1059.2 2138.3 1058.8 2137.1 1058.4C2135.8 1058 2134.7 1057.5 2133.6 1057.1C2132.6 1056.6 2131.3 1055.8 2130.8 1055.5" stroke-width="2.2" stroke-dasharray="20 14"/>
<ellipse cx="2160" cy="1019.5" rx="32.5" ry="12.3" stroke-width="4.8" fill="#fff"/>
<ellipse cx="2160" cy="1020.5" rx="22.8" ry="8.1" stroke-width="2.8"/>
<ellipse cx="2160" cy="1020" rx="12.3" ry="4.9" fill="#0d0d0d"/>
<path d="M2151.8 899.8L2152.8 1016.2L2165.2 1016.2L2166.2 899.8Z" stroke-width="4.2" fill="#fff"/>
<path d="M2149.8 1001.2C2150.2 1002.9 2152.8 1008.5 2152.2 1011.2C2151.7 1014 2147.2 1016.7 2146.2 1017.8" stroke-width="4"/>
<path d="M2167.8 1001.2C2167.4 1002.9 2165.1 1008.5 2165.8 1011.2C2166.4 1014 2170.8 1016.7 2171.8 1017.8" stroke-width="4"/>
<path d="M2148 888.2C2148 889.2 2147.7 896.5 2148 897.8C2148.3 899 2149.9 900.8 2151 901.2C2152.1 901.8 2157.4 902.8 2159 902.8C2160.6 902.8 2165.9 901.8 2167 901.2C2168.1 900.8 2169.7 899 2170 897.8C2170.3 896.5 2170 889.2 2170 888.2" stroke-width="4.2" fill="#fff"/>
<ellipse cx="2159" cy="888.2" rx="11" ry="5" stroke-width="4.2" fill="#fff"/>
<path d="M2150 896.8C2151.5 897.1 2156 898.8 2159 898.8C2162 898.8 2166.5 897.1 2168 896.8" stroke-width="2.5" stroke="#999"/>
<ellipse cx="2061.2" cy="1092.5" rx="38" ry="16.4" stroke-width="4.6" fill="#fff"/>
<path d="M2028.8 1057C2022.2 1058.8 2028 1071.2 2027.8 1074.8C2027.6 1078.3 2026.1 1089.9 2026.8 1092.5C2027.5 1095.1 2031.8 1099.5 2035.2 1100.6C2038.7 1101.8 2056.1 1104.2 2061.2 1104.2C2066.4 1104.2 2083.8 1101.8 2087.2 1100.6C2090.7 1099.5 2095 1095.1 2095.7 1092.5C2096.4 1089.9 2094.9 1078.3 2094.7 1074.8C2094.5 1071.2 2100.3 1058.8 2093.8 1057C2087.2 1055.2 2035.3 1055.2 2028.8 1057Z" fill="#fff"/>
<path d="M2028.8 1057C2028.6 1060 2028.2 1068.8 2027.8 1074.8C2027.4 1080.7 2026.7 1089.5 2026.5 1092.5" stroke-width="4.5"/>
<path d="M2093.8 1057C2093.9 1060 2094.3 1068.8 2094.7 1074.8C2095.1 1080.7 2095.8 1089.5 2096 1092.5" stroke-width="4.5"/>
<path d="M2093.7 1065.4C2093.6 1065.9 2093.3 1067.3 2092.7 1068.2C2092.1 1069.1 2091.2 1070 2090.2 1070.9C2089.1 1071.7 2087.8 1072.5 2086.3 1073.2C2084.7 1074 2083 1074.6 2081.1 1075.2C2079.3 1075.8 2077.2 1076.3 2075.1 1076.7C2072.9 1077.1 2070.6 1077.4 2068.3 1077.6C2066 1077.8 2063.6 1077.9 2061.2 1077.9C2058.9 1077.9 2056.5 1077.8 2054.2 1077.6C2051.9 1077.4 2049.6 1077.1 2047.4 1076.7C2045.3 1076.3 2043.2 1075.8 2041.4 1075.2C2039.5 1074.6 2037.8 1074 2036.2 1073.2C2034.7 1072.5 2033.4 1071.7 2032.3 1070.9C2031.3 1070 2030.4 1069.1 2029.8 1068.2C2029.2 1067.3 2028.9 1065.9 2028.8 1065.4" stroke-width="4.8"/>
<path d="M2088.6 1067.4C2088.1 1067.6 2086.9 1068.4 2085.9 1068.9C2084.9 1069.4 2083.8 1069.8 2082.7 1070.2C2081.5 1070.7 2080.3 1071 2079 1071.4C2077.7 1071.7 2076.3 1072 2074.9 1072.3C2073.5 1072.6 2072 1072.8 2070.5 1073C2069 1073.2 2067.5 1073.3 2065.9 1073.4C2064.4 1073.5 2062.8 1073.5 2061.2 1073.5C2059.7 1073.5 2058.1 1073.5 2056.6 1073.4C2055 1073.3 2053.5 1073.2 2052 1073C2050.5 1072.8 2049 1072.6 2047.6 1072.3C2046.2 1072 2044.8 1071.7 2043.5 1071.4C2042.2 1071 2041 1070.7 2039.8 1070.2C2038.7 1069.8 2037.6 1069.4 2036.6 1068.9C2035.6 1068.4 2034.4 1067.6 2033.9 1067.4" stroke-width="2.2" stroke-dasharray="20 14"/>
<path d="M2094.9 1077.2C2094.7 1077.7 2094.4 1079.1 2093.8 1080C2093.2 1081 2092.3 1081.9 2091.2 1082.7C2090.1 1083.5 2088.7 1084.3 2087.1 1085.1C2085.6 1085.8 2083.8 1086.5 2081.8 1087.1C2079.9 1087.6 2077.8 1088.1 2075.5 1088.5C2073.3 1088.9 2071 1089.2 2068.6 1089.5C2066.2 1089.7 2063.7 1089.8 2061.2 1089.8C2058.8 1089.8 2056.3 1089.7 2053.9 1089.5C2051.5 1089.2 2049.2 1088.9 2047 1088.5C2044.7 1088.1 2042.6 1087.6 2040.7 1087.1C2038.7 1086.5 2036.9 1085.8 2035.4 1085.1C2033.8 1084.3 2032.4 1083.5 2031.3 1082.7C2030.2 1081.9 2029.3 1081 2028.7 1080C2028.1 1079.1 2027.8 1077.7 2027.6 1077.2" stroke-width="4.8"/>
<path d="M2089.5 1079.2C2089 1079.4 2087.8 1080.2 2086.8 1080.7C2085.7 1081.2 2084.6 1081.7 2083.4 1082.1C2082.3 1082.5 2081 1082.9 2079.6 1083.2C2078.3 1083.6 2076.9 1083.9 2075.4 1084.1C2073.9 1084.4 2072.4 1084.6 2070.9 1084.8C2069.3 1085 2067.7 1085.1 2066.1 1085.2C2064.5 1085.3 2062.9 1085.4 2061.2 1085.4C2059.6 1085.4 2058 1085.3 2056.4 1085.2C2054.8 1085.1 2053.2 1085 2051.6 1084.8C2050.1 1084.6 2048.6 1084.4 2047.1 1084.1C2045.6 1083.9 2044.2 1083.6 2042.9 1083.2C2041.5 1082.9 2040.2 1082.5 2039.1 1082.1C2037.9 1081.7 2036.8 1081.2 2035.7 1080.7C2034.7 1080.2 2033.5 1079.4 2033 1079.2" stroke-width="2.2" stroke-dasharray="20 14"/>
<path d="M2096 1089.1C2095.8 1089.5 2095.5 1091 2094.9 1091.9C2094.3 1092.8 2093.3 1093.7 2092.2 1094.5C2091 1095.4 2089.6 1096.2 2088 1096.9C2086.4 1097.6 2084.5 1098.3 2082.5 1098.9C2080.5 1099.5 2078.3 1100 2076 1100.4C2073.7 1100.8 2071.3 1101.1 2068.8 1101.3C2066.4 1101.5 2063.8 1101.6 2061.2 1101.6C2058.7 1101.6 2056.1 1101.5 2053.7 1101.3C2051.2 1101.1 2048.8 1100.8 2046.5 1100.4C2044.2 1100 2042 1099.5 2040 1098.9C2038 1098.3 2036.1 1097.6 2034.5 1096.9C2032.9 1096.2 2031.5 1095.4 2030.3 1094.5C2029.2 1093.7 2028.2 1092.8 2027.6 1091.9C2027 1091 2026.7 1089.5 2026.5 1089.1" stroke-width="4.8"/>
<path d="M2090.5 1091C2090 1091.3 2088.7 1092.1 2087.6 1092.6C2086.6 1093 2085.4 1093.5 2084.2 1093.9C2083 1094.3 2081.6 1094.7 2080.3 1095.1C2078.9 1095.4 2077.4 1095.7 2075.9 1096C2074.4 1096.2 2072.8 1096.5 2071.2 1096.7C2069.6 1096.8 2067.9 1097 2066.3 1097.1C2064.6 1097.2 2062.9 1097.2 2061.2 1097.2C2059.6 1097.2 2057.9 1097.2 2056.2 1097.1C2054.6 1097 2052.9 1096.8 2051.3 1096.7C2049.7 1096.5 2048.1 1096.2 2046.6 1096C2045.1 1095.7 2043.6 1095.4 2042.2 1095.1C2040.9 1094.7 2039.5 1094.3 2038.3 1093.9C2037.1 1093.5 2035.9 1093 2034.9 1092.6C2033.8 1092.1 2032.5 1091.3 2032 1091" stroke-width="2.2" stroke-dasharray="20 14"/>
<ellipse cx="2061.2" cy="1057" rx="32.5" ry="12.3" stroke-width="4.8" fill="#fff"/>
<ellipse cx="2061.2" cy="1058" rx="22.8" ry="8.1" stroke-width="2.8"/>
<ellipse cx="2061.2" cy="1057.5" rx="12.3" ry="4.9" fill="#0d0d0d"/>
<path d="M2053.2 937.2L2054.2 1052.5L2066.8 1052.5L2067.8 937.2Z" stroke-width="4.2" fill="#fff"/>
<path d="M2051.2 1037.5C2051.7 1039.2 2054.3 1044.8 2053.8 1047.5C2053.2 1050.2 2048.8 1052.9 2047.8 1054" stroke-width="4"/>
<path d="M2069.2 1037.5C2068.9 1039.2 2066.6 1044.8 2067.2 1047.5C2067.9 1050.2 2072.2 1052.9 2073.2 1054" stroke-width="4"/>
<path d="M2049.5 925.8C2049.5 926.7 2049.2 934 2049.5 935.2C2049.8 936.5 2051.4 938.2 2052.5 938.8C2053.6 939.2 2058.9 940.2 2060.5 940.2C2062.1 940.2 2067.4 939.2 2068.5 938.8C2069.6 938.2 2071.2 936.5 2071.5 935.2C2071.8 934 2071.5 926.7 2071.5 925.8" stroke-width="4.2" fill="#fff"/>
<ellipse cx="2060.5" cy="925.8" rx="11" ry="5" stroke-width="4.2" fill="#fff"/>
<path d="M2051.5 934.2C2053 934.6 2057.5 936.2 2060.5 936.2C2063.5 936.2 2068 934.6 2069.5 934.2" stroke-width="2.5" stroke="#999"/>
<path d="M1843 1097.5C1843 1102.7 1843.7 1162.8 1843.8 1175C1843.8 1187.2 1844 1272.6 1843.8 1280C1843.5 1287.4 1840.9 1285.7 1840 1286.2C1839.1 1286.8 1830.8 1287.4 1830 1288C1829.2 1288.6 1827.6 1293.9 1827.5 1295C1827.4 1296.1 1828.4 1303.8 1828.8 1305C1829.1 1306.2 1829.4 1310.3 1832.5 1312.5C1835.6 1314.7 1868.8 1333.8 1875 1337.5C1881.2 1341.2 1919.7 1364.2 1925 1367.5C1930.3 1370.8 1952 1386 1955 1387.5C1958 1389 1968 1390.7 1970 1390.5C1972 1390.3 1983 1385.4 1985 1385C1987 1384.6 1994.8 1384.4 2000 1384.5C2005.2 1384.6 2058.3 1386.1 2062.5 1386.2" stroke-width="4.5"/>
<path d="M2062.5 1386.2L2062.5 1406.2L2085 1416.2L2095 1412.5" stroke-width="4.5"/>
<path d="M2095 1412.5C2098.7 1413.3 2143.8 1423.5 2150 1425C2156.2 1426.5 2184.2 1434.1 2187.5 1435C2190.8 1435.9 2198.3 1438.8 2200 1439C2201.7 1439.2 2207.5 1439.1 2212.5 1437.5C2217.5 1435.9 2267.5 1418 2275 1415C2282.5 1412 2319.7 1395.2 2325 1392.5C2330.3 1389.8 2352.6 1376.8 2355 1375C2357.4 1373.2 2361 1366.7 2361.5 1365C2362 1363.3 2362.4 1357.7 2362.5 1350C2362.6 1342.3 2362.5 1263.3 2362.5 1250C2362.5 1236.7 2362.5 1156.7 2362.5 1150" stroke-width="4.5"/>
<path d="M1830 1288C1831.2 1287.3 1835.2 1285.1 1837.5 1283.8C1839.8 1282.4 1842.7 1280.6 1843.8 1280"/>
<path d="M1860 1111.2C1862.2 1109 1890.1 1123.6 1892.5 1125C1894.9 1126.4 1896.2 1129.7 1896.5 1132.5C1896.8 1135.3 1896.8 1164.9 1896.5 1167.5C1896.2 1170.1 1894.9 1171.9 1892.5 1171.2C1890.1 1170.6 1862.2 1162 1860 1158C1857.8 1154 1857.8 1113.5 1860 1111.2Z" stroke-width="3.6" fill="#fff"/>
<path d="M1860 1111.2C1860.8 1110 1883 1120.7 1883.8 1122C1884.5 1123.3 1884 1150 1883.8 1151.2C1883.5 1152.5 1875.8 1157.8 1875 1158C1874.2 1158.2 1860.5 1159.6 1860 1158C1859.5 1156.4 1859.2 1112.5 1860 1111.2Z" stroke-width="1.5" fill="#0d0d0d"/>
<path d="M1883.8 1127.5L1892.5 1131.2L1893 1167.5"/>
<path d="M1860 1170C1862.1 1169.3 1888.8 1182.9 1891.2 1184.5C1893.7 1186.1 1896.2 1192.8 1896.5 1194.5C1896.8 1196.2 1898.9 1210 1896.5 1210C1894.1 1210 1862.4 1197.7 1860 1195C1857.6 1192.3 1857.9 1170.7 1860 1170Z" stroke-width="3.6" fill="#fff"/>
<path d="M1860 1170C1860.9 1169.7 1887 1182.2 1887.5 1183C1888 1183.8 1875.9 1194.2 1875 1194.5C1874.1 1194.8 1860.5 1193.3 1860 1192.5C1859.5 1191.7 1859.1 1170.3 1860 1170Z" stroke-width="1.5" fill="#0d0d0d"/>
<path d="M1860 1206.2C1862.2 1204.6 1890.1 1218.6 1892.5 1220C1894.9 1221.4 1896.2 1225.2 1896.5 1227.5C1896.8 1229.8 1896.8 1253 1896.5 1255C1896.2 1257 1894.9 1258.7 1892.5 1258C1890.1 1257.3 1862.2 1248.5 1860 1245C1857.8 1241.5 1857.8 1207.9 1860 1206.2Z" stroke-width="3.6" fill="#fff"/>
<path d="M1860 1206.2C1860.9 1205.5 1886.6 1217.2 1887.5 1218C1888.4 1218.8 1887.9 1229.3 1887.5 1230C1887.1 1230.7 1875.9 1237.2 1875 1237.5C1874.1 1237.8 1860.5 1241 1860 1240C1859.5 1239 1859.1 1207 1860 1206.2Z" stroke-width="1.5" fill="#0d0d0d"/>
<path d="M1860 1253.8C1862.3 1250.7 1892.5 1268.2 1895 1270C1897.5 1271.8 1897.3 1276 1897.5 1280C1897.7 1284 1897.8 1326.5 1897.5 1330C1897.2 1333.5 1895 1333.5 1892.5 1332.5C1890 1331.5 1862.2 1320.8 1860 1315.5C1857.8 1310.2 1857.7 1256.8 1860 1253.8Z" stroke-width="3.6" fill="#fff"/>
<path d="M1860 1253.8C1861.2 1252.2 1893.8 1269.1 1895 1270C1896.2 1270.9 1896.9 1279.9 1896.2 1280C1895.6 1280.1 1876.9 1271.3 1876.2 1272.5C1875.6 1273.7 1876.8 1313.6 1876.2 1315C1875.7 1316.4 1860.5 1317.5 1860 1315.5C1859.5 1313.5 1858.8 1255.3 1860 1253.8Z" stroke-width="1.5" fill="#0d0d0d"/>
<ellipse cx="1885.5" cy="1300" rx="10.5" ry="13" stroke-width="4"/>
<path d="M1876.2 1292.5C1878.1 1292.1 1884.2 1289.6 1887.5 1290C1890.8 1290.4 1894.8 1294.2 1896.2 1295" stroke-width="4"/>
<path d="M1907.5 1138.8C1909.7 1136.5 1937.5 1152.2 1940 1153.8C1942.5 1155.3 1944.7 1159.4 1945 1162.5C1945.3 1165.6 1945.3 1197.3 1945 1200C1944.7 1202.7 1942.5 1203.3 1940 1202.5C1937.5 1201.7 1909.7 1191.8 1907.5 1187.5C1905.3 1183.2 1905.3 1141 1907.5 1138.8Z" stroke-width="3.6" fill="#fff"/>
<path d="M1922.5 1148.8C1922.8 1147.8 1932.2 1151.8 1932.5 1153C1932.8 1154.2 1932.8 1185.3 1932.5 1186.2C1932.2 1187.2 1922.8 1183.8 1922.5 1182.5C1922.2 1181.2 1922.2 1149.7 1922.5 1148.8Z" stroke-width="1.5" fill="#0d0d0d"/>
<path d="M1907.5 1138.8C1907.8 1137.3 1917.3 1141.5 1917.5 1143C1917.7 1144.5 1914.1 1181.1 1913.8 1182.5C1913.4 1183.9 1907.7 1186.5 1907.5 1185C1907.3 1183.5 1907.2 1140.2 1907.5 1138.8Z" stroke-width="1.5" fill="#0d0d0d"/>
<ellipse cx="1935" cy="1223" rx="10.5" ry="12.5" stroke-width="4" fill="#0d0d0d"/>
<path d="M1930 1227.5C1930 1225.2 1937.5 1222.1 1940 1222.5C1942.5 1222.9 1945 1227.7 1945 1230C1945 1232.3 1942.5 1236.7 1940 1236.2C1937.5 1235.8 1930 1229.8 1930 1227.5Z" stroke-width="2" fill="#fff"/>
<path d="M1907.5 1235C1909.7 1233.6 1937.5 1248.3 1940 1250C1942.5 1251.7 1944.7 1257.7 1945 1260C1945.3 1262.3 1945.3 1283.2 1945 1285C1944.7 1286.8 1942.5 1288.5 1940 1287.5C1937.5 1286.5 1909.7 1274 1907.5 1270.5C1905.3 1267 1905.3 1236.4 1907.5 1235Z" stroke-width="3.6" fill="#fff"/>
<path d="M1907.5 1235C1908 1234.2 1922 1241.2 1922.5 1242C1923 1242.8 1923 1259.2 1922.5 1260C1922 1260.8 1908 1265.8 1907.5 1265C1907 1264.2 1907 1235.8 1907.5 1235Z" stroke-width="1.5" fill="#0d0d0d"/>
<path d="M1922.5 1260L1942.5 1268"/>
<path d="M1907.5 1282.5C1909.8 1279.6 1939.9 1298.2 1942.5 1300C1945.1 1301.8 1946 1306 1946.2 1310C1946.5 1314 1946.7 1356.6 1946.2 1360C1945.8 1363.4 1942.6 1362.4 1940 1361.2C1937.4 1360.1 1909.7 1348.2 1907.5 1343C1905.3 1337.8 1905.2 1285.4 1907.5 1282.5Z" stroke-width="3.6" fill="#fff"/>
<path d="M1907.5 1282.5C1908.7 1281.1 1941.3 1299.1 1942.5 1300C1943.7 1300.9 1944.5 1308.8 1943.8 1308.8C1943 1308.7 1920.8 1296.5 1920 1297.5C1919.2 1298.5 1920.4 1338.5 1920 1340C1919.6 1341.5 1907.9 1344.9 1907.5 1343C1907.1 1341.1 1906.3 1283.9 1907.5 1282.5Z" stroke-width="1.5" fill="#0d0d0d"/>
<ellipse cx="1932.5" cy="1327.5" rx="11.5" ry="14" stroke-width="4"/>
<path d="M1910 1347.5C1912.5 1347.9 1920 1349.6 1925 1350C1930 1350.4 1937.5 1350 1940 1350"/>
<ellipse cx="1902" cy="1182.5" rx="4" ry="4" stroke-width="3.5"/>
<path d="M1957 1170L1957 1225" stroke-width="4"/>
<path d="M1957 1270L1957 1375" stroke-width="4"/>
<path d="M1958 1175C1958.3 1174.2 1957.2 1171.5 1960 1170C1962.8 1168.5 1968.3 1166.8 1975 1166.2C1981.7 1165.7 1995.8 1166.5 2000 1166.5" stroke-width="7"/>
<path d="M1988 1172.5C1987.7 1175 1986.8 1182.1 1986.2 1187.5C1985.8 1192.9 1985.2 1202.1 1985 1205" stroke-width="5"/>
<path d="M1982.5 1217.5C1985.4 1218.8 1992.9 1221.2 2000 1225C2007.1 1228.8 2016.7 1235.6 2025 1240C2033.3 1244.4 2041.7 1248.5 2050 1251.2C2058.3 1254 2066.7 1255.6 2075 1256.2C2083.3 1256.9 2090 1256.1 2100 1255C2110 1253.9 2129.2 1250.4 2135 1249.5" stroke-width="6.5"/>
<path d="M2070 1212C2072.9 1211 2080.4 1206.4 2087.5 1206.2C2094.6 1206.1 2102.1 1208.5 2112.5 1211.2C2122.9 1214 2138.8 1220 2150 1222.5C2161.2 1225 2169.2 1227.1 2180 1226.2C2190.8 1225.4 2209.2 1219 2215 1217.5" stroke-width="6.5"/>
<path d="M1997.5 1230L2000 1340"/>
<path d="M2001.5 1240L2003 1335" stroke-width="2"/>
<path d="M2050 1192.5L2050 1237.5" stroke-width="3.6"/>
<path d="M2068.8 1260L2068.8 1372.5" stroke-dasharray="34 10"/>
<path d="M2103.8 1257.5L2110 1382.5" stroke-width="6"/>
<path d="M2125 1220L2125 1235"/>
<path d="M2023.8 1360C2023.9 1354.2 2022.6 1333.1 2024.5 1325C2026.4 1316.9 2030.8 1314.1 2035 1311.2C2039.2 1308.4 2045.2 1307.8 2050 1308C2054.8 1308.2 2061.5 1311.8 2063.8 1312.5" stroke-width="3.4"/>
<ellipse cx="2046.2" cy="1332.5" rx="17" ry="15.5" stroke-width="7"/>
<ellipse cx="2046.2" cy="1335" rx="10" ry="7.5" stroke-width="4"/>
<path d="M1985 1370L2000 1358L2015 1357.5" stroke-width="3.4"/>
<path d="M1992.5 1370L2015 1370" stroke-width="3.4"/>
<path d="M2027.5 1361.2L2062.5 1361.2" stroke-width="3.4"/>
<path d="M2027.5 1370L2065 1370" stroke-width="3.4"/>
<path d="M2062.5 1382.5C2064 1381.5 2075.4 1374.8 2077.5 1373C2079.6 1371.2 2082.8 1367.3 2083.8 1365C2084.8 1362.7 2086.4 1352.1 2087.5 1350C2088.6 1347.9 2093.4 1344.2 2095 1343.8C2096.6 1343.3 2101.8 1344.4 2103 1345.5C2104.2 1346.6 2107 1352 2107.5 1355C2108 1358 2108.2 1372 2108 1375C2107.8 1378 2105.3 1384 2105 1385" stroke-width="4.2"/>
<path d="M2087.5 1365C2088.3 1366.7 2092.1 1371.7 2092.5 1375C2092.9 1378.3 2090.4 1383.3 2090 1385"/>
<path d="M2086.2 1390L2096.2 1390L2096.2 1414.5L2086.2 1415.5Z" stroke-width="2" fill="#0d0d0d"/>
<path d="M2247.5 1191.2C2247.4 1194.1 2247.1 1215.1 2247 1220C2246.9 1224.9 2246.9 1237 2246.2 1240C2245.6 1243 2242.1 1248.8 2240 1250C2237.9 1251.2 2230 1251.9 2225 1252.5C2220 1253.1 2194.5 1255 2190 1256.2C2185.5 1257.5 2181.4 1262.1 2180 1265C2178.6 1267.9 2176.6 1283 2176.2 1285" stroke-width="4"/>
<path d="M2243.8 1192.5L2244.5 1240" stroke-width="2"/>
<path d="M2177.5 1320L2177.5 1412.5" stroke-width="3.6"/>
<path d="M2210 1437.5C2209.2 1437.2 2199.6 1438.3 2198.8 1432.5C2197.9 1426.7 2197.6 1360.5 2197.5 1350C2197.4 1339.5 2197 1280.7 2197.5 1275C2198 1269.3 2203.2 1266.3 2205 1265C2206.8 1263.7 2222.3 1256.2 2225 1255C2227.7 1253.8 2243.7 1248 2245 1247.5" stroke-width="3.6"/>
<path d="M2252.5 1275C2253.1 1269.8 2255.6 1264.4 2257.5 1262.5C2259.4 1260.6 2270.2 1254.3 2275 1252.5C2279.8 1250.7 2311 1241.9 2315 1241.2C2319 1240.6 2321.7 1243.9 2322.5 1245C2323.3 1246.1 2324.8 1250 2325 1255C2325.2 1260 2324.6 1296.7 2324.5 1305C2324.4 1313.3 2324.1 1350 2323.8 1355C2323.4 1360 2324.5 1361.7 2320 1365C2315.5 1368.3 2275.2 1392.5 2270 1395C2264.8 1397.5 2259.1 1395.8 2257.5 1395C2255.9 1394.2 2251.9 1390.8 2251.2 1385C2250.6 1379.2 2249.9 1334.2 2250 1325C2250.1 1315.8 2251.9 1280.2 2252.5 1275Z" stroke-width="6.5" fill="#fff"/>
<path d="M2253 1327.5C2254 1327.2 2314.8 1368.9 2315 1370C2315.2 1371.1 2268.5 1394.7 2267.5 1395C2266.5 1395.3 2253.2 1388.6 2253 1387.5C2252.8 1386.4 2252 1327.8 2253 1327.5Z" stroke-width="2" fill="#0d0d0d"/>
<path d="M2270 1328.8L2307.5 1355" stroke-width="2.6"/>
<path d="M2258.8 1275C2259.1 1274.3 2260.9 1267.7 2262.5 1266.2C2264.1 1264.8 2273.3 1259.5 2277.5 1258C2281.7 1256.5 2309.1 1248.7 2312.5 1248C2315.9 1247.3 2317.4 1249.2 2318 1250C2318.6 1250.8 2319.4 1249 2319.5 1257.5C2319.6 1266 2319 1344.6 2319 1352.5" stroke-width="2"/>
<ellipse cx="2212.5" cy="1280" rx="5" ry="5.5" fill="#0d0d0d"/>
<ellipse cx="2213" cy="1280.5" rx="1.8" ry="1.8" fill="#888"/>
<ellipse cx="2212" cy="1418.8" rx="5" ry="5.5" fill="#0d0d0d"/>
<ellipse cx="2212.5" cy="1419.2" rx="1.8" ry="1.8" fill="#888"/>
<ellipse cx="2345" cy="1364.5" rx="5.5" ry="6.1" fill="#0d0d0d"/>
<ellipse cx="2345.5" cy="1365" rx="1.9" ry="1.9" fill="#888"/>
<ellipse cx="2345" cy="1224.2" rx="5" ry="5.5" fill="#0d0d0d"/>
<ellipse cx="2345.5" cy="1224.8" rx="1.8" ry="1.8" fill="#888"/>
<ellipse cx="2260" cy="1222.5" rx="4.5" ry="5" fill="#0d0d0d"/>
<ellipse cx="2260.5" cy="1223" rx="1.6" ry="1.6" fill="#888"/>
<ellipse cx="2312.5" cy="1192.5" rx="3.8" ry="4.1" fill="#0d0d0d"/>
<ellipse cx="2313" cy="1193" rx="1.3" ry="1.3" fill="#888"/>
<ellipse cx="2286.2" cy="1207" rx="15.5" ry="20" transform="rotate(25 2286.2 1207)" stroke-width="5.5" fill="#fff"/>
<path d="M2276.2 1195C2276.9 1193.5 2285.1 1187.9 2287.5 1187.5C2289.9 1187.1 2298.5 1190 2300 1191.2C2301.5 1192.5 2303.5 1199.2 2302.5 1200C2301.5 1200.8 2292.1 1198.5 2290 1198.8C2287.9 1199 2282.6 1202.9 2281.2 1202.5C2279.9 1202.1 2275.6 1196.5 2276.2 1195Z" stroke-width="2" fill="#0d0d0d"/>
<ellipse cx="2337.5" cy="1195.5" rx="5.5" ry="5.5" stroke-width="4"/>
<path d="M2325 1160L2325 1182.5L2332.5 1185.5L2345 1181.2L2350 1183.8" stroke-width="3.6"/>
<path d="M2350 1157.5L2362.5 1153.8L2362.5 1198L2350 1197.5Z" stroke-width="2" fill="#0d0d0d"/>
<path d="M2321.2 1158C2324 1156.9 2330.6 1153.9 2337.5 1151.2C2344.4 1148.6 2358.3 1143.5 2362.5 1142" stroke-width="3.2"/>
<path d="M2362.6 1138.6C2363.4 1136.1 2368.6 1133.7 2369.6 1132.5C2370.6 1131.2 2372.2 1125.6 2372.6 1125.9C2373 1126.3 2373.4 1134.1 2373.5 1135.9C2373.5 1137.8 2373.6 1143 2373 1144.7C2372.5 1146.3 2369 1151.3 2367.8 1152.5C2366.6 1153.7 2361.4 1158.3 2360.8 1156.9C2360.3 1155.5 2361.7 1141 2362.6 1138.6Z" stroke-width="2" fill="#0d0d0d"/>
<path d="M2399.4 1094.7L2516.5 1094.7L2516.5 1086L2540.2 1122.1L2516.5 1163.2L2516.5 1148.3L2399.4 1148.3Z" stroke-width="5"/>
<path d="M2372 1120.9L2399.4 1120.9" stroke-width="3.6"/>
<text y="1137" font-size="39" font-weight="bold" fill="#111" stroke="#111" stroke-width="0.6" lengthAdjust="spacingAndGlyphs"><tspan x="2420.5" textLength="36.5">05</tspan><tspan x="2475.5" textLength="37">80</tspan></text>
<text transform="translate(2398.5 1332) rotate(-90)" font-size="29" font-weight="bold" fill="#111" stroke="none" textLength="135" lengthAdjust="spacingAndGlyphs">ET 05/152</text>
<path d="M2062.5 1674L1134 434" stroke-width="2.7" stroke-dasharray="42.8 11" stroke-linecap="butt"/>
<path d="M2063 1674L2063 1429" stroke-width="2.8" stroke-dasharray="44 8" stroke-linecap="butt"/>
<path d="M1134.2 435L1122.5 457.5" stroke-width="3.4"/>
<path d="M1117.5 466.2L1110 481.2" stroke-width="3.4"/>
<path d="M1090.5 527L1103 479.5L1110 486.2L1123 488Z" stroke-width="2" fill="#0d0d0d"/>
</g>
</svg>
</body></html>
